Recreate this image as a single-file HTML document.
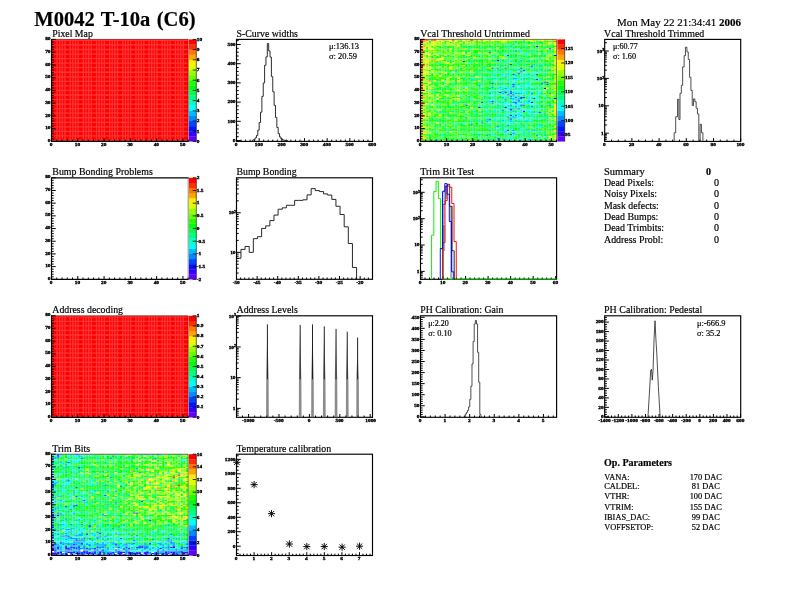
<!DOCTYPE html>
<html lang="en"><head><meta charset="utf-8"><title>M0042 T-10a (C6)</title>
<style>html,body{margin:0;padding:0;background:#fff}body{width:792px;height:612px;overflow:hidden}svg{display:block;font-family:'Liberation Serif','DejaVu Serif',serif}text{stroke:#000;stroke-width:.18px}.t{font-size:4.3px;font-weight:bold;stroke-width:.3px}</style></head><body>
<svg width="792" height="612" viewBox="0 0 792 612">
<rect width="792" height="612" fill="#fff"/>
<text x="34.3" y="25.6" font-size="20.8" font-weight="bold" textLength="161.2" lengthAdjust="spacingAndGlyphs" word-spacing="1.3">M0042 T-10a (C6)</text>
<text x="741" y="25.5" font-size="11" text-anchor="end" textLength="124" lengthAdjust="spacingAndGlyphs">Mon May 22 21:34:41 <tspan font-weight="bold">2006</tspan></text>
<text x="52.3" y="36.9" font-size="9.9" textLength="40.5" lengthAdjust="spacingAndGlyphs">Pixel Map</text>
<rect x="51.5" y="39.4" width="136.7" height="102" fill="#ff0000"/>
<path d="M57.06 39.4V141.4M59.69 39.4V141.4M62.32 39.4V141.4M64.94 39.4V141.4M70.2 39.4V141.4M72.83 39.4V141.4M75.46 39.4V141.4M78.09 39.4V141.4M83.35 39.4V141.4M85.97 39.4V141.4M88.6 39.4V141.4M91.23 39.4V141.4M96.49 39.4V141.4M99.12 39.4V141.4M101.75 39.4V141.4M104.38 39.4V141.4M109.63 39.4V141.4M112.26 39.4V141.4M114.89 39.4V141.4M117.52 39.4V141.4M122.78 39.4V141.4M125.41 39.4V141.4M128.04 39.4V141.4M130.67 39.4V141.4M135.92 39.4V141.4M138.55 39.4V141.4M141.18 39.4V141.4M143.81 39.4V141.4M149.07 39.4V141.4M151.7 39.4V141.4M154.33 39.4V141.4M156.95 39.4V141.4M162.21 39.4V141.4M164.84 39.4V141.4M167.47 39.4V141.4M170.1 39.4V141.4M175.36 39.4V141.4M177.98 39.4V141.4M180.61 39.4V141.4M183.24 39.4V141.4M51.5 40.4H188.2M51.5 44.95H188.2M51.5 49.5H188.2M51.5 54.05H188.2M51.5 58.6H188.2M51.5 63.15H188.2M51.5 67.7H188.2M51.5 72.25H188.2M51.5 76.8H188.2M51.5 81.35H188.2M51.5 85.9H188.2M51.5 90.45H188.2M51.5 95H188.2M51.5 99.55H188.2M51.5 104.1H188.2M51.5 108.65H188.2M51.5 113.2H188.2M51.5 117.75H188.2M51.5 122.3H188.2M51.5 126.85H188.2M51.5 131.4H188.2M51.5 135.95H188.2M51.5 140.5H188.2" stroke="#fff" stroke-opacity="0.2" stroke-width="1.3" fill="none"/>
<path d="M51.5 39.4H188.2V141.4" stroke="#400" stroke-opacity="0.55" stroke-width="1" fill="none"/>
<path d="M51.5 38.9V141.4H188.7" stroke="#000" stroke-width="1.15" fill="none"/>
<path d="M51.5 141.4v-3.3M56.76 141.4v-1.8M62.02 141.4v-1.8M67.27 141.4v-1.8M72.53 141.4v-1.8M77.79 141.4v-3.3M83.05 141.4v-1.8M88.3 141.4v-1.8M93.56 141.4v-1.8M98.82 141.4v-1.8M104.08 141.4v-3.3M109.33 141.4v-1.8M114.59 141.4v-1.8M119.85 141.4v-1.8M125.11 141.4v-1.8M130.37 141.4v-3.3M135.62 141.4v-1.8M140.88 141.4v-1.8M146.14 141.4v-1.8M151.4 141.4v-1.8M156.65 141.4v-3.3M161.91 141.4v-1.8M167.17 141.4v-1.8M172.43 141.4v-1.8M177.68 141.4v-1.8M182.94 141.4v-3.3M188.2 141.4v-1.8" stroke="#000" stroke-width="1" fill="none"/>
<text transform="translate(51.2 145.8) scale(1.25 1)" class="t" text-anchor="middle">0</text>
<text transform="translate(77.49 145.8) scale(1.25 1)" class="t" text-anchor="middle">10</text>
<text transform="translate(103.78 145.8) scale(1.25 1)" class="t" text-anchor="middle">20</text>
<text transform="translate(130.07 145.8) scale(1.25 1)" class="t" text-anchor="middle">30</text>
<text transform="translate(156.35 145.8) scale(1.25 1)" class="t" text-anchor="middle">40</text>
<text transform="translate(182.64 145.8) scale(1.25 1)" class="t" text-anchor="middle">50</text>
<path d="M51.5 141.4h4.2M51.5 138.85h2.2M51.5 136.3h2.2M51.5 133.75h2.2M51.5 131.2h2.2M51.5 128.65h4.2M51.5 126.1h2.2M51.5 123.55h2.2M51.5 121h2.2M51.5 118.45h2.2M51.5 115.9h4.2M51.5 113.35h2.2M51.5 110.8h2.2M51.5 108.25h2.2M51.5 105.7h2.2M51.5 103.15h4.2M51.5 100.6h2.2M51.5 98.05h2.2M51.5 95.5h2.2M51.5 92.95h2.2M51.5 90.4h4.2M51.5 87.85h2.2M51.5 85.3h2.2M51.5 82.75h2.2M51.5 80.2h2.2M51.5 77.65h4.2M51.5 75.1h2.2M51.5 72.55h2.2M51.5 70h2.2M51.5 67.45h2.2M51.5 64.9h4.2M51.5 62.35h2.2M51.5 59.8h2.2M51.5 57.25h2.2M51.5 54.7h2.2M51.5 52.15h4.2M51.5 49.6h2.2M51.5 47.05h2.2M51.5 44.5h2.2M51.5 41.95h2.2M51.5 39.4h4.2" stroke="#000" stroke-width="1" fill="none"/>
<text transform="translate(50.5 142) scale(1.25 1)" class="t" text-anchor="end">0</text>
<text transform="translate(50.5 129.25) scale(1.25 1)" class="t" text-anchor="end">10</text>
<text transform="translate(50.5 116.5) scale(1.25 1)" class="t" text-anchor="end">20</text>
<text transform="translate(50.5 103.75) scale(1.25 1)" class="t" text-anchor="end">30</text>
<text transform="translate(50.5 91) scale(1.25 1)" class="t" text-anchor="end">40</text>
<text transform="translate(50.5 78.25) scale(1.25 1)" class="t" text-anchor="end">50</text>
<text transform="translate(50.5 65.5) scale(1.25 1)" class="t" text-anchor="end">60</text>
<text transform="translate(50.5 52.75) scale(1.25 1)" class="t" text-anchor="end">70</text>
<text transform="translate(50.5 40) scale(1.25 1)" class="t" text-anchor="end">80</text>
<rect x="189" y="136.3" width="7.3" height="5.25" fill="#6300ff"/>
<rect x="189" y="131.2" width="7.3" height="5.25" fill="#3300ff"/>
<rect x="189" y="126.1" width="7.3" height="5.25" fill="#0014ff"/>
<rect x="189" y="121" width="7.3" height="5.25" fill="#0044ff"/>
<rect x="189" y="115.9" width="7.3" height="5.25" fill="#008bff"/>
<rect x="189" y="110.8" width="7.3" height="5.25" fill="#00bbff"/>
<rect x="189" y="105.7" width="7.3" height="5.25" fill="#00fffc"/>
<rect x="189" y="100.6" width="7.3" height="5.25" fill="#00ffcc"/>
<rect x="189" y="95.5" width="7.3" height="5.25" fill="#00ff85"/>
<rect x="189" y="90.4" width="7.3" height="5.25" fill="#00ff55"/>
<rect x="189" y="85.3" width="7.3" height="5.25" fill="#00ff0e"/>
<rect x="189" y="80.2" width="7.3" height="5.25" fill="#22ff00"/>
<rect x="189" y="75.1" width="7.3" height="5.25" fill="#69ff00"/>
<rect x="189" y="70" width="7.3" height="5.25" fill="#99ff00"/>
<rect x="189" y="64.9" width="7.3" height="5.25" fill="#e0ff00"/>
<rect x="189" y="59.8" width="7.3" height="5.25" fill="#ffee00"/>
<rect x="189" y="54.7" width="7.3" height="5.25" fill="#ffa700"/>
<rect x="189" y="49.6" width="7.3" height="5.25" fill="#ff7700"/>
<rect x="189" y="44.5" width="7.3" height="5.25" fill="#ff3000"/>
<rect x="189" y="39.4" width="7.3" height="5.25" fill="#ff0000"/>
<path d="M196.3 39.4L196.3 141.4" stroke="#000" stroke-width="0.6"/>
<text transform="translate(196.7 142.7) scale(1.25 1)" class="t">0</text>
<text transform="translate(196.7 132.5) scale(1.25 1)" class="t">1</text>
<text transform="translate(196.7 122.3) scale(1.25 1)" class="t">2</text>
<text transform="translate(196.7 112.1) scale(1.25 1)" class="t">3</text>
<text transform="translate(196.7 101.9) scale(1.25 1)" class="t">4</text>
<text transform="translate(196.7 91.7) scale(1.25 1)" class="t">5</text>
<text transform="translate(196.7 81.5) scale(1.25 1)" class="t">6</text>
<text transform="translate(196.7 71.3) scale(1.25 1)" class="t">7</text>
<text transform="translate(196.7 61.1) scale(1.25 1)" class="t">8</text>
<text transform="translate(196.7 50.9) scale(1.25 1)" class="t">9</text>
<text transform="translate(196.7 40.7) scale(1.25 1)" class="t">10</text>
<path d="M196.3 141.4h-3.6M196.3 131.2h-3.6M196.3 121h-3.6M196.3 110.8h-3.6M196.3 100.6h-3.6M196.3 90.4h-3.6M196.3 80.2h-3.6M196.3 70h-3.6M196.3 59.8h-3.6M196.3 49.6h-3.6M196.3 39.4h-3.6" stroke="#000" stroke-width="0.8" fill="none"/>
<text x="236.5" y="36.9" font-size="9.9" textLength="61.4" lengthAdjust="spacingAndGlyphs">S-Curve widths</text>
<rect x="236.5" y="39.4" width="136" height="102" fill="none" stroke="#000" stroke-width="1.15"/>
<path d="M236.5 141.4v-3.3M241.03 141.4v-1.8M245.57 141.4v-1.8M250.1 141.4v-1.8M254.63 141.4v-1.8M259.17 141.4v-3.3M263.7 141.4v-1.8M268.23 141.4v-1.8M272.77 141.4v-1.8M277.3 141.4v-1.8M281.83 141.4v-3.3M286.37 141.4v-1.8M290.9 141.4v-1.8M295.43 141.4v-1.8M299.97 141.4v-1.8M304.5 141.4v-3.3M309.03 141.4v-1.8M313.57 141.4v-1.8M318.1 141.4v-1.8M322.63 141.4v-1.8M327.17 141.4v-3.3M331.7 141.4v-1.8M336.23 141.4v-1.8M340.77 141.4v-1.8M345.3 141.4v-1.8M349.83 141.4v-3.3M354.37 141.4v-1.8M358.9 141.4v-1.8M363.43 141.4v-1.8M367.97 141.4v-1.8M372.5 141.4v-3.3" stroke="#000" stroke-width="1" fill="none"/>
<text transform="translate(236.2 145.8) scale(1.25 1)" class="t" text-anchor="middle">0</text>
<text transform="translate(258.87 145.8) scale(1.25 1)" class="t" text-anchor="middle">100</text>
<text transform="translate(281.53 145.8) scale(1.25 1)" class="t" text-anchor="middle">200</text>
<text transform="translate(304.2 145.8) scale(1.25 1)" class="t" text-anchor="middle">300</text>
<text transform="translate(326.87 145.8) scale(1.25 1)" class="t" text-anchor="middle">400</text>
<text transform="translate(349.53 145.8) scale(1.25 1)" class="t" text-anchor="middle">500</text>
<text transform="translate(372.2 145.8) scale(1.25 1)" class="t" text-anchor="middle">600</text>
<path d="M236.5 140.5h4.2M236.5 136.66h2.2M236.5 132.82h2.2M236.5 128.98h2.2M236.5 125.14h2.2M236.5 121.3h4.2M236.5 117.46h2.2M236.5 113.62h2.2M236.5 109.78h2.2M236.5 105.94h2.2M236.5 102.1h4.2M236.5 98.26h2.2M236.5 94.42h2.2M236.5 90.58h2.2M236.5 86.74h2.2M236.5 82.9h4.2M236.5 79.06h2.2M236.5 75.22h2.2M236.5 71.38h2.2M236.5 67.54h2.2M236.5 63.7h4.2M236.5 59.86h2.2M236.5 56.02h2.2M236.5 52.18h2.2M236.5 48.34h2.2M236.5 44.5h4.2M236.5 40.66h2.2" stroke="#000" stroke-width="1" fill="none"/>
<text transform="translate(235.5 141.8) scale(1.25 1)" class="t" text-anchor="end">0</text>
<text transform="translate(235.5 122.6) scale(1.25 1)" class="t" text-anchor="end">100</text>
<text transform="translate(235.5 103.4) scale(1.25 1)" class="t" text-anchor="end">200</text>
<text transform="translate(235.5 84.2) scale(1.25 1)" class="t" text-anchor="end">300</text>
<text transform="translate(235.5 65) scale(1.25 1)" class="t" text-anchor="end">400</text>
<text transform="translate(235.5 45.8) scale(1.25 1)" class="t" text-anchor="end">500</text>
<path d="M252.36 141.4V140.05H253.72V139.41H255.08V137.88H256.44V135.34H257.8V130.11H259.16V122.48H260.52V112.2H261.88V96.38H263.24V82.98H264.6V65.23H265.96V56.81H267.32V43.54H268.68V50.89H270.04V57.08H271.4V76.62H272.76V91.78H274.12V105.31H275.48V117.38H276.84V127.45H278.2V133.61H279.56V136.9H280.92V139.01H282.28V139.83H283.64V140.26H285V140.42H286.36V140.47H287.72V141.4" stroke="#222" stroke-width="0.95" fill="none" stroke-linejoin="miter"/>
<text x="328.9" y="48.8" font-size="7.8" textLength="30.1" lengthAdjust="spacingAndGlyphs">μ:136.13</text>
<text x="328.9" y="58.6" font-size="7.8" textLength="28.2" lengthAdjust="spacingAndGlyphs">σ: 20.59</text>
<text x="420.2" y="36.9" font-size="9.9" textLength="109.8" lengthAdjust="spacingAndGlyphs">Vcal Threshold Untrimmed</text>
<g stroke-width="1.32" fill="none">
<path stroke="#3300ff" d="M464.99 105.06h2.62M506.87 94.86h2.62M499.02 92.31h2.62M543.51 88.49h2.62M543.51 82.11h2.62M517.34 73.19h2.62M535.66 46.41h2.62"/>
<path stroke="#0014ff" d="M483.32 140.76h2.62M488.55 119.09h2.62M509.49 119.09h2.62M509.49 115.26h2.62M522.58 111.44h2.62M517.34 108.89h2.62M478.08 107.61h2.62M504.25 107.61h2.62M519.96 105.06h5.23M530.43 102.51h2.62M491.17 101.24h2.62M504.25 99.96h2.62M553.98 98.69h2.62M509.49 96.14h2.62M509.49 91.04h2.62M546.13 82.11h2.62M535.66 79.56h2.62M491.17 68.09h2.62M519.96 68.09h2.62M530.43 66.81h2.62M509.49 64.26h2.62M496.4 60.44h2.62M553.98 55.34h2.62M488.55 52.79h2.62M548.75 48.96h2.62"/>
<path stroke="#0044ff" d="M496.4 138.21h2.62M509.49 134.39h2.62M512.11 133.11h2.62M504.25 131.84h2.62M506.87 130.56h2.62M470.23 124.19h2.62M480.7 122.91h2.62M464.99 117.81h2.62M506.87 117.81h2.62M538.28 112.71h2.62M501.64 110.16h2.62M509.49 110.16h2.62M509.49 108.89h2.62M509.49 105.06h2.62M548.75 105.06h2.62M491.17 103.79h2.62M514.72 103.79h2.62M480.7 102.51h2.62M519.96 98.69h2.62M533.04 98.69h2.62M519.96 97.41h5.23M512.11 94.86h2.62M509.49 93.59h2.62M504.25 92.31h2.62M491.17 87.21h2.62M478.08 85.94h2.62M512.11 84.66h2.62M546.13 84.66h2.62M491.17 83.39h2.62M512.11 74.46h2.62M535.66 74.46h2.62M519.96 71.91h2.62M522.58 70.64h2.62M496.4 68.09h2.62M504.25 68.09h2.62M462.38 61.71h2.62M506.87 55.34h2.62"/>
<path stroke="#008bff" d="M485.93 135.66h2.62M535.66 135.66h2.62M527.81 131.84h2.62M512.11 130.56h2.62M496.4 126.74h2.62M506.87 125.46h2.62M485.93 119.09h2.62M509.49 117.81h7.85M522.58 117.81h2.62M514.72 115.26h2.62M543.51 113.99h2.62M512.11 108.89h2.62M530.43 106.34h2.62M496.4 105.06h2.62M512.11 102.51h5.23M517.34 101.24h2.62M527.81 101.24h2.62M514.72 99.96h5.23M509.49 98.69h2.62M514.72 97.41h2.62M517.34 96.14h2.62M530.43 93.59h2.62M548.75 93.59h2.62M509.49 92.31h2.62M501.64 91.04h5.23M504.25 88.49h2.62M499.02 87.21h2.62M512.11 87.21h2.62M512.11 85.94h2.62M538.28 85.94h2.62M540.9 83.39h2.62M504.25 77.01h2.62M454.52 71.91h2.62M464.99 52.79h2.62"/>
<path stroke="#00bbff" d="M488.55 140.76h2.62M527.81 139.49h2.62M543.51 135.66h2.62M478.08 134.39h2.62M488.55 131.84h2.62M533.04 130.56h2.62M485.93 121.64h2.62M509.49 121.64h2.62M525.19 121.64h2.62M501.64 120.36h2.62M517.34 117.81h2.62M512.11 116.54h2.62M519.96 115.26h2.62M517.34 113.99h2.62M533.04 112.71h2.62M512.11 111.44h2.62M519.96 110.16h2.62M493.78 108.89h2.62M506.87 108.89h2.62M514.72 108.89h2.62M514.72 106.34h2.62M506.87 105.06h2.62M517.34 105.06h2.62M538.28 105.06h2.62M519.96 102.51h2.62M488.55 101.24h2.62M493.78 99.96h2.62M512.11 99.96h2.62M527.81 99.96h2.62M512.11 98.69h2.62M517.34 98.69h2.62M501.64 97.41h2.62M512.11 96.14h2.62M493.78 94.86h2.62M530.43 94.86h2.62M488.55 93.59h2.62M501.64 93.59h2.62M514.72 93.59h7.85M512.11 92.31h2.62M493.78 91.04h2.62M530.43 89.76h2.62M506.87 87.21h2.62M517.34 84.66h2.62M499.02 83.39h2.62M506.87 83.39h2.62M496.4 82.11h2.62M514.72 82.11h2.62M512.11 78.29h5.23M522.58 78.29h2.62M543.51 71.91h2.62M517.34 69.36h2.62M527.81 66.81h2.62M533.04 64.26h2.62M519.96 60.44h2.62M514.72 51.51h2.62"/>
<path stroke="#00fffc" d="M499.02 139.49h2.62M506.87 139.49h2.62M512.11 139.49h2.62M517.34 139.49h2.62M525.19 139.49h2.62M519.96 138.21h5.23M496.4 136.94h2.62M459.76 135.66h2.62M506.87 135.66h2.62M514.72 135.66h2.62M478.08 133.11h2.62M488.55 133.11h2.62M504.25 133.11h2.62M514.72 133.11h2.62M512.11 131.84h2.62M519.96 131.84h2.62M533.04 131.84h2.62M436.2 130.56h2.62M499.02 130.56h2.62M527.81 130.56h2.62M496.4 129.29h2.62M504.25 129.29h2.62M509.49 129.29h2.62M519.96 129.29h2.62M533.04 128.01h2.62M525.19 126.74h2.62M538.28 126.74h2.62M499.02 124.19h2.62M506.87 124.19h2.62M506.87 122.91h2.62M488.55 121.64h2.62M501.64 121.64h2.62M527.81 121.64h2.62M551.37 121.64h2.62M512.11 120.36h2.62M519.96 120.36h2.62M527.81 120.36h5.23M514.72 119.09h2.62M525.19 119.09h2.62M538.28 119.09h2.62M488.55 117.81h2.62M519.96 117.81h2.62M527.81 117.81h5.23M517.34 116.54h2.62M504.25 115.26h5.23M535.66 113.99h2.62M506.87 112.71h2.62M512.11 112.71h2.62M517.34 112.71h2.62M527.81 112.71h2.62M499.02 111.44h2.62M517.34 111.44h5.23M525.19 111.44h2.62M472.85 110.16h2.62M480.7 110.16h2.62M485.93 110.16h2.62M506.87 110.16h2.62M527.81 110.16h5.23M488.55 107.61h2.62M506.87 107.61h2.62M517.34 107.61h2.62M480.7 106.34h2.62M517.34 106.34h2.62M491.17 105.06h2.62M514.72 105.06h2.62M493.78 103.79h2.62M504.25 103.79h5.23M512.11 103.79h2.62M517.34 103.79h5.23M527.81 103.79h2.62M533.04 103.79h2.62M488.55 102.51h2.62M496.4 102.51h2.62M504.25 102.51h2.62M525.19 102.51h5.23M501.64 101.24h2.62M512.11 101.24h2.62M519.96 101.24h2.62M488.55 99.96h5.23M514.72 98.69h2.62M525.19 98.69h5.23M535.66 98.69h5.23M512.11 97.41h2.62M527.81 97.41h2.62M533.04 97.41h5.23M501.64 96.14h5.23M530.43 96.14h2.62M543.51 96.14h2.62M491.17 94.86h2.62M491.17 93.59h2.62M496.4 93.59h2.62M522.58 93.59h2.62M514.72 92.31h2.62M519.96 92.31h2.62M538.28 92.31h5.23M483.32 91.04h2.62M517.34 91.04h7.85M530.43 91.04h5.23M478.08 89.76h2.62M488.55 89.76h2.62M496.4 89.76h2.62M514.72 89.76h2.62M519.96 89.76h2.62M499.02 88.49h2.62M512.11 88.49h2.62M525.19 88.49h2.62M517.34 87.21h2.62M538.28 87.21h2.62M499.02 85.94h5.23M527.81 85.94h5.23M525.19 84.66h2.62M514.72 83.39h2.62M493.78 82.11h2.62M512.11 82.11h2.62M514.72 80.84h2.62M519.96 80.84h2.62M483.32 79.56h2.62M493.78 79.56h5.23M501.64 79.56h2.62M514.72 79.56h5.23M530.43 79.56h2.62M519.96 78.29h2.62M533.04 78.29h2.62M483.32 77.01h2.62M493.78 77.01h2.62M514.72 77.01h2.62M525.19 77.01h2.62M501.64 75.74h2.62M519.96 75.74h2.62M525.19 75.74h5.23M501.64 74.46h2.62M519.96 74.46h2.62M530.43 74.46h2.62M522.58 73.19h2.62M533.04 73.19h5.23M504.25 71.91h2.62M509.49 70.64h2.62M517.34 70.64h2.62M538.28 70.64h2.62M530.43 69.36h2.62M546.13 68.09h2.62M540.9 64.26h2.62M506.87 61.71h2.62M517.34 56.61h2.62M504.25 55.34h2.62M514.72 52.79h2.62M519.96 52.79h2.62M506.87 51.51h2.62M514.72 48.96h2.62M514.72 45.14h2.62"/>
<path stroke="#00ffcc" d="M457.14 140.76h2.62M462.38 140.76h2.62M493.78 140.76h7.85M530.43 140.76h2.62M551.37 140.76h2.62M480.7 139.49h2.62M509.49 139.49h2.62M519.96 139.49h2.62M530.43 139.49h2.62M441.44 138.21h2.62M491.17 138.21h2.62M506.87 138.21h5.23M527.81 138.21h2.62M538.28 138.21h2.62M459.76 136.94h2.62M512.11 136.94h2.62M538.28 136.94h2.62M543.51 136.94h2.62M491.17 135.66h5.23M512.11 135.66h2.62M425.73 134.39h2.62M491.17 134.39h2.62M512.11 134.39h2.62M519.96 134.39h2.62M525.19 134.39h2.62M540.9 134.39h2.62M441.44 133.11h2.62M483.32 133.11h2.62M540.9 133.11h2.62M499.02 131.84h2.62M506.87 131.84h2.62M504.25 130.56h2.62M509.49 130.56h2.62M540.9 130.56h2.62M446.67 129.29h2.62M488.55 129.29h2.62M522.58 129.29h2.62M496.4 128.01h5.23M504.25 128.01h5.23M538.28 128.01h2.62M517.34 126.74h2.62M530.43 126.74h2.62M540.9 126.74h2.62M454.52 125.46h2.62M491.17 125.46h2.62M512.11 125.46h2.62M517.34 125.46h2.62M525.19 125.46h2.62M441.44 124.19h2.62M454.52 124.19h2.62M462.38 124.19h2.62M478.08 124.19h2.62M509.49 124.19h2.62M459.76 122.91h2.62M488.55 122.91h2.62M509.49 122.91h2.62M514.72 122.91h5.23M478.08 121.64h2.62M483.32 121.64h2.62M493.78 121.64h2.62M504.25 121.64h5.23M548.75 121.64h2.62M470.23 120.36h2.62M493.78 120.36h7.85M504.25 120.36h2.62M517.34 120.36h2.62M522.58 120.36h2.62M446.67 119.09h2.62M491.17 119.09h5.23M499.02 119.09h2.62M517.34 119.09h2.62M522.58 119.09h2.62M478.08 117.81h2.62M496.4 117.81h5.23M504.25 117.81h2.62M501.64 116.54h2.62M509.49 116.54h2.62M514.72 116.54h2.62M519.96 116.54h2.62M488.55 115.26h2.62M496.4 115.26h2.62M512.11 115.26h2.62M517.34 115.26h2.62M522.58 115.26h2.62M533.04 115.26h2.62M540.9 115.26h2.62M496.4 113.99h5.23M504.25 113.99h2.62M514.72 113.99h2.62M519.96 113.99h2.62M527.81 113.99h7.85M483.32 112.71h2.62M488.55 112.71h2.62M540.9 112.71h2.62M436.2 111.44h2.62M485.93 111.44h2.62M493.78 111.44h2.62M506.87 111.44h5.23M527.81 111.44h5.23M535.66 111.44h2.62M491.17 110.16h7.85M504.25 110.16h2.62M525.19 110.16h2.62M533.04 110.16h2.62M538.28 110.16h2.62M478.08 108.89h2.62M522.58 108.89h2.62M530.43 108.89h2.62M535.66 108.89h2.62M509.49 107.61h5.23M519.96 107.61h2.62M501.64 106.34h2.62M533.04 106.34h2.62M538.28 106.34h2.62M433.59 105.06h2.62M451.91 105.06h2.62M478.08 105.06h2.62M501.64 105.06h5.23M512.11 105.06h2.62M533.04 105.06h2.62M543.51 105.06h2.62M499.02 103.79h5.23M509.49 103.79h2.62M522.58 103.79h5.23M530.43 103.79h2.62M540.9 103.79h2.62M506.87 102.51h2.62M517.34 102.51h2.62M522.58 102.51h2.62M535.66 102.51h2.62M493.78 101.24h2.62M506.87 101.24h5.23M514.72 101.24h2.62M533.04 101.24h2.62M538.28 101.24h2.62M543.51 101.24h2.62M478.08 99.96h2.62M522.58 99.96h2.62M530.43 99.96h2.62M535.66 99.96h2.62M433.59 98.69h2.62M470.23 98.69h2.62M485.93 98.69h2.62M491.17 98.69h2.62M499.02 98.69h7.85M546.13 98.69h2.62M470.23 97.41h2.62M493.78 97.41h2.62M509.49 97.41h2.62M517.34 97.41h2.62M530.43 97.41h2.62M480.7 96.14h2.62M491.17 96.14h2.62M506.87 96.14h2.62M527.81 96.14h2.62M533.04 96.14h2.62M480.7 94.86h2.62M488.55 94.86h2.62M499.02 94.86h2.62M514.72 94.86h2.62M519.96 94.86h2.62M525.19 94.86h2.62M535.66 94.86h5.23M483.32 93.59h2.62M499.02 93.59h2.62M506.87 93.59h2.62M512.11 93.59h2.62M525.19 93.59h5.23M535.66 93.59h2.62M501.64 92.31h2.62M506.87 92.31h2.62M522.58 92.31h5.23M535.66 92.31h2.62M428.35 91.04h2.62M488.55 91.04h2.62M506.87 91.04h2.62M514.72 91.04h2.62M538.28 91.04h2.62M543.51 91.04h2.62M438.82 89.76h2.62M491.17 89.76h2.62M499.02 89.76h2.62M504.25 89.76h5.23M517.34 89.76h2.62M535.66 89.76h2.62M457.14 88.49h2.62M501.64 88.49h2.62M506.87 88.49h5.23M514.72 88.49h2.62M522.58 88.49h2.62M538.28 88.49h5.23M464.99 87.21h2.62M480.7 87.21h2.62M493.78 87.21h5.23M504.25 87.21h2.62M509.49 87.21h2.62M514.72 87.21h2.62M519.96 87.21h5.23M530.43 87.21h5.23M470.23 85.94h2.62M504.25 85.94h2.62M509.49 85.94h2.62M517.34 85.94h10.47M540.9 85.94h2.62M519.96 84.66h2.62M527.81 84.66h2.62M451.91 83.39h2.62M509.49 83.39h2.62M525.19 83.39h5.23M519.96 82.11h2.62M525.19 82.11h2.62M444.06 80.84h2.62M493.78 80.84h2.62M506.87 80.84h2.62M512.11 80.84h2.62M538.28 80.84h2.62M506.87 79.56h5.23M527.81 79.56h2.62M538.28 79.56h2.62M464.99 78.29h2.62M470.23 78.29h5.23M478.08 78.29h2.62M506.87 78.29h2.62M517.34 78.29h2.62M535.66 78.29h5.23M491.17 77.01h2.62M499.02 77.01h2.62M509.49 77.01h2.62M519.96 77.01h2.62M530.43 77.01h5.23M499.02 75.74h2.62M504.25 75.74h5.23M512.11 75.74h2.62M522.58 75.74h2.62M533.04 75.74h2.62M478.08 74.46h2.62M493.78 74.46h2.62M504.25 74.46h2.62M514.72 74.46h2.62M540.9 74.46h2.62M493.78 73.19h2.62M499.02 73.19h2.62M509.49 73.19h2.62M525.19 73.19h2.62M530.43 73.19h2.62M480.7 71.91h2.62M499.02 71.91h2.62M506.87 71.91h5.23M517.34 71.91h2.62M533.04 71.91h2.62M493.78 70.64h2.62M501.64 70.64h2.62M506.87 70.64h2.62M441.44 69.36h2.62M493.78 69.36h2.62M514.72 69.36h2.62M517.34 68.09h2.62M535.66 68.09h2.62M493.78 66.81h2.62M514.72 66.81h2.62M533.04 66.81h2.62M533.04 65.54h2.62M504.25 64.26h2.62M514.72 64.26h2.62M538.28 64.26h2.62M467.61 62.99h2.62M504.25 62.99h2.62M512.11 62.99h2.62M525.19 62.99h2.62M493.78 61.71h2.62M499.02 61.71h2.62M504.25 60.44h2.62M509.49 60.44h2.62M517.34 60.44h2.62M527.81 60.44h5.23M538.28 60.44h2.62M491.17 56.61h2.62M525.19 55.34h2.62M491.17 54.06h2.62M519.96 54.06h2.62M525.19 54.06h2.62M535.66 54.06h2.62M522.58 52.79h5.23M535.66 52.79h2.62M543.51 52.79h2.62M488.55 51.51h2.62M519.96 51.51h2.62M527.81 51.51h2.62M533.04 51.51h2.62M470.23 50.24h2.62M509.49 48.96h2.62M517.34 48.96h2.62M530.43 48.96h2.62M444.06 47.69h2.62M506.87 47.69h2.62M512.11 46.41h2.62M525.19 46.41h2.62M530.43 46.41h2.62M514.72 43.86h2.62M533.04 43.86h2.62"/>
<path stroke="#00ff85" d="M430.97 140.76h5.23M480.7 140.76h2.62M517.34 140.76h5.23M527.81 140.76h2.62M449.29 139.49h2.62M459.76 139.49h2.62M478.08 139.49h2.62M496.4 139.49h2.62M501.64 139.49h5.23M540.9 139.49h2.62M546.13 139.49h2.62M430.97 138.21h2.62M436.2 138.21h2.62M457.14 138.21h2.62M488.55 138.21h2.62M501.64 138.21h5.23M517.34 138.21h2.62M530.43 138.21h7.85M438.82 136.94h2.62M454.52 136.94h2.62M467.61 136.94h2.62M478.08 136.94h2.62M483.32 136.94h2.62M506.87 136.94h5.23M525.19 136.94h2.62M441.44 135.66h2.62M501.64 135.66h2.62M519.96 135.66h2.62M525.19 135.66h7.85M441.44 134.39h2.62M446.67 134.39h2.62M470.23 134.39h2.62M485.93 134.39h2.62M493.78 134.39h2.62M504.25 134.39h2.62M514.72 134.39h2.62M522.58 134.39h2.62M527.81 134.39h2.62M436.2 133.11h2.62M470.23 133.11h2.62M475.46 133.11h2.62M480.7 133.11h2.62M493.78 133.11h2.62M499.02 133.11h2.62M506.87 133.11h2.62M517.34 133.11h2.62M522.58 133.11h2.62M535.66 133.11h5.23M428.35 131.84h5.23M491.17 131.84h2.62M501.64 131.84h2.62M522.58 131.84h5.23M538.28 131.84h2.62M446.67 130.56h2.62M457.14 130.56h2.62M462.38 130.56h2.62M470.23 130.56h2.62M475.46 130.56h2.62M493.78 130.56h2.62M501.64 130.56h2.62M514.72 130.56h10.47M535.66 130.56h2.62M464.99 129.29h2.62M472.85 129.29h2.62M491.17 129.29h5.23M501.64 129.29h2.62M512.11 129.29h2.62M530.43 129.29h2.62M454.52 128.01h2.62M472.85 128.01h2.62M501.64 128.01h2.62M512.11 128.01h2.62M519.96 128.01h7.85M548.75 128.01h2.62M436.2 126.74h2.62M444.06 126.74h2.62M485.93 126.74h2.62M499.02 126.74h5.23M509.49 126.74h7.85M519.96 126.74h2.62M535.66 126.74h2.62M428.35 125.46h2.62M464.99 125.46h2.62M485.93 125.46h5.23M499.02 125.46h5.23M535.66 125.46h7.85M546.13 125.46h2.62M436.2 124.19h2.62M444.06 124.19h2.62M488.55 124.19h2.62M496.4 124.19h2.62M501.64 124.19h5.23M514.72 124.19h5.23M530.43 124.19h2.62M535.66 124.19h7.85M546.13 124.19h2.62M425.73 122.91h2.62M438.82 122.91h2.62M451.91 122.91h2.62M462.38 122.91h5.23M470.23 122.91h2.62M478.08 122.91h2.62M512.11 122.91h2.62M522.58 122.91h7.85M535.66 122.91h2.62M553.98 122.91h2.62M512.11 121.64h5.23M522.58 121.64h2.62M533.04 121.64h2.62M546.13 121.64h2.62M444.06 120.36h2.62M451.91 120.36h2.62M467.61 120.36h2.62M475.46 120.36h5.23M485.93 120.36h5.23M506.87 120.36h5.23M433.59 119.09h2.62M449.29 119.09h5.23M480.7 119.09h2.62M496.4 119.09h2.62M501.64 119.09h2.62M506.87 119.09h2.62M519.96 119.09h2.62M530.43 119.09h7.85M546.13 119.09h5.23M493.78 117.81h2.62M525.19 117.81h2.62M535.66 117.81h13.09M430.97 116.54h2.62M472.85 116.54h2.62M480.7 116.54h2.62M485.93 116.54h2.62M493.78 116.54h2.62M499.02 116.54h2.62M504.25 116.54h2.62M525.19 116.54h7.85M535.66 116.54h2.62M546.13 116.54h2.62M464.99 115.26h2.62M472.85 115.26h2.62M485.93 115.26h2.62M501.64 115.26h2.62M525.19 115.26h5.23M438.82 113.99h2.62M462.38 113.99h5.23M480.7 113.99h2.62M506.87 113.99h7.85M522.58 113.99h2.62M454.52 112.71h2.62M472.85 112.71h2.62M485.93 112.71h2.62M491.17 112.71h5.23M499.02 112.71h2.62M514.72 112.71h2.62M519.96 112.71h2.62M535.66 112.71h2.62M433.59 111.44h2.62M454.52 111.44h2.62M462.38 111.44h2.62M488.55 111.44h2.62M501.64 111.44h5.23M514.72 111.44h2.62M543.51 111.44h2.62M459.76 110.16h5.23M483.32 110.16h2.62M517.34 110.16h2.62M522.58 110.16h2.62M535.66 110.16h2.62M540.9 110.16h2.62M425.73 108.89h2.62M459.76 108.89h2.62M485.93 108.89h2.62M499.02 108.89h5.23M525.19 108.89h5.23M540.9 108.89h2.62M436.2 107.61h2.62M454.52 107.61h2.62M472.85 107.61h2.62M483.32 107.61h5.23M499.02 107.61h2.62M525.19 107.61h10.47M538.28 107.61h2.62M438.82 106.34h2.62M464.99 106.34h2.62M485.93 106.34h2.62M496.4 106.34h5.23M504.25 106.34h10.47M522.58 106.34h2.62M527.81 106.34h2.62M535.66 106.34h2.62M548.75 106.34h5.23M483.32 105.06h2.62M488.55 105.06h2.62M499.02 105.06h2.62M527.81 105.06h5.23M535.66 105.06h2.62M430.97 103.79h2.62M451.91 103.79h2.62M457.14 103.79h2.62M470.23 103.79h2.62M480.7 103.79h2.62M496.4 103.79h2.62M451.91 102.51h5.23M475.46 102.51h2.62M483.32 102.51h5.23M501.64 102.51h2.62M533.04 102.51h2.62M540.9 102.51h2.62M459.76 101.24h2.62M470.23 101.24h5.23M478.08 101.24h2.62M483.32 101.24h2.62M496.4 101.24h5.23M522.58 101.24h5.23M530.43 101.24h2.62M535.66 101.24h2.62M457.14 99.96h2.62M464.99 99.96h2.62M470.23 99.96h2.62M475.46 99.96h2.62M485.93 99.96h2.62M543.51 99.96h2.62M444.06 98.69h5.23M464.99 98.69h2.62M483.32 98.69h2.62M493.78 98.69h2.62M506.87 98.69h2.62M522.58 98.69h2.62M551.37 98.69h2.62M436.2 97.41h2.62M459.76 97.41h2.62M464.99 97.41h2.62M485.93 97.41h5.23M506.87 97.41h2.62M543.51 97.41h2.62M454.52 96.14h2.62M478.08 96.14h2.62M496.4 96.14h2.62M519.96 96.14h2.62M525.19 96.14h2.62M459.76 94.86h2.62M501.64 94.86h5.23M509.49 94.86h2.62M540.9 94.86h5.23M433.59 93.59h2.62M478.08 93.59h5.23M493.78 93.59h2.62M538.28 93.59h2.62M459.76 92.31h2.62M467.61 92.31h2.62M478.08 92.31h5.23M485.93 92.31h2.62M491.17 92.31h2.62M496.4 92.31h2.62M517.34 92.31h2.62M530.43 92.31h2.62M451.91 91.04h2.62M491.17 91.04h2.62M496.4 91.04h5.23M512.11 91.04h2.62M525.19 91.04h2.62M459.76 89.76h2.62M493.78 89.76h2.62M509.49 89.76h2.62M525.19 89.76h5.23M433.59 88.49h2.62M467.61 88.49h2.62M517.34 88.49h2.62M527.81 88.49h10.47M462.38 87.21h2.62M467.61 87.21h2.62M475.46 87.21h2.62M488.55 87.21h2.62M501.64 87.21h2.62M525.19 87.21h5.23M454.52 85.94h2.62M464.99 85.94h2.62M480.7 85.94h2.62M493.78 85.94h2.62M533.04 85.94h2.62M478.08 84.66h2.62M483.32 84.66h2.62M488.55 84.66h2.62M501.64 84.66h5.23M509.49 84.66h2.62M538.28 84.66h2.62M436.2 83.39h2.62M444.06 83.39h2.62M470.23 83.39h2.62M478.08 83.39h5.23M485.93 83.39h2.62M501.64 83.39h2.62M530.43 83.39h2.62M499.02 82.11h2.62M504.25 82.11h2.62M509.49 82.11h2.62M527.81 82.11h2.62M501.64 80.84h2.62M509.49 80.84h2.62M522.58 80.84h10.47M535.66 80.84h2.62M467.61 79.56h2.62M478.08 79.56h2.62M485.93 79.56h7.85M512.11 79.56h2.62M522.58 79.56h2.62M540.9 79.56h2.62M475.46 78.29h2.62M485.93 78.29h2.62M496.4 78.29h2.62M504.25 78.29h2.62M509.49 78.29h2.62M527.81 78.29h2.62M428.35 77.01h2.62M462.38 77.01h2.62M470.23 77.01h2.62M488.55 77.01h2.62M512.11 77.01h2.62M522.58 77.01h2.62M527.81 77.01h2.62M441.44 75.74h2.62M451.91 75.74h2.62M475.46 75.74h2.62M480.7 75.74h2.62M488.55 75.74h7.85M509.49 75.74h2.62M491.17 74.46h2.62M506.87 74.46h2.62M525.19 74.46h2.62M533.04 74.46h2.62M543.51 74.46h2.62M449.29 73.19h5.23M485.93 73.19h7.85M496.4 73.19h2.62M506.87 73.19h2.62M514.72 73.19h2.62M538.28 73.19h2.62M546.13 73.19h2.62M467.61 71.91h2.62M493.78 71.91h5.23M512.11 71.91h5.23M522.58 71.91h2.62M527.81 71.91h2.62M540.9 71.91h2.62M446.67 70.64h2.62M451.91 70.64h2.62M475.46 70.64h2.62M483.32 70.64h2.62M525.19 70.64h2.62M530.43 70.64h2.62M438.82 69.36h2.62M454.52 69.36h2.62M483.32 69.36h2.62M491.17 69.36h2.62M496.4 69.36h2.62M522.58 69.36h5.23M540.9 69.36h2.62M546.13 69.36h2.62M493.78 68.09h2.62M499.02 68.09h5.23M509.49 68.09h5.23M538.28 68.09h5.23M499.02 66.81h2.62M504.25 66.81h2.62M509.49 66.81h2.62M535.66 66.81h2.62M496.4 65.54h7.85M506.87 65.54h2.62M517.34 65.54h2.62M522.58 65.54h5.23M543.51 65.54h2.62M467.61 64.26h2.62M496.4 64.26h2.62M522.58 64.26h2.62M535.66 64.26h2.62M470.23 62.99h2.62M499.02 62.99h2.62M451.91 61.71h2.62M470.23 61.71h5.23M501.64 61.71h2.62M522.58 61.71h2.62M530.43 61.71h2.62M449.29 60.44h2.62M499.02 60.44h2.62M506.87 60.44h2.62M512.11 60.44h2.62M478.08 59.16h2.62M499.02 59.16h2.62M506.87 59.16h2.62M512.11 59.16h2.62M527.81 59.16h2.62M535.66 59.16h7.85M491.17 57.89h2.62M533.04 57.89h2.62M538.28 57.89h2.62M480.7 56.61h2.62M488.55 56.61h2.62M493.78 56.61h2.62M504.25 56.61h5.23M512.11 56.61h2.62M525.19 56.61h2.62M475.46 55.34h2.62M480.7 55.34h2.62M493.78 55.34h2.62M517.34 55.34h2.62M522.58 55.34h2.62M438.82 54.06h2.62M504.25 54.06h2.62M527.81 54.06h2.62M543.51 54.06h2.62M509.49 52.79h2.62M533.04 52.79h2.62M538.28 52.79h2.62M446.67 51.51h2.62M457.14 51.51h2.62M493.78 51.51h2.62M504.25 51.51h2.62M512.11 51.51h2.62M530.43 51.51h2.62M548.75 51.51h2.62M480.7 50.24h2.62M491.17 50.24h2.62M517.34 50.24h5.23M533.04 50.24h2.62M540.9 50.24h2.62M485.93 48.96h2.62M512.11 48.96h2.62M451.91 47.69h2.62M462.38 47.69h10.47M480.7 47.69h2.62M488.55 47.69h2.62M504.25 47.69h2.62M509.49 47.69h2.62M535.66 47.69h2.62M540.9 47.69h2.62M472.85 46.41h2.62M480.7 46.41h2.62M543.51 46.41h2.62M496.4 45.14h2.62M504.25 45.14h5.23M525.19 45.14h2.62M509.49 43.86h2.62M530.43 43.86h2.62M514.72 42.59h2.62M428.35 41.31h2.62"/>
<path stroke="#00ff55" d="M425.73 140.76h2.62M444.06 140.76h2.62M472.85 140.76h2.62M485.93 140.76h2.62M504.25 140.76h2.62M514.72 140.76h2.62M522.58 140.76h5.23M538.28 140.76h5.23M546.13 140.76h2.62M433.59 139.49h7.85M454.52 139.49h2.62M485.93 139.49h10.47M514.72 139.49h2.62M538.28 139.49h2.62M543.51 139.49h2.62M449.29 138.21h2.62M462.38 138.21h2.62M475.46 138.21h2.62M499.02 138.21h2.62M543.51 138.21h5.23M446.67 136.94h2.62M464.99 136.94h2.62M470.23 136.94h2.62M475.46 136.94h2.62M480.7 136.94h2.62M485.93 136.94h5.23M504.25 136.94h2.62M519.96 136.94h2.62M540.9 136.94h2.62M546.13 136.94h2.62M451.91 135.66h5.23M467.61 135.66h2.62M472.85 135.66h5.23M499.02 135.66h2.62M504.25 135.66h2.62M522.58 135.66h2.62M548.75 135.66h2.62M428.35 134.39h2.62M451.91 134.39h2.62M459.76 134.39h2.62M475.46 134.39h2.62M496.4 134.39h2.62M517.34 134.39h2.62M530.43 134.39h2.62M535.66 134.39h5.23M444.06 133.11h5.23M457.14 133.11h2.62M462.38 133.11h7.85M472.85 133.11h2.62M501.64 133.11h2.62M509.49 133.11h2.62M519.96 133.11h2.62M525.19 133.11h5.23M543.51 133.11h2.62M436.2 131.84h2.62M441.44 131.84h2.62M446.67 131.84h2.62M478.08 131.84h2.62M483.32 131.84h2.62M509.49 131.84h2.62M514.72 131.84h5.23M535.66 131.84h2.62M543.51 131.84h2.62M548.75 131.84h2.62M430.97 130.56h2.62M449.29 130.56h2.62M454.52 130.56h2.62M472.85 130.56h2.62M491.17 130.56h2.62M496.4 130.56h2.62M525.19 130.56h2.62M530.43 130.56h2.62M538.28 130.56h2.62M543.51 130.56h2.62M430.97 129.29h5.23M444.06 129.29h2.62M449.29 129.29h2.62M459.76 129.29h2.62M478.08 129.29h2.62M506.87 129.29h2.62M517.34 129.29h2.62M525.19 129.29h5.23M533.04 129.29h5.23M548.75 129.29h2.62M436.2 128.01h2.62M444.06 128.01h2.62M457.14 128.01h2.62M470.23 128.01h2.62M485.93 128.01h5.23M493.78 128.01h2.62M517.34 128.01h2.62M535.66 128.01h2.62M546.13 128.01h2.62M433.59 126.74h2.62M438.82 126.74h2.62M451.91 126.74h2.62M459.76 126.74h2.62M467.61 126.74h2.62M472.85 126.74h7.85M483.32 126.74h2.62M493.78 126.74h2.62M504.25 126.74h5.23M548.75 126.74h2.62M444.06 125.46h2.62M451.91 125.46h2.62M457.14 125.46h2.62M483.32 125.46h2.62M493.78 125.46h2.62M504.25 125.46h2.62M509.49 125.46h2.62M519.96 125.46h5.23M527.81 125.46h5.23M430.97 124.19h2.62M446.67 124.19h5.23M472.85 124.19h2.62M480.7 124.19h2.62M485.93 124.19h2.62M512.11 124.19h2.62M519.96 124.19h5.23M428.35 122.91h2.62M433.59 122.91h2.62M454.52 122.91h2.62M467.61 122.91h2.62M491.17 122.91h2.62M496.4 122.91h10.47M519.96 122.91h2.62M533.04 122.91h2.62M538.28 122.91h2.62M548.75 122.91h2.62M430.97 121.64h2.62M436.2 121.64h5.23M462.38 121.64h2.62M470.23 121.64h2.62M475.46 121.64h2.62M538.28 121.64h2.62M543.51 121.64h2.62M425.73 120.36h2.62M436.2 120.36h2.62M464.99 120.36h2.62M472.85 120.36h2.62M483.32 120.36h2.62M491.17 120.36h2.62M514.72 120.36h2.62M525.19 120.36h2.62M538.28 120.36h2.62M543.51 120.36h2.62M441.44 119.09h2.62M462.38 119.09h7.85M478.08 119.09h2.62M483.32 119.09h2.62M504.25 119.09h2.62M512.11 119.09h2.62M527.81 119.09h2.62M540.9 119.09h5.23M436.2 117.81h2.62M441.44 117.81h2.62M457.14 117.81h2.62M470.23 117.81h5.23M480.7 117.81h2.62M485.93 117.81h2.62M501.64 117.81h2.62M533.04 117.81h2.62M446.67 116.54h5.23M454.52 116.54h2.62M483.32 116.54h2.62M491.17 116.54h2.62M496.4 116.54h2.62M506.87 116.54h2.62M533.04 116.54h2.62M540.9 116.54h5.23M548.75 116.54h5.23M446.67 115.26h2.62M467.61 115.26h5.23M475.46 115.26h7.85M499.02 115.26h2.62M530.43 115.26h2.62M538.28 115.26h2.62M543.51 115.26h2.62M446.67 113.99h2.62M451.91 113.99h2.62M457.14 113.99h2.62M475.46 113.99h2.62M525.19 113.99h2.62M538.28 113.99h2.62M546.13 113.99h2.62M436.2 112.71h13.09M475.46 112.71h7.85M496.4 112.71h2.62M504.25 112.71h2.62M509.49 112.71h2.62M525.19 112.71h2.62M530.43 112.71h2.62M548.75 112.71h2.62M438.82 111.44h5.23M449.29 111.44h2.62M470.23 111.44h5.23M483.32 111.44h2.62M491.17 111.44h2.62M496.4 111.44h2.62M538.28 111.44h2.62M546.13 111.44h2.62M551.37 111.44h2.62M441.44 110.16h2.62M451.91 110.16h2.62M467.61 110.16h2.62M499.02 110.16h2.62M514.72 110.16h2.62M438.82 108.89h2.62M464.99 108.89h2.62M475.46 108.89h2.62M496.4 108.89h2.62M504.25 108.89h2.62M519.96 108.89h2.62M538.28 108.89h2.62M428.35 107.61h5.23M446.67 107.61h5.23M457.14 107.61h2.62M491.17 107.61h7.85M501.64 107.61h2.62M514.72 107.61h2.62M535.66 107.61h2.62M540.9 107.61h2.62M436.2 106.34h2.62M451.91 106.34h2.62M470.23 106.34h2.62M478.08 106.34h2.62M483.32 106.34h2.62M491.17 106.34h2.62M519.96 106.34h2.62M543.51 106.34h2.62M425.73 105.06h5.23M457.14 105.06h2.62M472.85 105.06h5.23M480.7 105.06h2.62M485.93 105.06h2.62M493.78 105.06h2.62M525.19 105.06h2.62M436.2 103.79h2.62M454.52 103.79h2.62M464.99 103.79h2.62M483.32 103.79h5.23M535.66 103.79h2.62M546.13 103.79h2.62M551.37 103.79h2.62M430.97 102.51h2.62M438.82 102.51h2.62M459.76 102.51h5.23M467.61 102.51h2.62M493.78 102.51h2.62M499.02 102.51h2.62M462.38 101.24h2.62M485.93 101.24h2.62M548.75 101.24h2.62M430.97 99.96h2.62M441.44 99.96h2.62M480.7 99.96h5.23M499.02 99.96h5.23M509.49 99.96h2.62M519.96 99.96h2.62M538.28 99.96h2.62M459.76 98.69h2.62M467.61 98.69h2.62M480.7 98.69h2.62M496.4 98.69h2.62M530.43 98.69h2.62M543.51 98.69h2.62M548.75 98.69h2.62M491.17 97.41h2.62M504.25 97.41h2.62M525.19 97.41h2.62M538.28 97.41h2.62M459.76 96.14h2.62M485.93 96.14h5.23M514.72 96.14h2.62M522.58 96.14h2.62M535.66 96.14h7.85M467.61 94.86h2.62M483.32 94.86h2.62M496.4 94.86h2.62M517.34 94.86h2.62M522.58 94.86h2.62M430.97 93.59h2.62M441.44 93.59h2.62M449.29 93.59h2.62M472.85 93.59h5.23M485.93 93.59h2.62M504.25 93.59h2.62M433.59 92.31h2.62M451.91 92.31h2.62M462.38 92.31h2.62M472.85 92.31h2.62M488.55 92.31h2.62M493.78 92.31h2.62M527.81 92.31h2.62M430.97 91.04h2.62M462.38 91.04h2.62M478.08 91.04h2.62M527.81 91.04h2.62M535.66 91.04h2.62M551.37 91.04h2.62M433.59 89.76h2.62M446.67 89.76h2.62M470.23 89.76h2.62M480.7 89.76h2.62M501.64 89.76h2.62M512.11 89.76h2.62M522.58 89.76h2.62M540.9 89.76h2.62M548.75 89.76h2.62M425.73 88.49h2.62M446.67 88.49h2.62M462.38 88.49h2.62M470.23 88.49h5.23M478.08 88.49h7.85M491.17 88.49h2.62M496.4 88.49h2.62M519.96 88.49h2.62M441.44 87.21h7.85M451.91 87.21h2.62M459.76 87.21h2.62M543.51 87.21h2.62M428.35 85.94h2.62M438.82 85.94h2.62M444.06 85.94h7.85M457.14 85.94h2.62M485.93 85.94h2.62M491.17 85.94h2.62M496.4 85.94h2.62M430.97 84.66h2.62M451.91 84.66h5.23M470.23 84.66h2.62M480.7 84.66h2.62M491.17 84.66h2.62M499.02 84.66h2.62M506.87 84.66h2.62M514.72 84.66h2.62M522.58 84.66h2.62M533.04 84.66h5.23M543.51 84.66h2.62M457.14 83.39h2.62M467.61 83.39h2.62M493.78 83.39h2.62M512.11 83.39h2.62M519.96 83.39h5.23M543.51 83.39h2.62M430.97 82.11h2.62M436.2 82.11h2.62M459.76 82.11h2.62M467.61 82.11h2.62M478.08 82.11h5.23M491.17 82.11h2.62M506.87 82.11h2.62M517.34 82.11h2.62M522.58 82.11h2.62M530.43 82.11h2.62M535.66 82.11h5.23M430.97 80.84h2.62M462.38 80.84h2.62M470.23 80.84h5.23M480.7 80.84h2.62M485.93 80.84h2.62M491.17 80.84h2.62M496.4 80.84h5.23M504.25 80.84h2.62M533.04 80.84h2.62M428.35 79.56h2.62M451.91 79.56h2.62M462.38 79.56h2.62M470.23 79.56h5.23M480.7 79.56h2.62M519.96 79.56h2.62M525.19 79.56h2.62M546.13 79.56h5.23M488.55 78.29h7.85M499.02 78.29h2.62M540.9 78.29h2.62M546.13 78.29h5.23M446.67 77.01h2.62M454.52 77.01h2.62M464.99 77.01h2.62M472.85 77.01h2.62M480.7 77.01h2.62M485.93 77.01h2.62M496.4 77.01h2.62M501.64 77.01h2.62M506.87 77.01h2.62M517.34 77.01h2.62M535.66 77.01h2.62M543.51 77.01h2.62M446.67 75.74h2.62M459.76 75.74h2.62M464.99 75.74h2.62M470.23 75.74h5.23M483.32 75.74h5.23M514.72 75.74h5.23M530.43 75.74h2.62M543.51 75.74h2.62M459.76 74.46h2.62M472.85 74.46h5.23M480.7 74.46h2.62M509.49 74.46h2.62M522.58 74.46h2.62M527.81 74.46h2.62M433.59 73.19h2.62M454.52 73.19h5.23M464.99 73.19h5.23M475.46 73.19h7.85M501.64 73.19h2.62M512.11 73.19h2.62M543.51 73.19h2.62M551.37 73.19h2.62M472.85 71.91h5.23M483.32 71.91h2.62M488.55 71.91h5.23M501.64 71.91h2.62M525.19 71.91h2.62M530.43 71.91h2.62M535.66 71.91h5.23M546.13 71.91h2.62M436.2 70.64h2.62M462.38 70.64h2.62M485.93 70.64h5.23M496.4 70.64h5.23M514.72 70.64h2.62M519.96 70.64h2.62M533.04 70.64h5.23M540.9 70.64h2.62M430.97 69.36h2.62M457.14 69.36h2.62M472.85 69.36h2.62M480.7 69.36h2.62M501.64 69.36h2.62M506.87 69.36h7.85M519.96 69.36h2.62M527.81 69.36h2.62M533.04 69.36h2.62M538.28 69.36h2.62M548.75 69.36h2.62M478.08 68.09h7.85M514.72 68.09h2.62M525.19 68.09h2.62M530.43 68.09h2.62M459.76 66.81h2.62M480.7 66.81h7.85M501.64 66.81h2.62M522.58 66.81h2.62M538.28 66.81h2.62M438.82 65.54h2.62M475.46 65.54h2.62M480.7 65.54h2.62M485.93 65.54h2.62M491.17 65.54h5.23M514.72 65.54h2.62M538.28 65.54h5.23M546.13 65.54h2.62M478.08 64.26h2.62M499.02 64.26h2.62M506.87 64.26h2.62M517.34 64.26h2.62M530.43 64.26h2.62M546.13 64.26h2.62M436.2 62.99h5.23M462.38 62.99h2.62M478.08 62.99h2.62M483.32 62.99h2.62M493.78 62.99h2.62M501.64 62.99h2.62M506.87 62.99h2.62M514.72 62.99h7.85M527.81 62.99h2.62M538.28 62.99h7.85M446.67 61.71h2.62M475.46 61.71h2.62M491.17 61.71h2.62M509.49 61.71h5.23M517.34 61.71h2.62M535.66 61.71h2.62M485.93 60.44h2.62M522.58 60.44h2.62M535.66 60.44h2.62M540.9 60.44h2.62M428.35 59.16h2.62M451.91 59.16h2.62M457.14 59.16h2.62M470.23 59.16h7.85M483.32 59.16h5.23M491.17 59.16h2.62M504.25 59.16h2.62M517.34 59.16h10.47M533.04 59.16h2.62M551.37 59.16h2.62M444.06 57.89h2.62M451.91 57.89h2.62M462.38 57.89h5.23M470.23 57.89h2.62M480.7 57.89h2.62M506.87 57.89h5.23M514.72 57.89h10.47M527.81 57.89h5.23M446.67 56.61h2.62M462.38 56.61h5.23M509.49 56.61h2.62M527.81 56.61h2.62M538.28 56.61h7.85M478.08 55.34h2.62M496.4 55.34h2.62M501.64 55.34h2.62M512.11 55.34h2.62M540.9 55.34h2.62M446.67 54.06h2.62M451.91 54.06h2.62M467.61 54.06h2.62M475.46 54.06h2.62M493.78 54.06h2.62M499.02 54.06h2.62M506.87 54.06h2.62M530.43 54.06h2.62M540.9 54.06h2.62M548.75 54.06h2.62M438.82 52.79h2.62M451.91 52.79h2.62M496.4 52.79h10.47M512.11 52.79h2.62M527.81 52.79h5.23M540.9 52.79h2.62M546.13 52.79h2.62M496.4 51.51h5.23M509.49 51.51h2.62M517.34 51.51h2.62M525.19 51.51h2.62M535.66 51.51h5.23M551.37 51.51h2.62M467.61 50.24h2.62M483.32 50.24h2.62M509.49 50.24h2.62M522.58 50.24h2.62M548.75 50.24h2.62M438.82 48.96h2.62M467.61 48.96h2.62M491.17 48.96h2.62M499.02 48.96h2.62M504.25 48.96h2.62M525.19 48.96h2.62M538.28 48.96h2.62M478.08 47.69h2.62M491.17 47.69h2.62M499.02 47.69h5.23M514.72 47.69h2.62M525.19 47.69h5.23M543.51 47.69h2.62M548.75 47.69h5.23M459.76 46.41h2.62M493.78 46.41h2.62M504.25 46.41h7.85M519.96 46.41h5.23M472.85 45.14h2.62M488.55 45.14h2.62M499.02 45.14h2.62M509.49 45.14h2.62M517.34 45.14h2.62M535.66 45.14h2.62M548.75 45.14h2.62M519.96 43.86h2.62M525.19 43.86h2.62M540.9 43.86h2.62M462.38 42.59h2.62M480.7 42.59h2.62M491.17 42.59h2.62M522.58 42.59h2.62M533.04 42.59h2.62M540.9 42.59h2.62M446.67 41.31h2.62M485.93 41.31h2.62M512.11 41.31h2.62M522.58 41.31h2.62M538.28 41.31h2.62"/>
<path stroke="#00ff0e" d="M446.67 140.76h7.85M464.99 140.76h2.62M470.23 140.76h2.62M478.08 140.76h2.62M491.17 140.76h2.62M506.87 140.76h5.23M535.66 140.76h2.62M548.75 140.76h2.62M428.35 139.49h2.62M444.06 139.49h2.62M451.91 139.49h2.62M462.38 139.49h5.23M470.23 139.49h2.62M483.32 139.49h2.62M522.58 139.49h2.62M535.66 139.49h2.62M428.35 138.21h2.62M444.06 138.21h2.62M451.91 138.21h2.62M459.76 138.21h2.62M464.99 138.21h2.62M470.23 138.21h5.23M480.7 138.21h2.62M485.93 138.21h2.62M493.78 138.21h2.62M512.11 138.21h2.62M428.35 136.94h2.62M441.44 136.94h5.23M493.78 136.94h2.62M499.02 136.94h2.62M517.34 136.94h2.62M522.58 136.94h2.62M527.81 136.94h5.23M535.66 136.94h2.62M428.35 135.66h2.62M433.59 135.66h2.62M438.82 135.66h2.62M444.06 135.66h7.85M478.08 135.66h2.62M483.32 135.66h2.62M488.55 135.66h2.62M496.4 135.66h2.62M509.49 135.66h2.62M517.34 135.66h2.62M540.9 135.66h2.62M546.13 135.66h2.62M438.82 134.39h2.62M444.06 134.39h2.62M457.14 134.39h2.62M464.99 134.39h2.62M472.85 134.39h2.62M480.7 134.39h2.62M488.55 134.39h2.62M499.02 134.39h5.23M506.87 134.39h2.62M533.04 134.39h2.62M551.37 134.39h2.62M449.29 133.11h2.62M485.93 133.11h2.62M496.4 133.11h2.62M533.04 133.11h2.62M548.75 133.11h2.62M423.12 131.84h2.62M433.59 131.84h2.62M438.82 131.84h2.62M459.76 131.84h10.47M472.85 131.84h2.62M496.4 131.84h2.62M530.43 131.84h2.62M546.13 131.84h2.62M444.06 130.56h2.62M451.91 130.56h2.62M467.61 130.56h2.62M478.08 130.56h13.09M548.75 130.56h2.62M438.82 129.29h2.62M451.91 129.29h5.23M462.38 129.29h2.62M470.23 129.29h2.62M485.93 129.29h2.62M514.72 129.29h2.62M538.28 129.29h2.62M449.29 128.01h2.62M464.99 128.01h5.23M483.32 128.01h2.62M491.17 128.01h2.62M509.49 128.01h2.62M514.72 128.01h2.62M527.81 128.01h2.62M540.9 128.01h2.62M441.44 126.74h2.62M446.67 126.74h5.23M454.52 126.74h2.62M462.38 126.74h2.62M480.7 126.74h2.62M488.55 126.74h2.62M522.58 126.74h2.62M533.04 126.74h2.62M543.51 126.74h5.23M551.37 126.74h2.62M425.73 125.46h2.62M438.82 125.46h2.62M459.76 125.46h5.23M467.61 125.46h5.23M475.46 125.46h2.62M496.4 125.46h2.62M533.04 125.46h2.62M543.51 125.46h2.62M548.75 125.46h2.62M433.59 124.19h2.62M438.82 124.19h2.62M459.76 124.19h2.62M467.61 124.19h2.62M475.46 124.19h2.62M483.32 124.19h2.62M525.19 124.19h2.62M533.04 124.19h2.62M548.75 124.19h2.62M553.98 124.19h2.62M430.97 122.91h2.62M441.44 122.91h5.23M449.29 122.91h2.62M472.85 122.91h5.23M483.32 122.91h5.23M530.43 122.91h2.62M543.51 122.91h5.23M441.44 121.64h2.62M451.91 121.64h2.62M457.14 121.64h5.23M480.7 121.64h2.62M496.4 121.64h5.23M517.34 121.64h5.23M535.66 121.64h2.62M428.35 120.36h7.85M438.82 120.36h5.23M462.38 120.36h2.62M533.04 120.36h5.23M540.9 120.36h2.62M546.13 120.36h2.62M423.12 119.09h2.62M430.97 119.09h2.62M436.2 119.09h5.23M459.76 119.09h2.62M470.23 119.09h7.85M430.97 117.81h2.62M451.91 117.81h2.62M459.76 117.81h2.62M483.32 117.81h2.62M491.17 117.81h2.62M425.73 116.54h2.62M433.59 116.54h2.62M459.76 116.54h5.23M475.46 116.54h2.62M522.58 116.54h2.62M538.28 116.54h2.62M553.98 116.54h2.62M433.59 115.26h2.62M441.44 115.26h5.23M449.29 115.26h7.85M459.76 115.26h2.62M491.17 115.26h2.62M546.13 115.26h2.62M430.97 113.99h2.62M441.44 113.99h2.62M470.23 113.99h5.23M483.32 113.99h13.09M540.9 113.99h2.62M423.12 112.71h2.62M459.76 112.71h5.23M467.61 112.71h5.23M501.64 112.71h2.62M522.58 112.71h2.62M451.91 111.44h2.62M475.46 111.44h2.62M480.7 111.44h2.62M533.04 111.44h2.62M423.12 110.16h2.62M433.59 110.16h2.62M444.06 110.16h5.23M464.99 110.16h2.62M470.23 110.16h2.62M475.46 110.16h2.62M488.55 110.16h2.62M512.11 110.16h2.62M551.37 110.16h2.62M428.35 108.89h2.62M441.44 108.89h5.23M451.91 108.89h2.62M462.38 108.89h2.62M467.61 108.89h2.62M472.85 108.89h2.62M480.7 108.89h5.23M533.04 108.89h2.62M543.51 108.89h2.62M548.75 108.89h2.62M438.82 107.61h2.62M444.06 107.61h2.62M459.76 107.61h2.62M464.99 107.61h5.23M522.58 107.61h2.62M430.97 106.34h2.62M441.44 106.34h10.47M459.76 106.34h5.23M467.61 106.34h2.62M472.85 106.34h2.62M525.19 106.34h2.62M540.9 106.34h2.62M546.13 106.34h2.62M438.82 105.06h2.62M446.67 105.06h2.62M470.23 105.06h2.62M540.9 105.06h2.62M546.13 105.06h2.62M433.59 103.79h2.62M444.06 103.79h7.85M472.85 103.79h2.62M478.08 103.79h2.62M488.55 103.79h2.62M543.51 103.79h2.62M548.75 103.79h2.62M441.44 102.51h2.62M446.67 102.51h2.62M457.14 102.51h2.62M464.99 102.51h2.62M472.85 102.51h2.62M509.49 102.51h2.62M538.28 102.51h2.62M546.13 102.51h5.23M436.2 101.24h7.85M451.91 101.24h2.62M467.61 101.24h2.62M504.25 101.24h2.62M540.9 101.24h2.62M551.37 101.24h2.62M436.2 99.96h2.62M446.67 99.96h2.62M451.91 99.96h5.23M462.38 99.96h2.62M467.61 99.96h2.62M496.4 99.96h2.62M506.87 99.96h2.62M525.19 99.96h2.62M533.04 99.96h2.62M546.13 99.96h2.62M551.37 99.96h2.62M438.82 98.69h5.23M449.29 98.69h2.62M475.46 98.69h2.62M488.55 98.69h2.62M446.67 97.41h2.62M451.91 97.41h5.23M467.61 97.41h2.62M483.32 97.41h2.62M496.4 97.41h5.23M540.9 97.41h2.62M546.13 97.41h5.23M438.82 96.14h2.62M464.99 96.14h7.85M475.46 96.14h2.62M483.32 96.14h2.62M493.78 96.14h2.62M499.02 96.14h2.62M551.37 96.14h5.23M423.12 94.86h2.62M438.82 94.86h5.23M449.29 94.86h2.62M462.38 94.86h5.23M470.23 94.86h10.47M485.93 94.86h2.62M527.81 94.86h2.62M423.12 93.59h2.62M444.06 93.59h5.23M457.14 93.59h2.62M467.61 93.59h2.62M533.04 93.59h2.62M540.9 93.59h2.62M546.13 93.59h2.62M436.2 92.31h5.23M454.52 92.31h2.62M464.99 92.31h2.62M533.04 92.31h2.62M546.13 92.31h2.62M425.73 91.04h2.62M433.59 91.04h2.62M441.44 91.04h2.62M449.29 91.04h2.62M467.61 91.04h5.23M485.93 91.04h2.62M540.9 91.04h2.62M546.13 91.04h2.62M430.97 89.76h2.62M436.2 89.76h2.62M441.44 89.76h5.23M449.29 89.76h5.23M464.99 89.76h2.62M472.85 89.76h2.62M483.32 89.76h5.23M533.04 89.76h2.62M546.13 89.76h2.62M551.37 89.76h2.62M436.2 88.49h5.23M444.06 88.49h2.62M485.93 88.49h5.23M493.78 88.49h2.62M430.97 87.21h2.62M438.82 87.21h2.62M470.23 87.21h5.23M478.08 87.21h2.62M483.32 87.21h5.23M535.66 87.21h2.62M540.9 87.21h2.62M548.75 87.21h2.62M451.91 85.94h2.62M462.38 85.94h2.62M475.46 85.94h2.62M488.55 85.94h2.62M506.87 85.94h2.62M514.72 85.94h2.62M441.44 84.66h2.62M464.99 84.66h2.62M475.46 84.66h2.62M496.4 84.66h2.62M530.43 84.66h2.62M540.9 84.66h2.62M441.44 83.39h2.62M449.29 83.39h2.62M454.52 83.39h2.62M459.76 83.39h2.62M464.99 83.39h2.62M472.85 83.39h5.23M483.32 83.39h2.62M488.55 83.39h2.62M504.25 83.39h2.62M517.34 83.39h2.62M533.04 83.39h7.85M546.13 83.39h5.23M433.59 82.11h2.62M438.82 82.11h5.23M454.52 82.11h2.62M464.99 82.11h2.62M470.23 82.11h2.62M475.46 82.11h2.62M485.93 82.11h5.23M501.64 82.11h2.62M540.9 82.11h2.62M449.29 80.84h2.62M454.52 80.84h2.62M464.99 80.84h2.62M483.32 80.84h2.62M488.55 80.84h2.62M517.34 80.84h2.62M548.75 80.84h5.23M444.06 79.56h2.62M454.52 79.56h2.62M499.02 79.56h2.62M533.04 79.56h2.62M543.51 79.56h2.62M428.35 78.29h2.62M449.29 78.29h2.62M454.52 78.29h2.62M459.76 78.29h5.23M467.61 78.29h2.62M480.7 78.29h2.62M501.64 78.29h2.62M525.19 78.29h2.62M530.43 78.29h2.62M551.37 78.29h2.62M551.37 77.01h2.62M430.97 75.74h2.62M444.06 75.74h2.62M449.29 75.74h2.62M467.61 75.74h2.62M496.4 75.74h2.62M535.66 75.74h7.85M548.75 75.74h5.23M430.97 74.46h2.62M446.67 74.46h2.62M457.14 74.46h2.62M485.93 74.46h2.62M496.4 74.46h5.23M517.34 74.46h2.62M546.13 74.46h2.62M553.98 74.46h2.62M446.67 73.19h2.62M462.38 73.19h2.62M470.23 73.19h5.23M483.32 73.19h2.62M504.25 73.19h2.62M519.96 73.19h2.62M527.81 73.19h2.62M540.9 73.19h2.62M548.75 73.19h2.62M457.14 71.91h2.62M485.93 71.91h2.62M428.35 70.64h2.62M444.06 70.64h2.62M454.52 70.64h2.62M459.76 70.64h2.62M472.85 70.64h2.62M478.08 70.64h5.23M491.17 70.64h2.62M512.11 70.64h2.62M546.13 70.64h5.23M446.67 69.36h2.62M459.76 69.36h2.62M464.99 69.36h5.23M499.02 69.36h2.62M438.82 68.09h2.62M444.06 68.09h2.62M459.76 68.09h5.23M472.85 68.09h2.62M506.87 68.09h2.62M522.58 68.09h2.62M527.81 68.09h2.62M543.51 68.09h2.62M430.97 66.81h5.23M457.14 66.81h2.62M462.38 66.81h7.85M472.85 66.81h2.62M478.08 66.81h2.62M488.55 66.81h2.62M506.87 66.81h2.62M512.11 66.81h2.62M540.9 66.81h2.62M546.13 66.81h2.62M428.35 65.54h2.62M436.2 65.54h2.62M444.06 65.54h2.62M451.91 65.54h2.62M457.14 65.54h2.62M464.99 65.54h2.62M472.85 65.54h2.62M478.08 65.54h2.62M488.55 65.54h2.62M504.25 65.54h2.62M509.49 65.54h2.62M519.96 65.54h2.62M530.43 65.54h2.62M548.75 65.54h2.62M430.97 64.26h2.62M438.82 64.26h5.23M457.14 64.26h2.62M464.99 64.26h2.62M480.7 64.26h2.62M485.93 64.26h5.23M493.78 64.26h2.62M512.11 64.26h2.62M519.96 64.26h2.62M525.19 64.26h5.23M543.51 64.26h2.62M548.75 64.26h5.23M433.59 62.99h2.62M449.29 62.99h2.62M480.7 62.99h2.62M488.55 62.99h2.62M522.58 62.99h2.62M530.43 62.99h7.85M548.75 62.99h2.62M436.2 61.71h2.62M449.29 61.71h2.62M467.61 61.71h2.62M478.08 61.71h5.23M496.4 61.71h2.62M504.25 61.71h2.62M514.72 61.71h2.62M519.96 61.71h2.62M525.19 61.71h5.23M543.51 61.71h5.23M444.06 60.44h2.62M467.61 60.44h2.62M472.85 60.44h2.62M478.08 60.44h5.23M491.17 60.44h5.23M501.64 60.44h2.62M514.72 60.44h2.62M533.04 60.44h2.62M546.13 60.44h2.62M444.06 59.16h2.62M462.38 59.16h2.62M467.61 59.16h2.62M480.7 59.16h2.62M496.4 59.16h2.62M514.72 59.16h2.62M543.51 59.16h2.62M548.75 59.16h2.62M430.97 57.89h7.85M454.52 57.89h5.23M496.4 57.89h2.62M512.11 57.89h2.62M525.19 57.89h2.62M548.75 57.89h5.23M430.97 56.61h2.62M436.2 56.61h2.62M444.06 56.61h2.62M451.91 56.61h2.62M467.61 56.61h5.23M475.46 56.61h5.23M485.93 56.61h2.62M496.4 56.61h2.62M514.72 56.61h2.62M522.58 56.61h2.62M533.04 56.61h5.23M433.59 55.34h2.62M446.67 55.34h2.62M462.38 55.34h2.62M470.23 55.34h2.62M491.17 55.34h2.62M509.49 55.34h2.62M514.72 55.34h2.62M533.04 55.34h5.23M543.51 55.34h2.62M457.14 54.06h2.62M464.99 54.06h2.62M483.32 54.06h2.62M501.64 54.06h2.62M509.49 54.06h7.85M522.58 54.06h2.62M533.04 54.06h2.62M546.13 54.06h2.62M436.2 52.79h2.62M449.29 52.79h2.62M472.85 52.79h5.23M480.7 52.79h2.62M506.87 52.79h2.62M548.75 52.79h2.62M451.91 51.51h2.62M459.76 51.51h2.62M464.99 51.51h5.23M472.85 51.51h5.23M483.32 51.51h2.62M501.64 51.51h2.62M540.9 51.51h2.62M451.91 50.24h2.62M457.14 50.24h2.62M464.99 50.24h2.62M488.55 50.24h2.62M493.78 50.24h2.62M501.64 50.24h2.62M512.11 50.24h2.62M525.19 50.24h2.62M546.13 50.24h2.62M425.73 48.96h2.62M444.06 48.96h2.62M451.91 48.96h5.23M478.08 48.96h2.62M483.32 48.96h2.62M493.78 48.96h2.62M501.64 48.96h2.62M506.87 48.96h2.62M519.96 48.96h2.62M527.81 48.96h2.62M535.66 48.96h2.62M540.9 48.96h5.23M438.82 47.69h2.62M446.67 47.69h2.62M475.46 47.69h2.62M483.32 47.69h2.62M512.11 47.69h2.62M519.96 47.69h5.23M533.04 47.69h2.62M546.13 47.69h2.62M444.06 46.41h2.62M462.38 46.41h2.62M467.61 46.41h5.23M488.55 46.41h5.23M496.4 46.41h2.62M501.64 46.41h2.62M514.72 46.41h2.62M533.04 46.41h2.62M441.44 45.14h2.62M459.76 45.14h2.62M464.99 45.14h2.62M475.46 45.14h2.62M483.32 45.14h5.23M493.78 45.14h2.62M512.11 45.14h2.62M519.96 45.14h2.62M530.43 45.14h2.62M540.9 45.14h2.62M444.06 43.86h2.62M459.76 43.86h5.23M475.46 43.86h2.62M480.7 43.86h2.62M488.55 43.86h2.62M493.78 43.86h2.62M499.02 43.86h2.62M506.87 43.86h2.62M512.11 43.86h2.62M517.34 43.86h2.62M522.58 43.86h2.62M527.81 43.86h2.62M535.66 43.86h2.62M551.37 43.86h2.62M449.29 42.59h2.62M496.4 42.59h2.62M517.34 42.59h5.23M527.81 42.59h5.23M538.28 42.59h2.62M514.72 41.31h2.62M519.96 41.31h2.62M548.75 41.31h2.62"/>
<path stroke="#22ff00" d="M428.35 140.76h2.62M438.82 140.76h2.62M454.52 140.76h2.62M459.76 140.76h2.62M475.46 140.76h2.62M512.11 140.76h2.62M533.04 140.76h2.62M543.51 140.76h2.62M423.12 139.49h2.62M430.97 139.49h2.62M441.44 139.49h2.62M446.67 139.49h2.62M457.14 139.49h2.62M467.61 139.49h2.62M472.85 139.49h5.23M533.04 139.49h2.62M548.75 139.49h2.62M433.59 138.21h2.62M438.82 138.21h2.62M446.67 138.21h2.62M454.52 138.21h2.62M483.32 138.21h2.62M514.72 138.21h2.62M525.19 138.21h2.62M430.97 136.94h7.85M451.91 136.94h2.62M472.85 136.94h2.62M491.17 136.94h2.62M501.64 136.94h2.62M514.72 136.94h2.62M533.04 136.94h2.62M425.73 135.66h2.62M430.97 135.66h2.62M436.2 135.66h2.62M464.99 135.66h2.62M470.23 135.66h2.62M480.7 135.66h2.62M533.04 135.66h2.62M423.12 134.39h2.62M433.59 134.39h5.23M449.29 134.39h2.62M462.38 134.39h2.62M483.32 134.39h2.62M543.51 134.39h7.85M430.97 133.11h5.23M454.52 133.11h2.62M491.17 133.11h2.62M530.43 133.11h2.62M551.37 133.11h5.23M444.06 131.84h2.62M454.52 131.84h5.23M475.46 131.84h2.62M480.7 131.84h2.62M540.9 131.84h2.62M438.82 130.56h5.23M459.76 130.56h2.62M464.99 130.56h2.62M551.37 130.56h2.62M423.12 129.29h2.62M428.35 129.29h2.62M441.44 129.29h2.62M467.61 129.29h2.62M475.46 129.29h2.62M480.7 129.29h5.23M499.02 129.29h2.62M543.51 129.29h5.23M551.37 129.29h5.23M423.12 128.01h2.62M428.35 128.01h2.62M433.59 128.01h2.62M441.44 128.01h2.62M459.76 128.01h5.23M478.08 128.01h5.23M543.51 128.01h2.62M553.98 128.01h2.62M430.97 126.74h2.62M464.99 126.74h2.62M433.59 125.46h5.23M472.85 125.46h2.62M478.08 125.46h5.23M514.72 125.46h2.62M551.37 125.46h2.62M425.73 124.19h5.23M451.91 124.19h2.62M457.14 124.19h2.62M491.17 124.19h5.23M527.81 124.19h2.62M423.12 122.91h2.62M446.67 122.91h2.62M457.14 122.91h2.62M493.78 122.91h2.62M540.9 122.91h2.62M551.37 122.91h2.62M428.35 121.64h2.62M444.06 121.64h5.23M454.52 121.64h2.62M464.99 121.64h5.23M472.85 121.64h2.62M530.43 121.64h2.62M540.9 121.64h2.62M423.12 120.36h2.62M446.67 120.36h5.23M457.14 120.36h5.23M480.7 120.36h2.62M551.37 120.36h2.62M428.35 119.09h2.62M444.06 119.09h2.62M457.14 119.09h2.62M428.35 117.81h2.62M433.59 117.81h2.62M438.82 117.81h2.62M444.06 117.81h2.62M449.29 117.81h2.62M454.52 117.81h2.62M462.38 117.81h2.62M467.61 117.81h2.62M475.46 117.81h2.62M551.37 117.81h2.62M441.44 116.54h2.62M451.91 116.54h2.62M457.14 116.54h2.62M470.23 116.54h2.62M478.08 116.54h2.62M488.55 116.54h2.62M436.2 115.26h2.62M483.32 115.26h2.62M493.78 115.26h2.62M535.66 115.26h2.62M551.37 115.26h2.62M436.2 113.99h2.62M444.06 113.99h2.62M449.29 113.99h2.62M454.52 113.99h2.62M501.64 113.99h2.62M548.75 113.99h5.23M430.97 112.71h2.62M457.14 112.71h2.62M543.51 112.71h2.62M425.73 111.44h5.23M444.06 111.44h5.23M457.14 111.44h2.62M428.35 110.16h5.23M449.29 110.16h2.62M454.52 110.16h5.23M543.51 110.16h5.23M423.12 108.89h2.62M433.59 108.89h5.23M446.67 108.89h5.23M454.52 108.89h5.23M488.55 108.89h5.23M546.13 108.89h2.62M425.73 107.61h2.62M451.91 107.61h2.62M480.7 107.61h2.62M543.51 107.61h2.62M548.75 107.61h5.23M428.35 106.34h2.62M454.52 106.34h5.23M475.46 106.34h2.62M488.55 106.34h2.62M493.78 106.34h2.62M436.2 105.06h2.62M454.52 105.06h2.62M462.38 105.06h2.62M467.61 105.06h2.62M551.37 105.06h2.62M428.35 103.79h2.62M438.82 103.79h5.23M462.38 103.79h2.62M475.46 103.79h2.62M538.28 103.79h2.62M553.98 103.79h2.62M425.73 102.51h2.62M436.2 102.51h2.62M444.06 102.51h2.62M491.17 102.51h2.62M551.37 102.51h2.62M423.12 101.24h2.62M433.59 101.24h2.62M444.06 101.24h5.23M454.52 101.24h2.62M464.99 101.24h2.62M475.46 101.24h2.62M480.7 101.24h2.62M546.13 101.24h2.62M425.73 99.96h2.62M438.82 99.96h2.62M444.06 99.96h2.62M459.76 99.96h2.62M472.85 99.96h2.62M548.75 99.96h2.62M428.35 98.69h2.62M478.08 98.69h2.62M540.9 98.69h2.62M428.35 97.41h2.62M441.44 97.41h5.23M457.14 97.41h2.62M472.85 97.41h5.23M433.59 96.14h2.62M441.44 96.14h5.23M449.29 96.14h2.62M462.38 96.14h2.62M472.85 96.14h2.62M546.13 96.14h2.62M433.59 94.86h2.62M454.52 94.86h5.23M533.04 94.86h2.62M546.13 94.86h2.62M553.98 94.86h2.62M425.73 93.59h2.62M438.82 93.59h2.62M454.52 93.59h2.62M462.38 93.59h2.62M470.23 93.59h2.62M543.51 93.59h2.62M444.06 92.31h7.85M457.14 92.31h2.62M470.23 92.31h2.62M483.32 92.31h2.62M548.75 92.31h5.23M436.2 91.04h2.62M444.06 91.04h2.62M454.52 91.04h2.62M472.85 91.04h5.23M480.7 91.04h2.62M548.75 91.04h2.62M553.98 91.04h2.62M475.46 89.76h2.62M441.44 88.49h2.62M449.29 88.49h2.62M548.75 88.49h2.62M425.73 87.21h2.62M436.2 87.21h2.62M454.52 87.21h2.62M546.13 87.21h2.62M551.37 87.21h2.62M425.73 85.94h2.62M433.59 85.94h5.23M459.76 85.94h2.62M467.61 85.94h2.62M472.85 85.94h2.62M483.32 85.94h2.62M535.66 85.94h2.62M543.51 85.94h7.85M428.35 84.66h2.62M433.59 84.66h5.23M446.67 84.66h5.23M462.38 84.66h2.62M485.93 84.66h2.62M493.78 84.66h2.62M548.75 84.66h5.23M423.12 83.39h5.23M430.97 83.39h5.23M438.82 83.39h2.62M462.38 83.39h2.62M496.4 83.39h2.62M551.37 83.39h5.23M451.91 82.11h2.62M462.38 82.11h2.62M483.32 82.11h2.62M533.04 82.11h2.62M436.2 80.84h5.23M459.76 80.84h2.62M467.61 80.84h2.62M475.46 80.84h2.62M540.9 80.84h5.23M430.97 79.56h10.47M449.29 79.56h2.62M457.14 79.56h2.62M464.99 79.56h2.62M475.46 79.56h2.62M504.25 79.56h2.62M551.37 79.56h2.62M430.97 78.29h5.23M438.82 78.29h7.85M451.91 78.29h2.62M430.97 77.01h15.7M451.91 77.01h2.62M459.76 77.01h2.62M467.61 77.01h2.62M538.28 77.01h5.23M425.73 75.74h5.23M436.2 75.74h2.62M457.14 75.74h2.62M478.08 75.74h2.62M546.13 75.74h2.62M438.82 74.46h2.62M444.06 74.46h2.62M451.91 74.46h2.62M462.38 74.46h7.85M483.32 74.46h2.62M488.55 74.46h2.62M538.28 74.46h2.62M548.75 74.46h5.23M428.35 73.19h5.23M436.2 73.19h7.85M433.59 71.91h2.62M444.06 71.91h7.85M462.38 71.91h5.23M478.08 71.91h2.62M438.82 70.64h2.62M449.29 70.64h2.62M457.14 70.64h2.62M467.61 70.64h2.62M504.25 70.64h2.62M543.51 70.64h2.62M551.37 70.64h2.62M433.59 69.36h5.23M470.23 69.36h2.62M475.46 69.36h2.62M485.93 69.36h5.23M504.25 69.36h2.62M535.66 69.36h2.62M433.59 68.09h2.62M441.44 68.09h2.62M446.67 68.09h2.62M464.99 68.09h7.85M475.46 68.09h2.62M533.04 68.09h2.62M441.44 66.81h2.62M446.67 66.81h2.62M470.23 66.81h2.62M475.46 66.81h2.62M517.34 66.81h5.23M525.19 66.81h2.62M548.75 66.81h2.62M430.97 65.54h5.23M441.44 65.54h2.62M446.67 65.54h5.23M454.52 65.54h2.62M467.61 65.54h2.62M483.32 65.54h2.62M512.11 65.54h2.62M535.66 65.54h2.62M551.37 65.54h2.62M433.59 64.26h2.62M444.06 64.26h5.23M451.91 64.26h5.23M459.76 64.26h5.23M470.23 64.26h7.85M491.17 64.26h2.62M423.12 62.99h2.62M441.44 62.99h2.62M454.52 62.99h7.85M472.85 62.99h2.62M485.93 62.99h2.62M496.4 62.99h2.62M546.13 62.99h2.62M464.99 61.71h2.62M485.93 61.71h2.62M533.04 61.71h2.62M548.75 61.71h5.23M430.97 60.44h2.62M441.44 60.44h2.62M454.52 60.44h2.62M459.76 60.44h2.62M464.99 60.44h2.62M470.23 60.44h2.62M475.46 60.44h2.62M483.32 60.44h2.62M488.55 60.44h2.62M543.51 60.44h2.62M551.37 60.44h2.62M423.12 59.16h2.62M433.59 59.16h2.62M501.64 59.16h2.62M438.82 57.89h2.62M459.76 57.89h2.62M467.61 57.89h2.62M478.08 57.89h2.62M483.32 57.89h5.23M493.78 57.89h2.62M499.02 57.89h2.62M543.51 57.89h5.23M425.73 56.61h2.62M438.82 56.61h2.62M449.29 56.61h2.62M457.14 56.61h5.23M519.96 56.61h2.62M530.43 56.61h2.62M425.73 55.34h2.62M438.82 55.34h5.23M459.76 55.34h2.62M472.85 55.34h2.62M483.32 55.34h5.23M499.02 55.34h2.62M519.96 55.34h2.62M530.43 55.34h2.62M538.28 55.34h2.62M551.37 55.34h2.62M430.97 54.06h2.62M449.29 54.06h2.62M470.23 54.06h5.23M478.08 54.06h2.62M488.55 54.06h2.62M428.35 52.79h7.85M441.44 52.79h2.62M470.23 52.79h2.62M491.17 52.79h2.62M517.34 52.79h2.62M551.37 52.79h2.62M425.73 51.51h2.62M441.44 51.51h2.62M478.08 51.51h5.23M485.93 51.51h2.62M522.58 51.51h2.62M546.13 51.51h2.62M423.12 50.24h2.62M433.59 50.24h7.85M446.67 50.24h2.62M459.76 50.24h5.23M472.85 50.24h7.85M485.93 50.24h2.62M496.4 50.24h5.23M504.25 50.24h5.23M514.72 50.24h2.62M527.81 50.24h5.23M535.66 50.24h2.62M436.2 48.96h2.62M446.67 48.96h2.62M457.14 48.96h2.62M470.23 48.96h2.62M480.7 48.96h2.62M522.58 48.96h2.62M533.04 48.96h2.62M425.73 47.69h2.62M441.44 47.69h2.62M449.29 47.69h2.62M457.14 47.69h2.62M472.85 47.69h2.62M485.93 47.69h2.62M493.78 47.69h2.62M517.34 47.69h2.62M430.97 46.41h2.62M436.2 46.41h5.23M446.67 46.41h7.85M464.99 46.41h2.62M475.46 46.41h5.23M483.32 46.41h5.23M499.02 46.41h2.62M517.34 46.41h2.62M527.81 46.41h2.62M538.28 46.41h5.23M546.13 46.41h10.47M462.38 45.14h2.62M478.08 45.14h2.62M501.64 45.14h2.62M522.58 45.14h2.62M533.04 45.14h2.62M546.13 45.14h2.62M551.37 45.14h2.62M438.82 43.86h2.62M451.91 43.86h2.62M457.14 43.86h2.62M467.61 43.86h2.62M483.32 43.86h2.62M496.4 43.86h2.62M501.64 43.86h5.23M538.28 43.86h2.62M428.35 42.59h2.62M444.06 42.59h2.62M475.46 42.59h5.23M483.32 42.59h2.62M506.87 42.59h5.23M525.19 42.59h2.62M535.66 42.59h2.62M438.82 41.31h2.62M444.06 41.31h2.62M457.14 41.31h5.23M467.61 41.31h2.62M475.46 41.31h2.62M493.78 41.31h5.23M506.87 41.31h2.62M517.34 41.31h2.62M527.81 41.31h2.62M535.66 41.31h2.62M543.51 41.31h5.23M551.37 41.31h2.62M522.58 40.04h2.62"/>
<path stroke="#69ff00" d="M420.5 140.76h5.23M436.2 140.76h2.62M501.64 140.76h2.62M425.73 139.49h2.62M551.37 139.49h2.62M425.73 138.21h2.62M467.61 138.21h2.62M478.08 138.21h2.62M423.12 136.94h5.23M449.29 136.94h2.62M457.14 136.94h2.62M462.38 136.94h2.62M551.37 136.94h5.23M423.12 135.66h2.62M457.14 135.66h2.62M551.37 135.66h2.62M430.97 134.39h2.62M454.52 134.39h2.62M467.61 134.39h2.62M553.98 134.39h2.62M438.82 133.11h2.62M451.91 133.11h2.62M459.76 133.11h2.62M546.13 133.11h2.62M451.91 131.84h2.62M470.23 131.84h2.62M485.93 131.84h2.62M493.78 131.84h2.62M551.37 131.84h5.23M428.35 130.56h2.62M433.59 130.56h2.62M546.13 130.56h2.62M425.73 129.29h2.62M457.14 129.29h2.62M540.9 129.29h2.62M438.82 128.01h2.62M446.67 128.01h2.62M475.46 128.01h2.62M530.43 128.01h2.62M551.37 128.01h2.62M425.73 126.74h2.62M457.14 126.74h2.62M470.23 126.74h2.62M527.81 126.74h2.62M423.12 125.46h2.62M441.44 125.46h2.62M446.67 125.46h2.62M423.12 124.19h2.62M543.51 124.19h2.62M551.37 124.19h2.62M433.59 121.64h2.62M449.29 121.64h2.62M491.17 121.64h2.62M553.98 121.64h2.62M548.75 120.36h2.62M425.73 119.09h2.62M454.52 119.09h2.62M551.37 119.09h2.62M446.67 117.81h2.62M428.35 116.54h2.62M436.2 116.54h5.23M444.06 116.54h2.62M464.99 116.54h5.23M425.73 115.26h2.62M430.97 115.26h2.62M457.14 115.26h2.62M462.38 115.26h2.62M425.73 113.99h2.62M433.59 113.99h2.62M459.76 113.99h2.62M467.61 113.99h2.62M553.98 113.99h2.62M425.73 112.71h5.23M433.59 112.71h2.62M451.91 112.71h2.62M464.99 112.71h2.62M546.13 112.71h2.62M459.76 111.44h2.62M467.61 111.44h2.62M478.08 111.44h2.62M540.9 111.44h2.62M425.73 110.16h2.62M548.75 110.16h2.62M430.97 108.89h2.62M470.23 108.89h2.62M433.59 107.61h2.62M441.44 107.61h2.62M475.46 107.61h2.62M546.13 107.61h2.62M423.12 106.34h5.23M423.12 105.06h2.62M441.44 105.06h5.23M449.29 105.06h2.62M459.76 105.06h2.62M459.76 103.79h2.62M467.61 103.79h2.62M423.12 102.51h2.62M428.35 102.51h2.62M449.29 102.51h2.62M470.23 102.51h2.62M478.08 102.51h2.62M543.51 102.51h2.62M553.98 102.51h2.62M425.73 101.24h2.62M430.97 101.24h2.62M423.12 99.96h2.62M428.35 99.96h2.62M433.59 99.96h2.62M449.29 99.96h2.62M540.9 99.96h2.62M553.98 99.96h2.62M425.73 98.69h2.62M430.97 98.69h2.62M462.38 98.69h2.62M472.85 98.69h2.62M420.5 97.41h2.62M425.73 97.41h2.62M433.59 97.41h2.62M449.29 97.41h2.62M462.38 97.41h2.62M478.08 97.41h5.23M553.98 97.41h2.62M425.73 96.14h2.62M436.2 96.14h2.62M451.91 96.14h2.62M548.75 96.14h2.62M425.73 94.86h7.85M446.67 94.86h2.62M451.91 94.86h2.62M548.75 94.86h2.62M436.2 93.59h2.62M451.91 93.59h2.62M459.76 93.59h2.62M464.99 93.59h2.62M551.37 93.59h5.23M430.97 92.31h2.62M446.67 91.04h2.62M457.14 91.04h5.23M464.99 91.04h2.62M425.73 89.76h2.62M454.52 89.76h2.62M467.61 89.76h2.62M538.28 89.76h2.62M451.91 88.49h5.23M459.76 88.49h2.62M475.46 88.49h2.62M553.98 88.49h2.62M433.59 87.21h2.62M449.29 87.21h2.62M457.14 87.21h2.62M423.12 85.94h2.62M551.37 85.94h5.23M438.82 84.66h2.62M457.14 84.66h5.23M467.61 84.66h2.62M472.85 84.66h2.62M446.67 83.39h2.62M444.06 82.11h2.62M449.29 82.11h2.62M457.14 82.11h2.62M548.75 82.11h7.85M423.12 80.84h2.62M546.13 80.84h2.62M425.73 79.56h2.62M436.2 78.29h2.62M483.32 78.29h2.62M543.51 78.29h2.62M425.73 77.01h2.62M457.14 77.01h2.62M478.08 77.01h2.62M546.13 77.01h5.23M553.98 77.01h2.62M433.59 75.74h2.62M454.52 75.74h2.62M436.2 74.46h2.62M441.44 74.46h2.62M449.29 74.46h2.62M454.52 74.46h2.62M459.76 73.19h2.62M428.35 71.91h5.23M436.2 71.91h5.23M548.75 71.91h7.85M425.73 70.64h2.62M441.44 70.64h2.62M464.99 70.64h2.62M470.23 70.64h2.62M527.81 70.64h2.62M423.12 69.36h2.62M444.06 69.36h2.62M451.91 69.36h2.62M478.08 69.36h2.62M543.51 69.36h2.62M553.98 69.36h2.62M428.35 68.09h2.62M436.2 68.09h2.62M451.91 68.09h7.85M485.93 68.09h5.23M548.75 68.09h5.23M425.73 66.81h2.62M436.2 66.81h2.62M444.06 66.81h2.62M451.91 66.81h5.23M491.17 66.81h2.62M496.4 66.81h2.62M543.51 66.81h2.62M551.37 66.81h2.62M459.76 65.54h2.62M470.23 65.54h2.62M527.81 65.54h2.62M553.98 65.54h2.62M428.35 64.26h2.62M436.2 64.26h2.62M483.32 64.26h2.62M501.64 64.26h2.62M428.35 62.99h5.23M464.99 62.99h2.62M475.46 62.99h2.62M491.17 62.99h2.62M509.49 62.99h2.62M551.37 62.99h5.23M428.35 61.71h5.23M438.82 61.71h2.62M454.52 61.71h5.23M483.32 61.71h2.62M488.55 61.71h2.62M540.9 61.71h2.62M433.59 60.44h2.62M438.82 60.44h2.62M446.67 60.44h2.62M457.14 60.44h2.62M462.38 60.44h2.62M525.19 60.44h2.62M548.75 60.44h2.62M446.67 59.16h5.23M459.76 59.16h2.62M464.99 59.16h2.62M493.78 59.16h2.62M509.49 59.16h2.62M530.43 59.16h2.62M425.73 57.89h2.62M446.67 57.89h5.23M475.46 57.89h2.62M488.55 57.89h2.62M504.25 57.89h2.62M535.66 57.89h2.62M540.9 57.89h2.62M428.35 56.61h2.62M441.44 56.61h2.62M472.85 56.61h2.62M483.32 56.61h2.62M548.75 56.61h5.23M430.97 55.34h2.62M449.29 55.34h2.62M454.52 55.34h5.23M436.2 54.06h2.62M441.44 54.06h5.23M454.52 54.06h2.62M459.76 54.06h5.23M480.7 54.06h2.62M485.93 54.06h2.62M496.4 54.06h2.62M551.37 54.06h2.62M423.12 52.79h2.62M444.06 52.79h5.23M457.14 52.79h5.23M478.08 52.79h2.62M483.32 52.79h5.23M493.78 52.79h2.62M553.98 52.79h2.62M430.97 51.51h2.62M436.2 51.51h5.23M444.06 51.51h2.62M454.52 51.51h2.62M462.38 51.51h2.62M470.23 51.51h2.62M491.17 51.51h2.62M543.51 51.51h2.62M425.73 50.24h7.85M441.44 50.24h5.23M449.29 50.24h2.62M454.52 50.24h2.62M538.28 50.24h2.62M551.37 50.24h2.62M433.59 48.96h2.62M441.44 48.96h2.62M459.76 48.96h7.85M472.85 48.96h5.23M496.4 48.96h2.62M551.37 48.96h5.23M430.97 47.69h5.23M459.76 47.69h2.62M530.43 47.69h2.62M538.28 47.69h2.62M441.44 46.41h2.62M423.12 45.14h5.23M444.06 45.14h2.62M449.29 45.14h2.62M454.52 45.14h2.62M467.61 45.14h5.23M480.7 45.14h2.62M491.17 45.14h2.62M538.28 45.14h2.62M543.51 45.14h2.62M423.12 43.86h2.62M441.44 43.86h2.62M454.52 43.86h2.62M464.99 43.86h2.62M472.85 43.86h2.62M485.93 43.86h2.62M543.51 43.86h5.23M441.44 42.59h2.62M454.52 42.59h5.23M470.23 42.59h2.62M485.93 42.59h5.23M493.78 42.59h2.62M499.02 42.59h2.62M504.25 42.59h2.62M512.11 42.59h2.62M543.51 42.59h5.23M451.91 41.31h2.62M470.23 41.31h2.62M478.08 41.31h5.23M488.55 41.31h2.62M499.02 41.31h2.62M509.49 41.31h2.62M525.19 41.31h2.62M540.9 41.31h2.62M457.14 40.04h2.62M530.43 40.04h2.62M535.66 40.04h2.62M546.13 40.04h2.62"/>
<path stroke="#99ff00" d="M553.98 139.49h2.62M540.9 138.21h2.62M551.37 138.21h2.62M462.38 135.66h2.62M538.28 135.66h2.62M420.5 133.11h2.62M425.73 133.11h5.23M425.73 131.84h2.62M425.73 130.56h2.62M436.2 129.29h2.62M425.73 128.01h2.62M430.97 128.01h2.62M451.91 128.01h2.62M428.35 126.74h2.62M491.17 126.74h2.62M553.98 126.74h2.62M420.5 125.46h2.62M430.97 125.46h2.62M449.29 125.46h2.62M553.98 125.46h2.62M420.5 124.19h2.62M464.99 124.19h2.62M420.5 121.64h5.23M454.52 120.36h2.62M553.98 119.09h2.62M423.12 115.26h2.62M428.35 115.26h2.62M548.75 115.26h2.62M478.08 113.99h2.62M449.29 112.71h2.62M430.97 111.44h2.62M464.99 111.44h2.62M548.75 111.44h2.62M436.2 110.16h5.23M478.08 110.16h2.62M551.37 108.89h2.62M462.38 107.61h2.62M433.59 106.34h2.62M423.12 103.79h2.62M433.59 102.51h2.62M420.5 101.24h2.62M428.35 101.24h2.62M449.29 101.24h2.62M457.14 101.24h2.62M423.12 98.69h2.62M451.91 98.69h2.62M430.97 97.41h2.62M551.37 97.41h2.62M423.12 96.14h2.62M428.35 96.14h5.23M446.67 96.14h2.62M436.2 94.86h2.62M444.06 94.86h2.62M551.37 94.86h2.62M420.5 93.59h2.62M428.35 93.59h2.62M428.35 92.31h2.62M441.44 92.31h2.62M475.46 92.31h2.62M553.98 92.31h2.62M438.82 91.04h2.62M428.35 89.76h2.62M462.38 89.76h2.62M543.51 89.76h2.62M430.97 88.49h2.62M551.37 88.49h2.62M553.98 87.21h2.62M430.97 85.94h2.62M441.44 85.94h2.62M423.12 84.66h2.62M423.12 82.11h7.85M446.67 82.11h2.62M472.85 82.11h2.62M425.73 80.84h2.62M446.67 80.84h2.62M451.91 80.84h2.62M553.98 80.84h2.62M423.12 79.56h2.62M441.44 79.56h2.62M446.67 79.56h2.62M459.76 79.56h2.62M423.12 78.29h5.23M553.98 78.29h2.62M423.12 77.01h2.62M449.29 77.01h2.62M423.12 75.74h2.62M462.38 75.74h2.62M470.23 74.46h2.62M425.73 73.19h2.62M553.98 73.19h2.62M423.12 71.91h2.62M441.44 71.91h2.62M451.91 71.91h2.62M459.76 71.91h2.62M470.23 71.91h2.62M420.5 70.64h2.62M433.59 70.64h2.62M425.73 69.36h2.62M449.29 69.36h2.62M462.38 69.36h2.62M430.97 68.09h2.62M423.12 66.81h2.62M438.82 66.81h2.62M449.29 66.81h2.62M553.98 66.81h2.62M425.73 65.54h2.62M449.29 64.26h2.62M444.06 62.99h2.62M451.91 62.99h2.62M444.06 61.71h2.62M459.76 61.71h2.62M538.28 61.71h2.62M451.91 60.44h2.62M436.2 59.16h2.62M454.52 59.16h2.62M488.55 59.16h2.62M553.98 59.16h2.62M553.98 57.89h2.62M423.12 56.61h2.62M433.59 56.61h2.62M454.52 56.61h2.62M499.02 56.61h5.23M546.13 56.61h2.62M553.98 56.61h2.62M423.12 55.34h2.62M444.06 55.34h2.62M451.91 55.34h2.62M464.99 55.34h2.62M488.55 55.34h2.62M527.81 55.34h2.62M546.13 55.34h5.23M423.12 54.06h2.62M428.35 54.06h2.62M517.34 54.06h2.62M538.28 54.06h2.62M454.52 52.79h2.62M467.61 52.79h2.62M423.12 51.51h2.62M428.35 51.51h2.62M553.98 51.51h2.62M543.51 50.24h2.62M449.29 48.96h2.62M488.55 48.96h2.62M546.13 48.96h2.62M436.2 47.69h2.62M454.52 47.69h2.62M496.4 47.69h2.62M433.59 46.41h2.62M454.52 46.41h2.62M428.35 45.14h2.62M433.59 45.14h7.85M446.67 45.14h2.62M451.91 45.14h2.62M457.14 45.14h2.62M527.81 45.14h2.62M553.98 45.14h2.62M425.73 43.86h7.85M436.2 43.86h2.62M446.67 43.86h2.62M470.23 43.86h2.62M478.08 43.86h2.62M491.17 43.86h2.62M425.73 42.59h2.62M436.2 42.59h2.62M451.91 42.59h2.62M472.85 42.59h2.62M501.64 42.59h2.62M551.37 42.59h2.62M430.97 41.31h2.62M462.38 41.31h5.23M472.85 41.31h2.62M483.32 41.31h2.62M491.17 41.31h2.62M504.25 41.31h2.62M533.04 41.31h2.62M467.61 40.04h2.62M472.85 40.04h2.62M506.87 40.04h2.62M512.11 40.04h5.23M519.96 40.04h2.62M525.19 40.04h2.62M533.04 40.04h2.62M538.28 40.04h2.62M553.98 40.04h2.62"/>
<path stroke="#e0ff00" d="M441.44 140.76h2.62M553.98 140.76h2.62M548.75 138.21h2.62M553.98 138.21h2.62M420.5 136.94h2.62M548.75 136.94h2.62M420.5 135.66h2.62M553.98 135.66h2.62M423.12 133.11h2.62M449.29 131.84h2.62M423.12 130.56h2.62M423.12 126.74h2.62M420.5 122.91h2.62M436.2 122.91h2.62M425.73 121.64h2.62M553.98 120.36h2.62M420.5 117.81h7.85M548.75 117.81h2.62M553.98 117.81h2.62M423.12 116.54h2.62M438.82 115.26h2.62M553.98 115.26h2.62M423.12 113.99h2.62M428.35 113.99h2.62M551.37 112.71h2.62M423.12 111.44h2.62M553.98 111.44h2.62M420.5 110.16h2.62M420.5 108.89h2.62M420.5 107.61h2.62M470.23 107.61h2.62M553.98 101.24h2.62M454.52 98.69h5.23M438.82 97.41h2.62M457.14 96.14h2.62M423.12 92.31h5.23M543.51 92.31h2.62M423.12 89.76h2.62M457.14 89.76h2.62M553.98 89.76h2.62M423.12 88.49h2.62M428.35 88.49h2.62M464.99 88.49h2.62M546.13 88.49h2.62M420.5 87.21h5.23M428.35 87.21h2.62M425.73 84.66h2.62M444.06 84.66h2.62M428.35 83.39h2.62M433.59 80.84h2.62M441.44 80.84h2.62M457.14 80.84h2.62M478.08 80.84h2.62M553.98 79.56h2.62M446.67 78.29h2.62M457.14 78.29h2.62M475.46 77.01h2.62M438.82 75.74h2.62M553.98 75.74h2.62M420.5 74.46h10.47M433.59 74.46h2.62M423.12 73.19h2.62M444.06 73.19h2.62M423.12 70.64h2.62M430.97 70.64h2.62M553.98 70.64h2.62M428.35 69.36h2.62M551.37 69.36h2.62M423.12 68.09h2.62M449.29 68.09h2.62M553.98 68.09h2.62M423.12 65.54h2.62M423.12 64.26h2.62M553.98 64.26h2.62M446.67 62.99h2.62M441.44 61.71h2.62M423.12 60.44h7.85M436.2 60.44h2.62M553.98 60.44h2.62M425.73 59.16h2.62M438.82 59.16h5.23M546.13 59.16h2.62M423.12 57.89h2.62M428.35 57.89h2.62M472.85 57.89h2.62M501.64 57.89h2.62M428.35 55.34h2.62M467.61 55.34h2.62M425.73 54.06h2.62M433.59 54.06h2.62M553.98 54.06h2.62M420.5 52.79h2.62M425.73 52.79h2.62M462.38 52.79h2.62M433.59 51.51h2.62M449.29 51.51h2.62M553.98 50.24h2.62M428.35 48.96h2.62M420.5 47.69h2.62M428.35 47.69h2.62M553.98 47.69h2.62M425.73 46.41h5.23M457.14 46.41h2.62M420.5 45.14h2.62M430.97 45.14h2.62M433.59 43.86h2.62M449.29 43.86h2.62M553.98 43.86h2.62M423.12 42.59h2.62M430.97 42.59h5.23M438.82 42.59h2.62M446.67 42.59h2.62M464.99 42.59h5.23M425.73 41.31h2.62M501.64 41.31h2.62M530.43 41.31h2.62M436.2 40.04h2.62M483.32 40.04h5.23M493.78 40.04h10.47M509.49 40.04h2.62M517.34 40.04h2.62M527.81 40.04h2.62"/>
<path stroke="#ffee00" d="M467.61 140.76h2.62M420.5 139.49h2.62M423.12 138.21h2.62M553.98 130.56h2.62M420.5 128.01h2.62M420.5 120.36h2.62M420.5 113.99h2.62M553.98 112.71h2.62M553.98 110.16h2.62M553.98 108.89h2.62M423.12 107.61h2.62M553.98 107.61h2.62M553.98 106.34h2.62M430.97 105.06h2.62M553.98 105.06h2.62M425.73 103.79h2.62M420.5 99.96h2.62M436.2 98.69h2.62M420.5 91.04h5.23M425.73 71.91h2.62M425.73 68.09h2.62M428.35 66.81h2.62M462.38 65.54h2.62M420.5 62.99h2.62M425.73 62.99h2.62M423.12 61.71h5.23M553.98 61.71h2.62M420.5 59.16h2.62M441.44 57.89h2.62M436.2 55.34h2.62M420.5 51.51h2.62M423.12 48.96h2.62M430.97 48.96h2.62M423.12 47.69h2.62M548.75 43.86h2.62M459.76 42.59h2.62M548.75 42.59h2.62M553.98 42.59h2.62M433.59 41.31h5.23M441.44 41.31h2.62M449.29 41.31h2.62M454.52 41.31h2.62M438.82 40.04h2.62M446.67 40.04h5.23M454.52 40.04h2.62M462.38 40.04h2.62M478.08 40.04h2.62M491.17 40.04h2.62M504.25 40.04h2.62M540.9 40.04h2.62M548.75 40.04h2.62"/>
<path stroke="#ffa700" d="M420.5 138.21h2.62M420.5 134.39h2.62M420.5 131.84h2.62M420.5 130.56h2.62M420.5 129.29h2.62M420.5 126.74h2.62M420.5 119.09h2.62M420.5 112.71h2.62M420.5 111.44h2.62M420.5 106.34h2.62M420.5 103.79h2.62M420.5 98.69h2.62M423.12 97.41h2.62M420.5 92.31h2.62M420.5 89.76h2.62M420.5 84.66h2.62M553.98 84.66h2.62M420.5 83.39h2.62M420.5 82.11h2.62M420.5 80.84h2.62M420.5 78.29h2.62M420.5 77.01h2.62M420.5 75.74h2.62M420.5 73.19h2.62M420.5 69.36h2.62M420.5 68.09h2.62M420.5 64.26h2.62M425.73 64.26h2.62M420.5 61.71h2.62M433.59 61.71h2.62M420.5 60.44h2.62M430.97 59.16h2.62M420.5 57.89h2.62M420.5 55.34h2.62M420.5 48.96h2.62M423.12 46.41h2.62M420.5 43.86h2.62M423.12 41.31h2.62M428.35 40.04h2.62M441.44 40.04h5.23M464.99 40.04h2.62M488.55 40.04h2.62M543.51 40.04h2.62M551.37 40.04h2.62"/>
<path stroke="#ff7700" d="M420.5 116.54h2.62M420.5 102.51h2.62M420.5 96.14h2.62M420.5 94.86h2.62M420.5 85.94h2.62M428.35 80.84h2.62M420.5 56.61h2.62M420.5 46.41h2.62M553.98 41.31h2.62M423.12 40.04h2.62M459.76 40.04h2.62M475.46 40.04h2.62M480.7 40.04h2.62"/>
<path stroke="#ff3000" d="M420.5 115.26h2.62M420.5 105.06h2.62M420.5 88.49h2.62M420.5 71.91h2.62M420.5 54.06h2.62M425.73 40.04h2.62M430.97 40.04h2.62M451.91 40.04h2.62"/>
<path stroke="#ff0000" d="M420.5 79.56h2.62M420.5 66.81h2.62M420.5 65.54h2.62M420.5 50.24h2.62M420.5 42.59h2.62M420.5 41.31h2.62M420.5 40.04h2.62M433.59 40.04h2.62M470.23 40.04h2.62"/>
</g>
<path d="M426.03 39.4V141.4M428.65 39.4V141.4M431.27 39.4V141.4M433.89 39.4V141.4M439.12 39.4V141.4M441.74 39.4V141.4M444.36 39.4V141.4M446.97 39.4V141.4M452.21 39.4V141.4M454.82 39.4V141.4M457.44 39.4V141.4M460.06 39.4V141.4M465.29 39.4V141.4M467.91 39.4V141.4M470.53 39.4V141.4M473.15 39.4V141.4M478.38 39.4V141.4M481 39.4V141.4M483.62 39.4V141.4M486.23 39.4V141.4M491.47 39.4V141.4M494.08 39.4V141.4M496.7 39.4V141.4M499.32 39.4V141.4M504.55 39.4V141.4M507.17 39.4V141.4M509.79 39.4V141.4M512.41 39.4V141.4M517.64 39.4V141.4M520.26 39.4V141.4M522.88 39.4V141.4M525.49 39.4V141.4M530.73 39.4V141.4M533.34 39.4V141.4M535.96 39.4V141.4M538.58 39.4V141.4M543.81 39.4V141.4M546.43 39.4V141.4M549.05 39.4V141.4M551.67 39.4V141.4M420.5 40.4H556.6M420.5 44.95H556.6M420.5 49.5H556.6M420.5 54.05H556.6M420.5 58.6H556.6M420.5 63.15H556.6M420.5 67.7H556.6M420.5 72.25H556.6M420.5 76.8H556.6M420.5 81.35H556.6M420.5 85.9H556.6M420.5 90.45H556.6M420.5 95H556.6M420.5 99.55H556.6M420.5 104.1H556.6M420.5 108.65H556.6M420.5 113.2H556.6M420.5 117.75H556.6M420.5 122.3H556.6M420.5 126.85H556.6M420.5 131.4H556.6M420.5 135.95H556.6M420.5 140.5H556.6" stroke="#fff" stroke-opacity="0.18" stroke-width="1.3" fill="none"/>
<path d="M420.5 39.4H556.6V141.4" stroke="#400" stroke-opacity="0.55" stroke-width="1" fill="none"/>
<path d="M420.5 38.9V141.4H557.1" stroke="#000" stroke-width="1.15" fill="none"/>
<path d="M420.5 141.4v-3.3M425.73 141.4v-1.8M430.97 141.4v-1.8M436.2 141.4v-1.8M441.44 141.4v-1.8M446.67 141.4v-3.3M451.91 141.4v-1.8M457.14 141.4v-1.8M462.38 141.4v-1.8M467.61 141.4v-1.8M472.85 141.4v-3.3M478.08 141.4v-1.8M483.32 141.4v-1.8M488.55 141.4v-1.8M493.78 141.4v-1.8M499.02 141.4v-3.3M504.25 141.4v-1.8M509.49 141.4v-1.8M514.72 141.4v-1.8M519.96 141.4v-1.8M525.19 141.4v-3.3M530.43 141.4v-1.8M535.66 141.4v-1.8M540.9 141.4v-1.8M546.13 141.4v-1.8M551.37 141.4v-3.3M556.6 141.4v-1.8" stroke="#000" stroke-width="1" fill="none"/>
<text transform="translate(420.2 145.8) scale(1.25 1)" class="t" text-anchor="middle">0</text>
<text transform="translate(446.37 145.8) scale(1.25 1)" class="t" text-anchor="middle">10</text>
<text transform="translate(472.55 145.8) scale(1.25 1)" class="t" text-anchor="middle">20</text>
<text transform="translate(498.72 145.8) scale(1.25 1)" class="t" text-anchor="middle">30</text>
<text transform="translate(524.89 145.8) scale(1.25 1)" class="t" text-anchor="middle">40</text>
<text transform="translate(551.07 145.8) scale(1.25 1)" class="t" text-anchor="middle">50</text>
<path d="M420.5 141.4h4.2M420.5 138.85h2.2M420.5 136.3h2.2M420.5 133.75h2.2M420.5 131.2h2.2M420.5 128.65h4.2M420.5 126.1h2.2M420.5 123.55h2.2M420.5 121h2.2M420.5 118.45h2.2M420.5 115.9h4.2M420.5 113.35h2.2M420.5 110.8h2.2M420.5 108.25h2.2M420.5 105.7h2.2M420.5 103.15h4.2M420.5 100.6h2.2M420.5 98.05h2.2M420.5 95.5h2.2M420.5 92.95h2.2M420.5 90.4h4.2M420.5 87.85h2.2M420.5 85.3h2.2M420.5 82.75h2.2M420.5 80.2h2.2M420.5 77.65h4.2M420.5 75.1h2.2M420.5 72.55h2.2M420.5 70h2.2M420.5 67.45h2.2M420.5 64.9h4.2M420.5 62.35h2.2M420.5 59.8h2.2M420.5 57.25h2.2M420.5 54.7h2.2M420.5 52.15h4.2M420.5 49.6h2.2M420.5 47.05h2.2M420.5 44.5h2.2M420.5 41.95h2.2M420.5 39.4h4.2" stroke="#000" stroke-width="1" fill="none"/>
<text transform="translate(419.5 142) scale(1.25 1)" class="t" text-anchor="end">0</text>
<text transform="translate(419.5 129.25) scale(1.25 1)" class="t" text-anchor="end">10</text>
<text transform="translate(419.5 116.5) scale(1.25 1)" class="t" text-anchor="end">20</text>
<text transform="translate(419.5 103.75) scale(1.25 1)" class="t" text-anchor="end">30</text>
<text transform="translate(419.5 91) scale(1.25 1)" class="t" text-anchor="end">40</text>
<text transform="translate(419.5 78.25) scale(1.25 1)" class="t" text-anchor="end">50</text>
<text transform="translate(419.5 65.5) scale(1.25 1)" class="t" text-anchor="end">60</text>
<text transform="translate(419.5 52.75) scale(1.25 1)" class="t" text-anchor="end">70</text>
<text transform="translate(419.5 40) scale(1.25 1)" class="t" text-anchor="end">80</text>
<rect x="557.4" y="136.3" width="7.3" height="5.25" fill="#6300ff"/>
<rect x="557.4" y="131.2" width="7.3" height="5.25" fill="#3300ff"/>
<rect x="557.4" y="126.1" width="7.3" height="5.25" fill="#0014ff"/>
<rect x="557.4" y="121" width="7.3" height="5.25" fill="#0044ff"/>
<rect x="557.4" y="115.9" width="7.3" height="5.25" fill="#008bff"/>
<rect x="557.4" y="110.8" width="7.3" height="5.25" fill="#00bbff"/>
<rect x="557.4" y="105.7" width="7.3" height="5.25" fill="#00fffc"/>
<rect x="557.4" y="100.6" width="7.3" height="5.25" fill="#00ffcc"/>
<rect x="557.4" y="95.5" width="7.3" height="5.25" fill="#00ff85"/>
<rect x="557.4" y="90.4" width="7.3" height="5.25" fill="#00ff55"/>
<rect x="557.4" y="85.3" width="7.3" height="5.25" fill="#00ff0e"/>
<rect x="557.4" y="80.2" width="7.3" height="5.25" fill="#22ff00"/>
<rect x="557.4" y="75.1" width="7.3" height="5.25" fill="#69ff00"/>
<rect x="557.4" y="70" width="7.3" height="5.25" fill="#99ff00"/>
<rect x="557.4" y="64.9" width="7.3" height="5.25" fill="#e0ff00"/>
<rect x="557.4" y="59.8" width="7.3" height="5.25" fill="#ffee00"/>
<rect x="557.4" y="54.7" width="7.3" height="5.25" fill="#ffa700"/>
<rect x="557.4" y="49.6" width="7.3" height="5.25" fill="#ff7700"/>
<rect x="557.4" y="44.5" width="7.3" height="5.25" fill="#ff3000"/>
<rect x="557.4" y="39.4" width="7.3" height="5.25" fill="#ff0000"/>
<path d="M564.7 39.4L564.7 141.4" stroke="#000" stroke-width="0.6"/>
<text transform="translate(565.1 136.3) scale(1.25 1)" class="t">95</text>
<text transform="translate(565.1 121.9) scale(1.25 1)" class="t">100</text>
<text transform="translate(565.1 107.5) scale(1.25 1)" class="t">105</text>
<text transform="translate(565.1 93.1) scale(1.25 1)" class="t">110</text>
<text transform="translate(565.1 78.7) scale(1.25 1)" class="t">115</text>
<text transform="translate(565.1 64.3) scale(1.25 1)" class="t">120</text>
<text transform="translate(565.1 49.9) scale(1.25 1)" class="t">125</text>
<path d="M564.7 135h-3.6M564.7 120.6h-3.6M564.7 106.2h-3.6M564.7 91.8h-3.6M564.7 77.4h-3.6M564.7 63h-3.6M564.7 48.6h-3.6" stroke="#000" stroke-width="0.8" fill="none"/>
<text x="604.1" y="36.9" font-size="9.9" textLength="100.2" lengthAdjust="spacingAndGlyphs">Vcal Threshold Trimmed</text>
<rect x="604.7" y="39.4" width="136" height="102" fill="none" stroke="#000" stroke-width="1.15"/>
<path d="M604.7 141.4v-3.3M611.5 141.4v-1.8M618.3 141.4v-1.8M625.1 141.4v-1.8M631.9 141.4v-3.3M638.7 141.4v-1.8M645.5 141.4v-1.8M652.3 141.4v-1.8M659.1 141.4v-3.3M665.9 141.4v-1.8M672.7 141.4v-1.8M679.5 141.4v-1.8M686.3 141.4v-3.3M693.1 141.4v-1.8M699.9 141.4v-1.8M706.7 141.4v-1.8M713.5 141.4v-3.3M720.3 141.4v-1.8M727.1 141.4v-1.8M733.9 141.4v-1.8M740.7 141.4v-3.3" stroke="#000" stroke-width="1" fill="none"/>
<text transform="translate(604.4 145.8) scale(1.25 1)" class="t" text-anchor="middle">0</text>
<text transform="translate(631.6 145.8) scale(1.25 1)" class="t" text-anchor="middle">20</text>
<text transform="translate(658.8 145.8) scale(1.25 1)" class="t" text-anchor="middle">40</text>
<text transform="translate(686 145.8) scale(1.25 1)" class="t" text-anchor="middle">60</text>
<text transform="translate(713.2 145.8) scale(1.25 1)" class="t" text-anchor="middle">80</text>
<text transform="translate(740.4 145.8) scale(1.25 1)" class="t" text-anchor="middle">100</text>
<path d="M604.7 139.28h2.2M604.7 137.44h2.2M604.7 135.86h2.2M604.7 134.45h2.2M604.7 133.2h4.2M604.7 124.95h2.2M604.7 120.13h2.2M604.7 116.7h2.2M604.7 114.05h2.2M604.7 111.88h2.2M604.7 110.04h2.2M604.7 108.46h2.2M604.7 107.05h2.2M604.7 105.8h4.2M604.7 97.55h2.2M604.7 92.73h2.2M604.7 89.3h2.2M604.7 86.65h2.2M604.7 84.48h2.2M604.7 82.64h2.2M604.7 81.06h2.2M604.7 79.65h2.2M604.7 78.4h4.2M604.7 70.15h2.2M604.7 65.33h2.2M604.7 61.9h2.2M604.7 59.25h2.2M604.7 57.08h2.2M604.7 55.24h2.2M604.7 53.66h2.2M604.7 52.25h2.2M604.7 51h4.2M604.7 42.75h2.2" stroke="#000" stroke-width="1" fill="none"/>
<text transform="translate(603.7 134.5) scale(1.25 1)" class="t" text-anchor="end">1</text>
<text transform="translate(603.7 107.1) scale(1.25 1)" class="t" text-anchor="end">10</text>
<text transform="translate(604.1 80) scale(1.25 1)" class="t" text-anchor="end">10<tspan dy="-1.4" font-size="3">2</tspan></text>
<text transform="translate(604.1 52.6) scale(1.25 1)" class="t" text-anchor="end">10<tspan dy="-1.4" font-size="3">3</tspan></text>
<path d="M674.17 141.4V132.74H675.68V116.77H677.56V99.29H678.87V119.59H680V93.27H681.32V85.38H682.63V66.95H684.14V55.68H685.45V47.22H686.95V51.92H688.27V59.44H689.59V77.29H690.9V90.45H692.22V105.49H693.53V98.91H694.85V101.73H696.17V108.31H697.48V113.95H698.8V141.4H700.11V124.29H701.43V132.74H702.93V141.4" stroke="#222" stroke-width="0.8" fill="none" stroke-linejoin="miter"/>
<text x="613" y="48.9" font-size="7.8" textLength="24.7" lengthAdjust="spacingAndGlyphs">μ:60.77</text>
<text x="613" y="58.7" font-size="7.8" textLength="23" lengthAdjust="spacingAndGlyphs">σ: 1.60</text>
<text x="52.3" y="175.1" font-size="9.9" textLength="100.5" lengthAdjust="spacingAndGlyphs">Bump Bonding Problems</text>
<path d="M188.2 177.8V279.3" stroke="#777" stroke-width="0.9" fill="none"/>
<path d="M188.6 177.8H51.5V279.3H188.6" stroke="#000" stroke-width="1.15" fill="none"/>
<path d="M51.5 279.3v-3.3M56.76 279.3v-1.8M62.02 279.3v-1.8M67.27 279.3v-1.8M72.53 279.3v-1.8M77.79 279.3v-3.3M83.05 279.3v-1.8M88.3 279.3v-1.8M93.56 279.3v-1.8M98.82 279.3v-1.8M104.08 279.3v-3.3M109.33 279.3v-1.8M114.59 279.3v-1.8M119.85 279.3v-1.8M125.11 279.3v-1.8M130.37 279.3v-3.3M135.62 279.3v-1.8M140.88 279.3v-1.8M146.14 279.3v-1.8M151.4 279.3v-1.8M156.65 279.3v-3.3M161.91 279.3v-1.8M167.17 279.3v-1.8M172.43 279.3v-1.8M177.68 279.3v-1.8M182.94 279.3v-3.3M188.2 279.3v-1.8" stroke="#000" stroke-width="1" fill="none"/>
<text transform="translate(51.2 283.7) scale(1.25 1)" class="t" text-anchor="middle">0</text>
<text transform="translate(77.49 283.7) scale(1.25 1)" class="t" text-anchor="middle">10</text>
<text transform="translate(103.78 283.7) scale(1.25 1)" class="t" text-anchor="middle">20</text>
<text transform="translate(130.07 283.7) scale(1.25 1)" class="t" text-anchor="middle">30</text>
<text transform="translate(156.35 283.7) scale(1.25 1)" class="t" text-anchor="middle">40</text>
<text transform="translate(182.64 283.7) scale(1.25 1)" class="t" text-anchor="middle">50</text>
<path d="M51.5 279.3h4.2M51.5 276.76h2.2M51.5 274.22h2.2M51.5 271.69h2.2M51.5 269.15h2.2M51.5 266.61h4.2M51.5 264.07h2.2M51.5 261.54h2.2M51.5 259h2.2M51.5 256.46h2.2M51.5 253.92h4.2M51.5 251.39h2.2M51.5 248.85h2.2M51.5 246.31h2.2M51.5 243.77h2.2M51.5 241.24h4.2M51.5 238.7h2.2M51.5 236.16h2.2M51.5 233.62h2.2M51.5 231.09h2.2M51.5 228.55h4.2M51.5 226.01h2.2M51.5 223.47h2.2M51.5 220.94h2.2M51.5 218.4h2.2M51.5 215.86h4.2M51.5 213.32h2.2M51.5 210.79h2.2M51.5 208.25h2.2M51.5 205.71h2.2M51.5 203.17h4.2M51.5 200.64h2.2M51.5 198.1h2.2M51.5 195.56h2.2M51.5 193.02h2.2M51.5 190.49h4.2M51.5 187.95h2.2M51.5 185.41h2.2M51.5 182.87h2.2M51.5 180.34h2.2M51.5 177.8h4.2" stroke="#000" stroke-width="1" fill="none"/>
<text transform="translate(50.5 279.9) scale(1.25 1)" class="t" text-anchor="end">0</text>
<text transform="translate(50.5 267.21) scale(1.25 1)" class="t" text-anchor="end">10</text>
<text transform="translate(50.5 254.53) scale(1.25 1)" class="t" text-anchor="end">20</text>
<text transform="translate(50.5 241.84) scale(1.25 1)" class="t" text-anchor="end">30</text>
<text transform="translate(50.5 229.15) scale(1.25 1)" class="t" text-anchor="end">40</text>
<text transform="translate(50.5 216.46) scale(1.25 1)" class="t" text-anchor="end">50</text>
<text transform="translate(50.5 203.78) scale(1.25 1)" class="t" text-anchor="end">60</text>
<text transform="translate(50.5 191.09) scale(1.25 1)" class="t" text-anchor="end">70</text>
<text transform="translate(50.5 178.4) scale(1.25 1)" class="t" text-anchor="end">80</text>
<rect x="189" y="274.23" width="7.3" height="5.23" fill="#6300ff"/>
<rect x="189" y="269.15" width="7.3" height="5.23" fill="#3300ff"/>
<rect x="189" y="264.07" width="7.3" height="5.23" fill="#0014ff"/>
<rect x="189" y="259" width="7.3" height="5.23" fill="#0044ff"/>
<rect x="189" y="253.93" width="7.3" height="5.23" fill="#008bff"/>
<rect x="189" y="248.85" width="7.3" height="5.23" fill="#00bbff"/>
<rect x="189" y="243.78" width="7.3" height="5.23" fill="#00fffc"/>
<rect x="189" y="238.7" width="7.3" height="5.23" fill="#00ffcc"/>
<rect x="189" y="233.62" width="7.3" height="5.23" fill="#00ff85"/>
<rect x="189" y="228.55" width="7.3" height="5.23" fill="#00ff55"/>
<rect x="189" y="223.48" width="7.3" height="5.23" fill="#00ff0e"/>
<rect x="189" y="218.4" width="7.3" height="5.23" fill="#22ff00"/>
<rect x="189" y="213.32" width="7.3" height="5.23" fill="#69ff00"/>
<rect x="189" y="208.25" width="7.3" height="5.23" fill="#99ff00"/>
<rect x="189" y="203.18" width="7.3" height="5.23" fill="#e0ff00"/>
<rect x="189" y="198.1" width="7.3" height="5.23" fill="#ffee00"/>
<rect x="189" y="193.03" width="7.3" height="5.23" fill="#ffa700"/>
<rect x="189" y="187.95" width="7.3" height="5.23" fill="#ff7700"/>
<rect x="189" y="182.88" width="7.3" height="5.23" fill="#ff3000"/>
<rect x="189" y="177.8" width="7.3" height="5.23" fill="#ff0000"/>
<path d="M196.3 177.8L196.3 279.3" stroke="#000" stroke-width="0.6"/>
<text transform="translate(196.7 280.6) scale(1.25 1)" class="t">-2</text>
<text transform="translate(196.7 267.91) scale(1.25 1)" class="t">-1.5</text>
<text transform="translate(196.7 255.23) scale(1.25 1)" class="t">-1</text>
<text transform="translate(196.7 242.54) scale(1.25 1)" class="t">-0.5</text>
<text transform="translate(196.7 229.85) scale(1.25 1)" class="t">0</text>
<text transform="translate(196.7 217.16) scale(1.25 1)" class="t">0.5</text>
<text transform="translate(196.7 204.48) scale(1.25 1)" class="t">1</text>
<text transform="translate(196.7 191.79) scale(1.25 1)" class="t">1.5</text>
<text transform="translate(196.7 179.1) scale(1.25 1)" class="t">2</text>
<path d="M196.3 279.3h-3.6M196.3 266.61h-3.6M196.3 253.93h-3.6M196.3 241.24h-3.6M196.3 228.55h-3.6M196.3 215.86h-3.6M196.3 203.18h-3.6M196.3 190.49h-3.6M196.3 177.8h-3.6" stroke="#000" stroke-width="0.8" fill="none"/>
<text x="236.5" y="175.1" font-size="9.9" textLength="60.1" lengthAdjust="spacingAndGlyphs">Bump Bonding</text>
<rect x="236.5" y="177.8" width="136" height="101.5" fill="none" stroke="#000" stroke-width="1.15"/>
<path d="M236.5 279.3V258.24H240.95V249.41H245.08V246.47H249.21V252.35H253.34V238.63H257.47V236.67H261.6V228.43H265.73V225.88H269.86V220.59H273.99V215.1H278.12V209.22H282.25V207.84H286.38V205.29H290.51V205.29H294.64V200.39H298.77V200.39H302.9V199.8H307.03V194.9H311.16V188.63H315.28V190.59H319.41V191.57H323.54V193.92H327.67V195.1H331.8V199.41H335.93V206.27H340.06V214.51H344.19V226.86H348.32V243.53H352.45V267.45H356.58V279.3" stroke="#111" stroke-width="0.9" fill="none" stroke-linejoin="miter"/>
<path d="M236.5 279.3v-3.3M240.62 279.3v-1.8M244.74 279.3v-1.8M248.86 279.3v-1.8M252.98 279.3v-1.8M257.11 279.3v-3.3M261.23 279.3v-1.8M265.35 279.3v-1.8M269.47 279.3v-1.8M273.59 279.3v-1.8M277.71 279.3v-3.3M281.83 279.3v-1.8M285.95 279.3v-1.8M290.08 279.3v-1.8M294.2 279.3v-1.8M298.32 279.3v-3.3M302.44 279.3v-1.8M306.56 279.3v-1.8M310.68 279.3v-1.8M314.8 279.3v-1.8M318.92 279.3v-3.3M323.05 279.3v-1.8M327.17 279.3v-1.8M331.29 279.3v-1.8M335.41 279.3v-1.8M339.53 279.3v-3.3M343.65 279.3v-1.8M347.77 279.3v-1.8M351.89 279.3v-1.8M356.02 279.3v-1.8M360.14 279.3v-3.3M364.26 279.3v-1.8M368.38 279.3v-1.8M372.5 279.3v-1.8" stroke="#000" stroke-width="1" fill="none"/>
<text transform="translate(236.2 283.7) scale(1.25 1)" class="t" text-anchor="middle">-50</text>
<text transform="translate(256.81 283.7) scale(1.25 1)" class="t" text-anchor="middle">-45</text>
<text transform="translate(277.41 283.7) scale(1.25 1)" class="t" text-anchor="middle">-40</text>
<text transform="translate(298.02 283.7) scale(1.25 1)" class="t" text-anchor="middle">-35</text>
<text transform="translate(318.62 283.7) scale(1.25 1)" class="t" text-anchor="middle">-30</text>
<text transform="translate(339.23 283.7) scale(1.25 1)" class="t" text-anchor="middle">-25</text>
<text transform="translate(359.84 283.7) scale(1.25 1)" class="t" text-anchor="middle">-20</text>
<path d="M236.5 273.06h2.2M236.5 268.11h2.2M236.5 264.28h2.2M236.5 261.14h2.2M236.5 258.49h2.2M236.5 256.19h2.2M236.5 254.17h2.2M236.5 252.35h4.2M236.5 240.43h2.2M236.5 233.46h2.2M236.5 228.51h2.2M236.5 224.67h2.2M236.5 221.53h2.2M236.5 218.88h2.2M236.5 216.58h2.2M236.5 214.56h2.2M236.5 212.75h4.2M236.5 200.82h2.2M236.5 193.85h2.2M236.5 188.9h2.2M236.5 185.06h2.2M236.5 181.92h2.2M236.5 179.27h2.2" stroke="#000" stroke-width="1" fill="none"/>
<text transform="translate(235.5 253.65) scale(1.25 1)" class="t" text-anchor="end">10</text>
<text transform="translate(235.9 214.35) scale(1.25 1)" class="t" text-anchor="end">10<tspan dy="-1.4" font-size="3">2</tspan></text>
<text x="420.2" y="175.1" font-size="9.9" textLength="53.8" lengthAdjust="spacingAndGlyphs">Trim Bit Test</text>
<rect x="420.5" y="177.8" width="136.1" height="101.5" fill="none" stroke="#000" stroke-width="1.15"/>
<path d="M420.5 279.3v-3.3M425.01 279.3v-1.8M429.51 279.3v-1.8M434.02 279.3v-1.8M438.53 279.3v-1.8M443.03 279.3v-3.3M447.54 279.3v-1.8M452.05 279.3v-1.8M456.55 279.3v-1.8M461.06 279.3v-1.8M465.57 279.3v-3.3M470.07 279.3v-1.8M474.58 279.3v-1.8M479.09 279.3v-1.8M483.59 279.3v-1.8M488.1 279.3v-3.3M492.61 279.3v-1.8M497.11 279.3v-1.8M501.62 279.3v-1.8M506.13 279.3v-1.8M510.63 279.3v-3.3M515.14 279.3v-1.8M519.65 279.3v-1.8M524.15 279.3v-1.8M528.66 279.3v-1.8M533.17 279.3v-3.3M537.67 279.3v-1.8M542.18 279.3v-1.8M546.69 279.3v-1.8M551.19 279.3v-1.8M555.7 279.3v-3.3" stroke="#000" stroke-width="1" fill="none"/>
<text transform="translate(420.2 283.7) scale(1.25 1)" class="t" text-anchor="middle">0</text>
<text transform="translate(442.73 283.7) scale(1.25 1)" class="t" text-anchor="middle">10</text>
<text transform="translate(465.27 283.7) scale(1.25 1)" class="t" text-anchor="middle">20</text>
<text transform="translate(487.8 283.7) scale(1.25 1)" class="t" text-anchor="middle">30</text>
<text transform="translate(510.33 283.7) scale(1.25 1)" class="t" text-anchor="middle">40</text>
<text transform="translate(532.87 283.7) scale(1.25 1)" class="t" text-anchor="middle">50</text>
<text transform="translate(555.4 283.7) scale(1.25 1)" class="t" text-anchor="middle">60</text>
<path d="M420.5 279.29h2.2M420.5 277.21h2.2M420.5 275.44h2.2M420.5 273.92h2.2M420.5 272.57h2.2M420.5 271.36h4.2M420.5 263.43h2.2M420.5 258.79h2.2M420.5 255.5h2.2M420.5 252.95h2.2M420.5 250.86h2.2M420.5 249.1h2.2M420.5 247.57h2.2M420.5 246.22h2.2M420.5 245.02h4.2M420.5 237.09h2.2M420.5 232.45h2.2M420.5 229.15h2.2M420.5 226.6h2.2M420.5 224.52h2.2M420.5 222.75h2.2M420.5 221.22h2.2M420.5 219.88h2.2M420.5 218.67h4.2M420.5 210.74h2.2M420.5 206.1h2.2M420.5 202.81h2.2M420.5 200.25h2.2M420.5 198.17h2.2M420.5 196.4h2.2M420.5 194.88h2.2M420.5 193.53h2.2M420.5 192.32h4.2M420.5 184.39h2.2M420.5 179.75h2.2" stroke="#000" stroke-width="1" fill="none"/>
<text transform="translate(419.5 272.66) scale(1.25 1)" class="t" text-anchor="end">1</text>
<text transform="translate(419.5 246.32) scale(1.25 1)" class="t" text-anchor="end">10</text>
<text transform="translate(419.9 220.27) scale(1.25 1)" class="t" text-anchor="end">10<tspan dy="-1.4" font-size="3">2</tspan></text>
<text transform="translate(419.9 193.92) scale(1.25 1)" class="t" text-anchor="end">10<tspan dy="-1.4" font-size="3">3</tspan></text>
<path d="M431.57 279.3V235.2H433.82V191.5H436.08V181.3H438.33V198.5H440.59V248.9H442.84V279.3" stroke="#00ee00" stroke-width="0.95" fill="none" stroke-linejoin="miter"/>
<path d="M442.84 279.1L556.6 279.1" stroke="#00dd00" stroke-width="1"/>
<rect x="443.04" y="225" width="2.2" height="26" fill="#b0b0b0"/>
<rect x="445.69" y="186" width="1.3" height="13" fill="#999"/>
<rect x="450.2" y="206.3" width="2.2" height="73" fill="#aaa"/>
<path d="M442.94 279.3V204.4H445.19V186.2H447.45V184.3H449.7V206.3H451.96V250.8H454.21V279.3" stroke="#000" stroke-width="0.8" fill="none" stroke-linejoin="miter"/>
<path d="M443.99 190V224" stroke="#8a7dff" stroke-width="1.5" stroke-dasharray="0.8 0.8" fill="none"/>
<path d="M453.16 251V272" stroke="#8a9dff" stroke-width="1.4" stroke-dasharray="0.8 0.8" fill="none"/>
<path d="M442.74 279.3V242.5H444.99V200.6H447.25V186H449.5V187.2H451.76V203.5H454.01V241.6H456.26V279.3" stroke="#ff0000" stroke-width="0.95" fill="none" stroke-linejoin="miter"/>
<path d="M440.29 279.3V248.5H442.54V191.4H444.79V183.6H447.05V194.2H449.3V221.5H451.56V271.8H453.81V279.3" stroke="#0000ff" stroke-width="0.95" fill="none" stroke-linejoin="miter"/>
<text x="604" y="175.2" font-size="10" textLength="40.7" lengthAdjust="spacingAndGlyphs">Summary</text>
<text x="706" y="175.2" font-size="10" font-weight="bold">0</text>
<text x="604" y="185.5" font-size="10" textLength="50" lengthAdjust="spacingAndGlyphs">Dead Pixels:</text>
<text x="714.1" y="185.5" font-size="10">0</text>
<text x="604" y="196.8" font-size="10" textLength="53" lengthAdjust="spacingAndGlyphs">Noisy Pixels:</text>
<text x="714.1" y="196.8" font-size="10">0</text>
<text x="604" y="209.1" font-size="10" textLength="54.8" lengthAdjust="spacingAndGlyphs">Mask defects:</text>
<text x="714.1" y="209.1" font-size="10">0</text>
<text x="604" y="219.5" font-size="10" textLength="54.3" lengthAdjust="spacingAndGlyphs">Dead Bumps:</text>
<text x="714.1" y="219.5" font-size="10">0</text>
<text x="604" y="231.4" font-size="10" textLength="60.1" lengthAdjust="spacingAndGlyphs">Dead Trimbits:</text>
<text x="714.1" y="231.4" font-size="10">0</text>
<text x="604" y="243.2" font-size="10" textLength="59.2" lengthAdjust="spacingAndGlyphs">Address Probl:</text>
<text x="714.1" y="243.2" font-size="10">0</text>
<text x="52.3" y="312.5" font-size="9.9" textLength="70.7" lengthAdjust="spacingAndGlyphs">Address decoding</text>
<rect x="51.5" y="315.8" width="136.7" height="101.5" fill="#ff0000"/>
<path d="M57.06 315.8V417.3M59.69 315.8V417.3M62.32 315.8V417.3M64.94 315.8V417.3M70.2 315.8V417.3M72.83 315.8V417.3M75.46 315.8V417.3M78.09 315.8V417.3M83.35 315.8V417.3M85.97 315.8V417.3M88.6 315.8V417.3M91.23 315.8V417.3M96.49 315.8V417.3M99.12 315.8V417.3M101.75 315.8V417.3M104.38 315.8V417.3M109.63 315.8V417.3M112.26 315.8V417.3M114.89 315.8V417.3M117.52 315.8V417.3M122.78 315.8V417.3M125.41 315.8V417.3M128.04 315.8V417.3M130.67 315.8V417.3M135.92 315.8V417.3M138.55 315.8V417.3M141.18 315.8V417.3M143.81 315.8V417.3M149.07 315.8V417.3M151.7 315.8V417.3M154.33 315.8V417.3M156.95 315.8V417.3M162.21 315.8V417.3M164.84 315.8V417.3M167.47 315.8V417.3M170.1 315.8V417.3M175.36 315.8V417.3M177.98 315.8V417.3M180.61 315.8V417.3M183.24 315.8V417.3M51.5 316.8H188.2M51.5 321.35H188.2M51.5 325.9H188.2M51.5 330.45H188.2M51.5 335H188.2M51.5 339.55H188.2M51.5 344.1H188.2M51.5 348.65H188.2M51.5 353.2H188.2M51.5 357.75H188.2M51.5 362.3H188.2M51.5 366.85H188.2M51.5 371.4H188.2M51.5 375.95H188.2M51.5 380.5H188.2M51.5 385.05H188.2M51.5 389.6H188.2M51.5 394.15H188.2M51.5 398.7H188.2M51.5 403.25H188.2M51.5 407.8H188.2M51.5 412.35H188.2M51.5 416.9H188.2" stroke="#fff" stroke-opacity="0.2" stroke-width="1.3" fill="none"/>
<path d="M51.5 315.8H188.2V417.3" stroke="#400" stroke-opacity="0.55" stroke-width="1" fill="none"/>
<path d="M51.5 315.3V417.3H188.7" stroke="#000" stroke-width="1.15" fill="none"/>
<path d="M51.5 417.3v-3.3M56.76 417.3v-1.8M62.02 417.3v-1.8M67.27 417.3v-1.8M72.53 417.3v-1.8M77.79 417.3v-3.3M83.05 417.3v-1.8M88.3 417.3v-1.8M93.56 417.3v-1.8M98.82 417.3v-1.8M104.08 417.3v-3.3M109.33 417.3v-1.8M114.59 417.3v-1.8M119.85 417.3v-1.8M125.11 417.3v-1.8M130.37 417.3v-3.3M135.62 417.3v-1.8M140.88 417.3v-1.8M146.14 417.3v-1.8M151.4 417.3v-1.8M156.65 417.3v-3.3M161.91 417.3v-1.8M167.17 417.3v-1.8M172.43 417.3v-1.8M177.68 417.3v-1.8M182.94 417.3v-3.3M188.2 417.3v-1.8" stroke="#000" stroke-width="1" fill="none"/>
<text transform="translate(51.2 421.7) scale(1.25 1)" class="t" text-anchor="middle">0</text>
<text transform="translate(77.49 421.7) scale(1.25 1)" class="t" text-anchor="middle">10</text>
<text transform="translate(103.78 421.7) scale(1.25 1)" class="t" text-anchor="middle">20</text>
<text transform="translate(130.07 421.7) scale(1.25 1)" class="t" text-anchor="middle">30</text>
<text transform="translate(156.35 421.7) scale(1.25 1)" class="t" text-anchor="middle">40</text>
<text transform="translate(182.64 421.7) scale(1.25 1)" class="t" text-anchor="middle">50</text>
<path d="M51.5 417.3h4.2M51.5 414.76h2.2M51.5 412.22h2.2M51.5 409.69h2.2M51.5 407.15h2.2M51.5 404.61h4.2M51.5 402.07h2.2M51.5 399.54h2.2M51.5 397h2.2M51.5 394.46h2.2M51.5 391.92h4.2M51.5 389.39h2.2M51.5 386.85h2.2M51.5 384.31h2.2M51.5 381.77h2.2M51.5 379.24h4.2M51.5 376.7h2.2M51.5 374.16h2.2M51.5 371.62h2.2M51.5 369.09h2.2M51.5 366.55h4.2M51.5 364.01h2.2M51.5 361.47h2.2M51.5 358.94h2.2M51.5 356.4h2.2M51.5 353.86h4.2M51.5 351.32h2.2M51.5 348.79h2.2M51.5 346.25h2.2M51.5 343.71h2.2M51.5 341.17h4.2M51.5 338.64h2.2M51.5 336.1h2.2M51.5 333.56h2.2M51.5 331.02h2.2M51.5 328.49h4.2M51.5 325.95h2.2M51.5 323.41h2.2M51.5 320.87h2.2M51.5 318.34h2.2M51.5 315.8h4.2" stroke="#000" stroke-width="1" fill="none"/>
<text transform="translate(50.5 417.9) scale(1.25 1)" class="t" text-anchor="end">0</text>
<text transform="translate(50.5 405.21) scale(1.25 1)" class="t" text-anchor="end">10</text>
<text transform="translate(50.5 392.53) scale(1.25 1)" class="t" text-anchor="end">20</text>
<text transform="translate(50.5 379.84) scale(1.25 1)" class="t" text-anchor="end">30</text>
<text transform="translate(50.5 367.15) scale(1.25 1)" class="t" text-anchor="end">40</text>
<text transform="translate(50.5 354.46) scale(1.25 1)" class="t" text-anchor="end">50</text>
<text transform="translate(50.5 341.78) scale(1.25 1)" class="t" text-anchor="end">60</text>
<text transform="translate(50.5 329.09) scale(1.25 1)" class="t" text-anchor="end">70</text>
<text transform="translate(50.5 316.4) scale(1.25 1)" class="t" text-anchor="end">80</text>
<rect x="189" y="412.23" width="7.3" height="5.23" fill="#6300ff"/>
<rect x="189" y="407.15" width="7.3" height="5.23" fill="#3300ff"/>
<rect x="189" y="402.07" width="7.3" height="5.23" fill="#0014ff"/>
<rect x="189" y="397" width="7.3" height="5.23" fill="#0044ff"/>
<rect x="189" y="391.93" width="7.3" height="5.23" fill="#008bff"/>
<rect x="189" y="386.85" width="7.3" height="5.23" fill="#00bbff"/>
<rect x="189" y="381.78" width="7.3" height="5.23" fill="#00fffc"/>
<rect x="189" y="376.7" width="7.3" height="5.23" fill="#00ffcc"/>
<rect x="189" y="371.62" width="7.3" height="5.23" fill="#00ff85"/>
<rect x="189" y="366.55" width="7.3" height="5.23" fill="#00ff55"/>
<rect x="189" y="361.48" width="7.3" height="5.23" fill="#00ff0e"/>
<rect x="189" y="356.4" width="7.3" height="5.23" fill="#22ff00"/>
<rect x="189" y="351.32" width="7.3" height="5.23" fill="#69ff00"/>
<rect x="189" y="346.25" width="7.3" height="5.23" fill="#99ff00"/>
<rect x="189" y="341.18" width="7.3" height="5.23" fill="#e0ff00"/>
<rect x="189" y="336.1" width="7.3" height="5.23" fill="#ffee00"/>
<rect x="189" y="331.02" width="7.3" height="5.23" fill="#ffa700"/>
<rect x="189" y="325.95" width="7.3" height="5.23" fill="#ff7700"/>
<rect x="189" y="320.88" width="7.3" height="5.23" fill="#ff3000"/>
<rect x="189" y="315.8" width="7.3" height="5.23" fill="#ff0000"/>
<path d="M196.3 315.8L196.3 417.3" stroke="#000" stroke-width="0.6"/>
<text transform="translate(196.7 418.6) scale(1.25 1)" class="t">0</text>
<text transform="translate(196.7 408.45) scale(1.25 1)" class="t">0.1</text>
<text transform="translate(196.7 398.3) scale(1.25 1)" class="t">0.2</text>
<text transform="translate(196.7 388.15) scale(1.25 1)" class="t">0.3</text>
<text transform="translate(196.7 378) scale(1.25 1)" class="t">0.4</text>
<text transform="translate(196.7 367.85) scale(1.25 1)" class="t">0.5</text>
<text transform="translate(196.7 357.7) scale(1.25 1)" class="t">0.6</text>
<text transform="translate(196.7 347.55) scale(1.25 1)" class="t">0.7</text>
<text transform="translate(196.7 337.4) scale(1.25 1)" class="t">0.8</text>
<text transform="translate(196.7 327.25) scale(1.25 1)" class="t">0.9</text>
<text transform="translate(196.7 317.1) scale(1.25 1)" class="t">1</text>
<path d="M196.3 417.3h-3.6M196.3 407.15h-3.6M196.3 397h-3.6M196.3 386.85h-3.6M196.3 376.7h-3.6M196.3 366.55h-3.6M196.3 356.4h-3.6M196.3 346.25h-3.6M196.3 336.1h-3.6M196.3 325.95h-3.6M196.3 315.8h-3.6" stroke="#000" stroke-width="0.8" fill="none"/>
<text x="236.5" y="312.5" font-size="9.9" textLength="61.4" lengthAdjust="spacingAndGlyphs">Address Levels</text>
<rect x="236.5" y="315.8" width="136" height="101.5" fill="none" stroke="#000" stroke-width="1.15"/>
<path d="M266.07 417.3L266.22 375.3L266.92 346.67L267.42 324.67L267.92 350.67L268.62 379.3L268.82 417.3Z" fill="#777" fill-opacity="0.85" stroke="none"/>
<path d="M267.42 324.37L267.42 379.3" stroke="#111" stroke-width="0.9"/>
<path d="M298.81 417.3L298.96 375.3L299.66 347.25L300.16 325.25L300.66 351.25L301.36 379.3L301.56 417.3Z" fill="#777" fill-opacity="0.85" stroke="none"/>
<path d="M300.16 324.95L300.16 379.3" stroke="#111" stroke-width="0.9"/>
<path d="M311.16 417.3L311.31 375.3L312.01 346.67L312.51 324.67L313.01 350.67L313.71 379.3L313.91 417.3Z" fill="#777" fill-opacity="0.85" stroke="none"/>
<path d="M312.51 324.37L312.51 379.3" stroke="#111" stroke-width="0.9"/>
<path d="M322.93 417.3L323.08 375.3L323.78 348.63L324.28 326.63L324.78 352.63L325.48 379.3L325.68 417.3Z" fill="#777" fill-opacity="0.85" stroke="none"/>
<path d="M324.28 326.33L324.28 379.3" stroke="#111" stroke-width="0.9"/>
<path d="M334.69 417.3L334.84 375.3L335.54 351.18L336.04 329.18L336.54 355.18L337.24 379.3L337.44 417.3Z" fill="#777" fill-opacity="0.85" stroke="none"/>
<path d="M336.04 328.88L336.04 379.3" stroke="#111" stroke-width="0.9"/>
<path d="M345.87 417.3L346.02 375.3L346.72 353.92L347.22 331.92L347.72 357.92L348.42 379.3L348.62 417.3Z" fill="#777" fill-opacity="0.85" stroke="none"/>
<path d="M347.22 331.62L347.22 379.3" stroke="#111" stroke-width="0.9"/>
<path d="M356.26 417.3L356.41 375.3L357.11 359.8L357.61 337.8L358.11 363.8L358.81 379.3L359.01 417.3Z" fill="#777" fill-opacity="0.85" stroke="none"/>
<path d="M357.61 337.5L357.61 379.3" stroke="#111" stroke-width="0.9"/>
<path d="M242.52 417.3v-1.8M248.6 417.3v-3.3M254.68 417.3v-1.8M260.76 417.3v-1.8M266.84 417.3v-1.8M272.92 417.3v-1.8M279 417.3v-3.3M285.08 417.3v-1.8M291.16 417.3v-1.8M297.24 417.3v-1.8M303.32 417.3v-1.8M309.4 417.3v-3.3M315.48 417.3v-1.8M321.56 417.3v-1.8M327.64 417.3v-1.8M333.72 417.3v-1.8M339.8 417.3v-3.3M345.88 417.3v-1.8M351.96 417.3v-1.8M358.04 417.3v-1.8M364.12 417.3v-1.8M370.2 417.3v-3.3" stroke="#000" stroke-width="1" fill="none"/>
<text transform="translate(248.3 421.7) scale(1.25 1)" class="t" text-anchor="middle">-1000</text>
<text transform="translate(278.7 421.7) scale(1.25 1)" class="t" text-anchor="middle">-500</text>
<text transform="translate(309.1 421.7) scale(1.25 1)" class="t" text-anchor="middle">0</text>
<text transform="translate(339.5 421.7) scale(1.25 1)" class="t" text-anchor="middle">500</text>
<text transform="translate(376 422) scale(1.25 1)" class="t" text-anchor="end">1000</text>
<path d="M236.5 415.21h2.2M236.5 413.15h2.2M236.5 411.37h2.2M236.5 409.8h2.2M236.5 408.39h4.2M236.5 399.14h2.2M236.5 393.74h2.2M236.5 389.9h2.2M236.5 386.92h2.2M236.5 384.49h2.2M236.5 382.43h2.2M236.5 380.65h2.2M236.5 379.08h2.2M236.5 377.67h4.2M236.5 368.43h2.2M236.5 363.02h2.2M236.5 359.18h2.2M236.5 356.2h2.2M236.5 353.77h2.2M236.5 351.71h2.2M236.5 349.93h2.2M236.5 348.36h2.2M236.5 346.95h4.2M236.5 337.71h2.2M236.5 332.3h2.2M236.5 328.46h2.2M236.5 325.48h2.2M236.5 323.05h2.2M236.5 320.99h2.2M236.5 319.21h2.2M236.5 317.64h2.2M236.5 316.24h4.2" stroke="#000" stroke-width="1" fill="none"/>
<text transform="translate(235.5 409.69) scale(1.25 1)" class="t" text-anchor="end">1</text>
<text transform="translate(235.5 378.97) scale(1.25 1)" class="t" text-anchor="end">10</text>
<text transform="translate(235.9 348.55) scale(1.25 1)" class="t" text-anchor="end">10<tspan dy="-1.4" font-size="3">2</tspan></text>
<text transform="translate(235.9 317.84) scale(1.25 1)" class="t" text-anchor="end">10<tspan dy="-1.4" font-size="3">3</tspan></text>
<text x="420.2" y="312.5" font-size="9.9" textLength="83.3" lengthAdjust="spacingAndGlyphs">PH Calibration: Gain</text>
<rect x="420.5" y="315.8" width="136.1" height="101.5" fill="none" stroke="#000" stroke-width="1.15"/>
<path d="M420.5 417.3v-3.3M425.42 417.3v-1.8M430.34 417.3v-1.8M435.25 417.3v-1.8M440.17 417.3v-1.8M445.09 417.3v-3.3M450.01 417.3v-1.8M454.92 417.3v-1.8M459.84 417.3v-1.8M464.76 417.3v-1.8M469.68 417.3v-3.3M474.59 417.3v-1.8M479.51 417.3v-1.8M484.43 417.3v-1.8M489.35 417.3v-1.8M494.26 417.3v-3.3M499.18 417.3v-1.8M504.1 417.3v-1.8M509.02 417.3v-1.8M513.94 417.3v-1.8M518.85 417.3v-3.3M523.77 417.3v-1.8M528.69 417.3v-1.8M533.61 417.3v-1.8M538.52 417.3v-1.8M543.44 417.3v-3.3M548.36 417.3v-1.8M553.28 417.3v-1.8" stroke="#000" stroke-width="1" fill="none"/>
<text transform="translate(420.2 421.7) scale(1.25 1)" class="t" text-anchor="middle">0</text>
<text transform="translate(444.79 421.7) scale(1.25 1)" class="t" text-anchor="middle">1</text>
<text transform="translate(469.38 421.7) scale(1.25 1)" class="t" text-anchor="middle">2</text>
<text transform="translate(493.96 421.7) scale(1.25 1)" class="t" text-anchor="middle">3</text>
<text transform="translate(518.55 421.7) scale(1.25 1)" class="t" text-anchor="middle">4</text>
<text transform="translate(543.14 421.7) scale(1.25 1)" class="t" text-anchor="middle">5</text>
<path d="M420.5 416.82h4.2M420.5 414.61h2.2M420.5 412.4h2.2M420.5 410.19h2.2M420.5 407.98h2.2M420.5 405.76h4.2M420.5 403.55h2.2M420.5 401.34h2.2M420.5 399.13h2.2M420.5 396.92h2.2M420.5 394.71h4.2M420.5 392.49h2.2M420.5 390.28h2.2M420.5 388.07h2.2M420.5 385.86h2.2M420.5 383.65h4.2M420.5 381.44h2.2M420.5 379.22h2.2M420.5 377.01h2.2M420.5 374.8h2.2M420.5 372.59h4.2M420.5 370.38h2.2M420.5 368.16h2.2M420.5 365.95h2.2M420.5 363.74h2.2M420.5 361.53h4.2M420.5 359.32h2.2M420.5 357.11h2.2M420.5 354.89h2.2M420.5 352.68h2.2M420.5 350.47h4.2M420.5 348.26h2.2M420.5 346.05h2.2M420.5 343.84h2.2M420.5 341.62h2.2M420.5 339.41h4.2M420.5 337.2h2.2M420.5 334.99h2.2M420.5 332.78h2.2M420.5 330.56h2.2M420.5 328.35h4.2M420.5 326.14h2.2M420.5 323.93h2.2M420.5 321.72h2.2M420.5 319.51h2.2M420.5 317.29h4.2" stroke="#000" stroke-width="1" fill="none"/>
<text transform="translate(419.5 418.12) scale(1.25 1)" class="t" text-anchor="end">0</text>
<text transform="translate(419.5 407.06) scale(1.25 1)" class="t" text-anchor="end">50</text>
<text transform="translate(419.5 396.01) scale(1.25 1)" class="t" text-anchor="end">100</text>
<text transform="translate(419.5 384.95) scale(1.25 1)" class="t" text-anchor="end">150</text>
<text transform="translate(419.5 373.89) scale(1.25 1)" class="t" text-anchor="end">200</text>
<text transform="translate(419.5 362.83) scale(1.25 1)" class="t" text-anchor="end">250</text>
<text transform="translate(419.5 351.77) scale(1.25 1)" class="t" text-anchor="end">300</text>
<text transform="translate(419.5 340.71) scale(1.25 1)" class="t" text-anchor="end">350</text>
<text transform="translate(419.5 329.65) scale(1.25 1)" class="t" text-anchor="end">400</text>
<text transform="translate(419.5 318.59) scale(1.25 1)" class="t" text-anchor="end">450</text>
<path d="M464.16 417.3V416.47H465.27V414.07H466.39V412.34H467.51V410.46H468.63V406.9H469.75V399.36H470.86V386.24H471.98V363.88H473.1V341.53H474.22V323.92H475.33V320.37H476.45V324.05H477.57V352.31H478.69V382.12H479.8V414.36H480.92V416.82H482.04V417.3" stroke="#222" stroke-width="0.8" fill="none" stroke-linejoin="miter"/>
<text x="428.3" y="325.7" font-size="7.8" textLength="20.5" lengthAdjust="spacingAndGlyphs">μ:2.20</text>
<text x="428.3" y="335.6" font-size="7.8" textLength="23.5" lengthAdjust="spacingAndGlyphs">σ: 0.10</text>
<text x="604.1" y="312.5" font-size="9.9" textLength="98.2" lengthAdjust="spacingAndGlyphs">PH Calibration: Pedestal</text>
<rect x="604.7" y="315.8" width="136" height="101.5" fill="none" stroke="#000" stroke-width="1.15"/>
<path d="M604.7 417.3v-3.3M608.1 417.3v-1.8M611.49 417.3v-1.8M614.89 417.3v-1.8M618.29 417.3v-3.3M621.69 417.3v-1.8M625.08 417.3v-1.8M628.48 417.3v-1.8M631.88 417.3v-3.3M635.27 417.3v-1.8M638.67 417.3v-1.8M642.07 417.3v-1.8M645.46 417.3v-3.3M648.86 417.3v-1.8M652.26 417.3v-1.8M655.66 417.3v-1.8M659.05 417.3v-3.3M662.45 417.3v-1.8M665.85 417.3v-1.8M669.24 417.3v-1.8M672.64 417.3v-3.3M676.04 417.3v-1.8M679.44 417.3v-1.8M682.83 417.3v-1.8M686.23 417.3v-3.3M689.63 417.3v-1.8M693.02 417.3v-1.8M696.42 417.3v-1.8M699.82 417.3v-3.3M703.21 417.3v-1.8M706.61 417.3v-1.8M710.01 417.3v-1.8M713.41 417.3v-3.3M716.8 417.3v-1.8M720.2 417.3v-1.8M723.6 417.3v-1.8M726.99 417.3v-3.3M730.39 417.3v-1.8M733.79 417.3v-1.8M737.19 417.3v-1.8M740.58 417.3v-3.3" stroke="#000" stroke-width="1" fill="none"/>
<text transform="translate(604.4 421.7) scale(1.25 1)" class="t" text-anchor="middle">-1400</text>
<text transform="translate(617.99 421.7) scale(1.25 1)" class="t" text-anchor="middle">-1200</text>
<text transform="translate(631.58 421.7) scale(1.25 1)" class="t" text-anchor="middle">-1000</text>
<text transform="translate(645.16 421.7) scale(1.25 1)" class="t" text-anchor="middle">-800</text>
<text transform="translate(658.75 421.7) scale(1.25 1)" class="t" text-anchor="middle">-600</text>
<text transform="translate(672.34 421.7) scale(1.25 1)" class="t" text-anchor="middle">-400</text>
<text transform="translate(685.93 421.7) scale(1.25 1)" class="t" text-anchor="middle">-200</text>
<text transform="translate(699.52 421.7) scale(1.25 1)" class="t" text-anchor="middle">0</text>
<text transform="translate(713.11 421.7) scale(1.25 1)" class="t" text-anchor="middle">200</text>
<text transform="translate(726.69 421.7) scale(1.25 1)" class="t" text-anchor="middle">400</text>
<text transform="translate(740.28 421.7) scale(1.25 1)" class="t" text-anchor="middle">600</text>
<path d="M604.7 416.82h4.2M604.7 414.46h2.2M604.7 412.09h2.2M604.7 409.72h2.2M604.7 407.35h4.2M604.7 404.99h2.2M604.7 402.62h2.2M604.7 400.25h2.2M604.7 397.88h4.2M604.7 395.51h2.2M604.7 393.15h2.2M604.7 390.78h2.2M604.7 388.41h4.2M604.7 386.04h2.2M604.7 383.68h2.2M604.7 381.31h2.2M604.7 378.94h4.2M604.7 376.57h2.2M604.7 374.21h2.2M604.7 371.84h2.2M604.7 369.47h4.2M604.7 367.1h2.2M604.7 364.74h2.2M604.7 362.37h2.2M604.7 360h4.2M604.7 357.63h2.2M604.7 355.26h2.2M604.7 352.9h2.2M604.7 350.53h4.2M604.7 348.16h2.2M604.7 345.79h2.2M604.7 343.43h2.2M604.7 341.06h4.2M604.7 338.69h2.2M604.7 336.32h2.2M604.7 333.96h2.2M604.7 331.59h4.2M604.7 329.22h2.2M604.7 326.85h2.2M604.7 324.49h2.2M604.7 322.12h4.2M604.7 319.75h2.2M604.7 317.38h2.2" stroke="#000" stroke-width="1" fill="none"/>
<text transform="translate(603.7 418.12) scale(1.25 1)" class="t" text-anchor="end">0</text>
<text transform="translate(603.7 408.65) scale(1.25 1)" class="t" text-anchor="end">20</text>
<text transform="translate(603.7 399.18) scale(1.25 1)" class="t" text-anchor="end">40</text>
<text transform="translate(603.7 389.71) scale(1.25 1)" class="t" text-anchor="end">60</text>
<text transform="translate(603.7 380.24) scale(1.25 1)" class="t" text-anchor="end">80</text>
<text transform="translate(603.7 370.77) scale(1.25 1)" class="t" text-anchor="end">100</text>
<text transform="translate(603.7 361.3) scale(1.25 1)" class="t" text-anchor="end">120</text>
<text transform="translate(603.7 351.83) scale(1.25 1)" class="t" text-anchor="end">140</text>
<text transform="translate(603.7 342.36) scale(1.25 1)" class="t" text-anchor="end">160</text>
<text transform="translate(603.7 332.89) scale(1.25 1)" class="t" text-anchor="end">180</text>
<text transform="translate(603.7 323.42) scale(1.25 1)" class="t" text-anchor="end">200</text>
<path d="M647.96 416.82L649.33 394.27L650.71 370.35L651.49 369.18L652.27 380.16L653.06 370.35L654.04 339.37L655.02 320.75L655.8 337.41L656.78 353.1L658.35 386.43L660.12 416.82" stroke="#222" stroke-width="0.8" fill="none" stroke-linejoin="round"/>
<text x="697" y="325.7" font-size="7.8" textLength="28.5" lengthAdjust="spacingAndGlyphs">μ:-666.9</text>
<text x="697" y="335.6" font-size="7.8" textLength="23.5" lengthAdjust="spacingAndGlyphs">σ: 35.2</text>
<text x="52.3" y="451.7" font-size="9.9" textLength="37.9" lengthAdjust="spacingAndGlyphs">Trim Bits</text>
<g stroke-width="1.32" fill="none">
<path stroke="#6300ff" d="M51.5 554.87h5.26M77.79 554.87h2.63M106.71 554.87h2.63M156.65 554.87h2.63M169.8 554.87h2.63M177.68 554.87h2.63M182.94 554.87h2.63M51.5 553.6h5.26M90.93 553.6h2.63M109.33 553.6h2.63M117.22 553.6h5.26M127.74 553.6h2.63M143.51 553.6h2.63M167.17 553.6h2.63M56.76 552.33h2.63M138.25 552.33h2.63M143.51 552.33h2.63M169.8 552.33h2.63M182.94 552.33h5.26M93.56 551.07h2.63M156.65 551.07h2.63M67.27 548.54h2.63M127.74 548.54h2.63M64.64 547.27h2.63M172.43 546h2.63M169.8 542.2h2.63M51.5 540.94h2.63M75.16 540.94h2.63M51.5 518.15h2.63"/>
<path stroke="#3300ff" d="M59.39 554.87h2.63M64.64 554.87h2.63M69.9 554.87h2.63M80.42 554.87h2.63M90.93 554.87h2.63M96.19 554.87h5.26M109.33 554.87h2.63M114.59 554.87h2.63M122.48 554.87h2.63M140.88 554.87h2.63M161.91 554.87h2.63M172.43 554.87h2.63M56.76 553.6h2.63M64.64 553.6h2.63M75.16 553.6h5.26M85.67 553.6h5.26M98.82 553.6h2.63M132.99 553.6h7.89M151.4 553.6h2.63M161.91 553.6h2.63M172.43 553.6h2.63M182.94 553.6h2.63M59.39 552.33h2.63M67.27 552.33h7.89M83.05 552.33h2.63M88.3 552.33h2.63M98.82 552.33h2.63M111.96 552.33h2.63M119.85 552.33h5.26M127.74 552.33h2.63M146.14 552.33h2.63M164.54 552.33h2.63M172.43 552.33h2.63M83.05 551.07h2.63M51.5 549.8h2.63M69.9 549.8h2.63M51.5 548.54h2.63M159.28 548.54h2.63M56.76 547.27h2.63M172.43 547.27h2.63M51.5 546h2.63M64.64 546h2.63M77.79 546h2.63M138.25 546h5.26M51.5 544.74h2.63M72.53 544.74h2.63M51.5 542.2h2.63M75.16 535.87h2.63M96.19 532.07h2.63M56.76 515.61h2.63M51.5 514.35h2.63M135.62 513.08h2.63M75.16 505.48h2.63M75.16 487.76h2.63M51.5 476.36h2.63"/>
<path stroke="#0044ff" d="M62.02 554.87h2.63M83.05 554.87h2.63M119.85 554.87h2.63M127.74 554.87h10.52M154.03 554.87h2.63M164.54 554.87h2.63M175.06 554.87h2.63M180.31 554.87h2.63M185.57 554.87h2.63M69.9 553.6h2.63M80.42 553.6h2.63M93.56 553.6h2.63M106.71 553.6h2.63M130.37 553.6h2.63M146.14 553.6h2.63M154.03 553.6h5.26M164.54 553.6h2.63M175.06 553.6h2.63M80.42 552.33h2.63M85.67 552.33h2.63M93.56 552.33h2.63M117.22 552.33h2.63M130.37 552.33h2.63M135.62 552.33h2.63M180.31 552.33h2.63M54.13 551.07h2.63M59.39 551.07h2.63M64.64 551.07h2.63M72.53 551.07h2.63M77.79 551.07h2.63M85.67 551.07h2.63M98.82 551.07h5.26M117.22 551.07h2.63M146.14 551.07h2.63M164.54 551.07h2.63M177.68 551.07h5.26M54.13 549.8h2.63M67.27 549.8h2.63M88.3 549.8h2.63M96.19 549.8h2.63M101.45 549.8h2.63M148.77 549.8h2.63M156.65 549.8h2.63M175.06 549.8h2.63M56.76 548.54h2.63M64.64 548.54h2.63M75.16 548.54h2.63M85.67 548.54h2.63M93.56 548.54h2.63M180.31 548.54h2.63M69.9 547.27h5.26M77.79 547.27h2.63M96.19 547.27h2.63M117.22 547.27h2.63M125.11 547.27h2.63M135.62 547.27h7.89M169.8 547.27h2.63M185.57 547.27h2.63M83.05 546h2.63M54.13 544.74h2.63M114.59 544.74h2.63M80.42 543.47h2.63M148.77 543.47h2.63M77.79 540.94h2.63M132.99 540.94h2.63M119.85 538.41h2.63M167.17 538.41h2.63M64.64 535.87h2.63M135.62 535.87h2.63M85.67 534.61h2.63M98.82 533.34h2.63M88.3 527.01h2.63M117.22 527.01h2.63M51.5 525.74h2.63M88.3 525.74h2.63M148.77 520.68h2.63M51.5 516.88h2.63M51.5 515.61h2.63M56.76 513.08h2.63M132.99 513.08h2.63M64.64 506.75h2.63M114.59 502.95h2.63M140.88 501.68h2.63M83.05 500.42h2.63M75.16 496.62h2.63M51.5 495.35h2.63M104.08 495.35h2.63M51.5 486.49h2.63M51.5 485.22h2.63M51.5 482.69h2.63M67.27 480.16h2.63M77.79 467.5h2.63M64.64 464.96h2.63M67.27 462.43h2.63M51.5 461.16h2.63M51.5 456.1h2.63M56.76 456.1h2.63M111.96 456.1h2.63M56.76 454.83h2.63"/>
<path stroke="#008bff" d="M56.76 554.87h2.63M72.53 554.87h2.63M88.3 554.87h2.63M101.45 554.87h5.26M111.96 554.87h2.63M117.22 554.87h2.63M143.51 554.87h7.89M59.39 553.6h5.26M83.05 553.6h2.63M111.96 553.6h2.63M159.28 553.6h2.63M180.31 553.6h2.63M54.13 552.33h2.63M75.16 552.33h5.26M90.93 552.33h2.63M101.45 552.33h2.63M106.71 552.33h5.26M125.11 552.33h2.63M148.77 552.33h2.63M154.03 552.33h5.26M167.17 552.33h2.63M175.06 552.33h5.26M62.02 551.07h2.63M67.27 551.07h2.63M75.16 551.07h2.63M96.19 551.07h2.63M114.59 551.07h2.63M119.85 551.07h2.63M125.11 551.07h5.26M161.91 551.07h2.63M167.17 551.07h10.52M56.76 549.8h2.63M64.64 549.8h2.63M77.79 549.8h2.63M93.56 549.8h2.63M106.71 549.8h2.63M114.59 549.8h2.63M122.48 549.8h5.26M130.37 549.8h2.63M161.91 549.8h2.63M72.53 548.54h2.63M77.79 548.54h7.89M88.3 548.54h5.26M122.48 548.54h2.63M143.51 548.54h2.63M75.16 547.27h2.63M83.05 547.27h2.63M98.82 547.27h5.26M143.51 547.27h5.26M161.91 547.27h2.63M167.17 547.27h2.63M180.31 547.27h5.26M56.76 546h5.26M69.9 546h2.63M88.3 546h5.26M96.19 546h2.63M101.45 546h5.26M114.59 546h2.63M143.51 546h5.26M167.17 546h2.63M180.31 546h2.63M62.02 544.74h2.63M67.27 544.74h2.63M75.16 544.74h2.63M80.42 544.74h2.63M85.67 544.74h5.26M104.08 544.74h2.63M125.11 544.74h2.63M148.77 544.74h2.63M159.28 544.74h2.63M185.57 544.74h2.63M54.13 543.47h2.63M59.39 543.47h2.63M96.19 543.47h2.63M132.99 543.47h2.63M59.39 542.2h2.63M93.56 542.2h2.63M101.45 542.2h2.63M109.33 542.2h2.63M182.94 542.2h2.63M80.42 540.94h2.63M90.93 540.94h2.63M104.08 540.94h2.63M117.22 540.94h2.63M169.8 540.94h2.63M64.64 539.67h2.63M75.16 539.67h2.63M151.4 539.67h2.63M69.9 538.41h7.89M83.05 538.41h2.63M88.3 538.41h2.63M96.19 538.41h2.63M51.5 537.14h2.63M67.27 537.14h5.26M96.19 537.14h2.63M132.99 537.14h2.63M169.8 537.14h2.63M51.5 535.87h2.63M67.27 535.87h2.63M93.56 535.87h2.63M130.37 535.87h2.63M177.68 535.87h2.63M56.76 534.61h2.63M169.8 534.61h2.63M64.64 533.34h2.63M85.67 533.34h2.63M67.27 532.07h5.26M98.82 532.07h2.63M151.4 532.07h2.63M51.5 530.81h7.89M51.5 529.54h2.63M67.27 529.54h2.63M111.96 528.28h2.63M51.5 527.01h2.63M56.76 527.01h2.63M75.16 527.01h2.63M96.19 527.01h2.63M167.17 525.74h2.63M69.9 524.48h2.63M80.42 524.48h2.63M51.5 523.21h2.63M51.5 520.68h2.63M104.08 515.61h2.63M101.45 514.35h2.63M72.53 513.08h2.63M67.27 511.81h2.63M51.5 510.55h2.63M69.9 509.28h2.63M56.76 508.02h2.63M72.53 506.75h2.63M72.53 505.48h2.63M51.5 504.22h2.63M83.05 502.95h2.63M90.93 502.95h2.63M59.39 500.42h2.63M54.13 497.89h2.63M72.53 492.82h2.63M88.3 492.82h2.63M106.71 491.55h2.63M114.59 491.55h2.63M51.5 489.02h2.63M119.85 486.49h2.63M104.08 485.22h2.63M98.82 483.96h2.63M127.74 482.69h2.63M109.33 477.63h2.63M75.16 473.83h2.63M96.19 473.83h2.63M138.25 472.56h2.63M77.79 468.76h2.63M135.62 468.76h2.63M51.5 462.43h2.63M130.37 459.9h2.63M151.4 459.9h2.63M51.5 458.63h2.63M80.42 458.63h2.63M109.33 458.63h2.63M154.03 458.63h2.63M56.76 457.37h2.63M77.79 456.1h2.63M177.68 456.1h2.63M75.16 454.83h2.63M156.65 454.83h2.63"/>
<path stroke="#00bbff" d="M93.56 554.87h2.63M125.11 554.87h2.63M138.25 554.87h2.63M96.19 553.6h2.63M104.08 553.6h2.63M125.11 553.6h2.63M148.77 553.6h2.63M177.68 553.6h2.63M185.57 553.6h2.63M64.64 552.33h2.63M96.19 552.33h2.63M104.08 552.33h2.63M114.59 552.33h2.63M132.99 552.33h2.63M159.28 552.33h5.26M69.9 551.07h2.63M90.93 551.07h2.63M104.08 551.07h7.89M140.88 551.07h2.63M159.28 551.07h2.63M182.94 551.07h5.26M59.39 549.8h2.63M72.53 549.8h5.26M83.05 549.8h5.26M104.08 549.8h2.63M111.96 549.8h2.63M117.22 549.8h2.63M127.74 549.8h2.63M132.99 549.8h5.26M140.88 549.8h5.26M154.03 549.8h2.63M167.17 549.8h7.89M177.68 549.8h10.52M54.13 548.54h2.63M59.39 548.54h2.63M69.9 548.54h2.63M98.82 548.54h2.63M106.71 548.54h2.63M125.11 548.54h2.63M135.62 548.54h5.26M146.14 548.54h2.63M151.4 548.54h2.63M167.17 548.54h2.63M185.57 548.54h2.63M54.13 547.27h2.63M59.39 547.27h2.63M67.27 547.27h2.63M104.08 547.27h2.63M111.96 547.27h2.63M130.37 547.27h2.63M151.4 547.27h2.63M156.65 547.27h2.63M164.54 547.27h2.63M54.13 546h2.63M72.53 546h5.26M80.42 546h2.63M98.82 546h2.63M109.33 546h2.63M117.22 546h13.14M161.91 546h2.63M175.06 546h2.63M56.76 544.74h2.63M69.9 544.74h2.63M93.56 544.74h10.52M111.96 544.74h2.63M117.22 544.74h2.63M122.48 544.74h2.63M130.37 544.74h2.63M143.51 544.74h2.63M161.91 544.74h2.63M167.17 544.74h2.63M172.43 544.74h2.63M62.02 543.47h18.4M85.67 543.47h2.63M101.45 543.47h2.63M111.96 543.47h5.26M119.85 543.47h2.63M125.11 543.47h7.89M143.51 543.47h2.63M156.65 543.47h5.26M164.54 543.47h2.63M169.8 543.47h5.26M177.68 543.47h2.63M185.57 543.47h2.63M62.02 542.2h2.63M72.53 542.2h13.14M88.3 542.2h2.63M106.71 542.2h2.63M111.96 542.2h2.63M151.4 542.2h5.26M161.91 542.2h2.63M167.17 542.2h2.63M172.43 542.2h2.63M180.31 542.2h2.63M59.39 540.94h2.63M72.53 540.94h2.63M83.05 540.94h2.63M135.62 540.94h2.63M159.28 540.94h2.63M164.54 540.94h5.26M80.42 539.67h5.26M88.3 539.67h2.63M101.45 539.67h2.63M106.71 539.67h2.63M167.17 539.67h2.63M51.5 538.41h2.63M67.27 538.41h2.63M77.79 538.41h2.63M109.33 538.41h2.63M175.06 538.41h2.63M59.39 537.14h7.89M83.05 537.14h5.26M98.82 537.14h7.89M148.77 537.14h2.63M164.54 537.14h2.63M172.43 537.14h2.63M59.39 535.87h5.26M72.53 535.87h2.63M77.79 535.87h5.26M98.82 535.87h2.63M104.08 535.87h7.89M180.31 535.87h5.26M51.5 534.61h2.63M77.79 534.61h5.26M117.22 534.61h2.63M127.74 534.61h2.63M54.13 533.34h2.63M80.42 533.34h2.63M90.93 533.34h2.63M114.59 533.34h2.63M161.91 533.34h2.63M62.02 532.07h2.63M72.53 532.07h5.26M80.42 532.07h2.63M125.11 532.07h2.63M130.37 532.07h2.63M69.9 530.81h2.63M77.79 530.81h2.63M88.3 530.81h2.63M122.48 530.81h2.63M167.17 530.81h2.63M59.39 529.54h2.63M64.64 529.54h2.63M62.02 528.28h2.63M69.9 528.28h5.26M83.05 528.28h2.63M122.48 525.74h2.63M56.76 524.48h7.89M106.71 524.48h2.63M64.64 523.21h2.63M77.79 523.21h2.63M54.13 521.94h2.63M90.93 521.94h2.63M106.71 521.94h2.63M138.25 521.94h2.63M62.02 520.68h2.63M75.16 520.68h2.63M51.5 519.41h2.63M64.64 519.41h2.63M77.79 519.41h2.63M54.13 518.15h2.63M64.64 518.15h2.63M69.9 518.15h2.63M85.67 518.15h2.63M54.13 515.61h2.63M62.02 515.61h2.63M59.39 514.35h2.63M72.53 514.35h2.63M51.5 513.08h2.63M59.39 513.08h2.63M64.64 513.08h2.63M85.67 513.08h2.63M54.13 511.81h2.63M159.28 510.55h2.63M54.13 509.28h2.63M54.13 508.02h2.63M64.64 508.02h2.63M117.22 506.75h2.63M59.39 505.48h2.63M106.71 504.22h2.63M51.5 502.95h2.63M54.13 501.68h2.63M51.5 500.42h2.63M51.5 499.15h2.63M69.9 499.15h2.63M106.71 497.89h2.63M156.65 497.89h2.63M51.5 496.62h2.63M56.76 496.62h5.26M80.42 496.62h2.63M127.74 495.35h2.63M122.48 494.09h2.63M54.13 491.55h2.63M72.53 491.55h2.63M93.56 491.55h2.63M51.5 490.29h2.63M85.67 490.29h2.63M59.39 489.02h2.63M51.5 487.76h2.63M59.39 486.49h2.63M54.13 485.22h2.63M62.02 485.22h2.63M51.5 483.96h5.26M69.9 483.96h2.63M109.33 483.96h2.63M54.13 482.69h5.26M96.19 482.69h2.63M51.5 481.42h2.63M67.27 481.42h2.63M64.64 480.16h2.63M85.67 480.16h2.63M93.56 478.89h2.63M54.13 477.63h2.63M77.79 475.09h2.63M156.65 475.09h2.63M177.68 473.83h2.63M51.5 472.56h2.63M64.64 472.56h2.63M51.5 471.29h2.63M101.45 471.29h2.63M104.08 470.03h2.63M64.64 467.5h2.63M90.93 466.23h2.63M51.5 464.96h2.63M59.39 462.43h2.63M56.76 461.16h2.63M77.79 461.16h2.63M140.88 461.16h2.63M182.94 461.16h2.63M96.19 459.9h2.63M127.74 459.9h2.63M180.31 459.9h2.63M54.13 458.63h2.63M54.13 457.37h2.63M125.11 457.37h2.63M80.42 456.1h2.63M85.67 456.1h2.63M182.94 456.1h2.63M59.39 454.83h2.63M77.79 454.83h2.63M143.51 454.83h2.63M151.4 454.83h2.63"/>
<path stroke="#00fffc" d="M151.4 554.87h2.63M72.53 553.6h2.63M101.45 553.6h2.63M169.8 553.6h2.63M140.88 552.33h2.63M56.76 551.07h2.63M88.3 551.07h2.63M111.96 551.07h2.63M130.37 551.07h2.63M143.51 551.07h2.63M148.77 551.07h7.89M90.93 549.8h2.63M98.82 549.8h2.63M109.33 549.8h2.63M138.25 549.8h2.63M146.14 549.8h2.63M151.4 549.8h2.63M159.28 549.8h2.63M164.54 549.8h2.63M62.02 548.54h2.63M101.45 548.54h2.63M109.33 548.54h5.26M117.22 548.54h5.26M132.99 548.54h2.63M140.88 548.54h2.63M154.03 548.54h5.26M169.8 548.54h5.26M177.68 548.54h2.63M62.02 547.27h2.63M80.42 547.27h2.63M90.93 547.27h2.63M109.33 547.27h2.63M122.48 547.27h2.63M148.77 547.27h2.63M154.03 547.27h2.63M159.28 547.27h2.63M175.06 547.27h2.63M62.02 546h2.63M85.67 546h2.63M132.99 546h2.63M148.77 546h5.26M159.28 546h2.63M164.54 546h2.63M169.8 546h2.63M185.57 546h2.63M59.39 544.74h2.63M90.93 544.74h2.63M106.71 544.74h2.63M119.85 544.74h2.63M127.74 544.74h2.63M132.99 544.74h2.63M138.25 544.74h2.63M156.65 544.74h2.63M175.06 544.74h2.63M56.76 543.47h2.63M83.05 543.47h2.63M88.3 543.47h5.26M98.82 543.47h2.63M104.08 543.47h5.26M122.48 543.47h2.63M151.4 543.47h2.63M161.91 543.47h2.63M182.94 543.47h2.63M54.13 542.2h2.63M64.64 542.2h2.63M69.9 542.2h2.63M85.67 542.2h2.63M90.93 542.2h2.63M114.59 542.2h2.63M140.88 542.2h2.63M156.65 542.2h2.63M56.76 540.94h2.63M62.02 540.94h7.89M88.3 540.94h2.63M93.56 540.94h2.63M101.45 540.94h2.63M119.85 540.94h5.26M130.37 540.94h2.63M180.31 540.94h5.26M54.13 539.67h10.52M67.27 539.67h7.89M98.82 539.67h2.63M109.33 539.67h13.14M140.88 539.67h2.63M161.91 539.67h2.63M172.43 539.67h2.63M64.64 538.41h2.63M93.56 538.41h2.63M104.08 538.41h2.63M114.59 538.41h5.26M125.11 538.41h2.63M159.28 538.41h2.63M169.8 538.41h2.63M180.31 538.41h2.63M54.13 537.14h2.63M72.53 537.14h5.26M80.42 537.14h2.63M93.56 537.14h2.63M109.33 537.14h2.63M114.59 537.14h2.63M119.85 537.14h2.63M125.11 537.14h5.26M135.62 537.14h2.63M146.14 537.14h2.63M161.91 537.14h2.63M177.68 537.14h2.63M56.76 535.87h2.63M90.93 535.87h2.63M125.11 535.87h2.63M132.99 535.87h2.63M164.54 535.87h2.63M54.13 534.61h2.63M64.64 534.61h5.26M75.16 534.61h2.63M88.3 534.61h7.89M104.08 534.61h2.63M111.96 534.61h2.63M143.51 534.61h2.63M56.76 533.34h2.63M72.53 533.34h2.63M77.79 533.34h2.63M104.08 533.34h2.63M111.96 533.34h2.63M117.22 533.34h7.89M135.62 533.34h2.63M151.4 533.34h2.63M159.28 533.34h2.63M51.5 532.07h5.26M59.39 532.07h2.63M64.64 532.07h2.63M77.79 532.07h2.63M83.05 532.07h2.63M90.93 532.07h5.26M106.71 532.07h7.89M138.25 532.07h2.63M169.8 532.07h2.63M185.57 532.07h2.63M64.64 530.81h5.26M72.53 530.81h2.63M80.42 530.81h2.63M106.71 530.81h2.63M114.59 530.81h2.63M138.25 530.81h2.63M154.03 530.81h2.63M159.28 530.81h5.26M62.02 529.54h2.63M72.53 529.54h5.26M80.42 529.54h5.26M101.45 529.54h2.63M182.94 529.54h5.26M51.5 528.28h2.63M67.27 528.28h2.63M80.42 528.28h2.63M88.3 528.28h5.26M96.19 528.28h2.63M101.45 528.28h2.63M109.33 528.28h2.63M125.11 528.28h2.63M130.37 528.28h2.63M175.06 528.28h5.26M62.02 527.01h2.63M106.71 527.01h2.63M122.48 527.01h2.63M169.8 527.01h2.63M62.02 525.74h7.89M75.16 525.74h5.26M98.82 525.74h2.63M119.85 525.74h2.63M180.31 525.74h2.63M51.5 524.48h2.63M64.64 524.48h2.63M83.05 524.48h2.63M90.93 524.48h2.63M96.19 524.48h5.26M161.91 524.48h2.63M59.39 523.21h5.26M72.53 523.21h2.63M83.05 523.21h5.26M90.93 523.21h2.63M180.31 523.21h2.63M56.76 521.94h2.63M62.02 521.94h2.63M75.16 521.94h2.63M98.82 521.94h2.63M114.59 521.94h2.63M56.76 520.68h2.63M69.9 520.68h2.63M85.67 520.68h2.63M96.19 520.68h2.63M114.59 520.68h5.26M80.42 519.41h2.63M93.56 519.41h2.63M132.99 519.41h2.63M56.76 518.15h2.63M77.79 518.15h2.63M54.13 516.88h2.63M117.22 516.88h2.63M148.77 516.88h2.63M72.53 515.61h2.63M114.59 514.35h2.63M122.48 514.35h2.63M148.77 514.35h2.63M62.02 513.08h2.63M69.9 513.08h2.63M77.79 513.08h2.63M106.71 513.08h2.63M51.5 511.81h2.63M75.16 511.81h2.63M90.93 511.81h2.63M106.71 511.81h2.63M72.53 510.55h2.63M51.5 509.28h2.63M59.39 509.28h7.89M114.59 509.28h2.63M51.5 508.02h2.63M67.27 508.02h5.26M96.19 508.02h2.63M109.33 508.02h2.63M69.9 506.75h2.63M104.08 506.75h2.63M85.67 505.48h2.63M114.59 505.48h2.63M140.88 505.48h2.63M67.27 504.22h2.63M72.53 504.22h2.63M85.67 504.22h2.63M90.93 504.22h2.63M130.37 504.22h2.63M177.68 504.22h2.63M54.13 502.95h2.63M56.76 501.68h7.89M72.53 501.68h2.63M83.05 501.68h2.63M146.14 501.68h2.63M54.13 500.42h2.63M62.02 500.42h2.63M77.79 500.42h2.63M101.45 500.42h2.63M106.71 500.42h2.63M64.64 499.15h5.26M83.05 499.15h2.63M69.9 497.89h2.63M80.42 497.89h2.63M114.59 497.89h2.63M77.79 496.62h2.63M148.77 496.62h2.63M67.27 495.35h5.26M88.3 495.35h2.63M59.39 494.09h2.63M75.16 494.09h2.63M80.42 494.09h5.26M54.13 492.82h2.63M80.42 492.82h5.26M93.56 492.82h2.63M172.43 492.82h2.63M62.02 491.55h2.63M75.16 491.55h2.63M90.93 491.55h2.63M96.19 491.55h2.63M104.08 491.55h2.63M62.02 490.29h5.26M75.16 490.29h2.63M90.93 490.29h2.63M114.59 490.29h2.63M122.48 490.29h2.63M54.13 489.02h2.63M69.9 489.02h2.63M106.71 489.02h2.63M80.42 487.76h2.63M62.02 486.49h5.26M67.27 485.22h2.63M88.3 485.22h7.89M122.48 485.22h2.63M159.28 485.22h2.63M62.02 483.96h7.89M85.67 483.96h2.63M90.93 483.96h2.63M119.85 483.96h2.63M64.64 482.69h2.63M90.93 482.69h2.63M117.22 482.69h2.63M172.43 482.69h2.63M54.13 481.42h2.63M62.02 481.42h2.63M69.9 481.42h2.63M77.79 481.42h2.63M88.3 481.42h5.26M51.5 480.16h5.26M62.02 480.16h2.63M72.53 480.16h2.63M80.42 480.16h2.63M51.5 478.89h2.63M59.39 478.89h2.63M64.64 478.89h2.63M72.53 478.89h2.63M85.67 478.89h2.63M122.48 477.63h2.63M67.27 476.36h2.63M80.42 476.36h2.63M56.76 475.09h2.63M56.76 473.83h5.26M80.42 473.83h5.26M104.08 473.83h2.63M114.59 473.83h2.63M164.54 473.83h2.63M122.48 472.56h2.63M167.17 472.56h2.63M62.02 471.29h2.63M72.53 471.29h5.26M88.3 471.29h2.63M67.27 470.03h2.63M72.53 470.03h2.63M51.5 468.76h2.63M80.42 468.76h2.63M98.82 468.76h2.63M148.77 468.76h2.63M154.03 468.76h2.63M54.13 467.5h2.63M59.39 467.5h2.63M69.9 467.5h2.63M51.5 466.23h5.26M62.02 466.23h2.63M80.42 466.23h2.63M56.76 464.96h2.63M67.27 464.96h2.63M80.42 464.96h2.63M164.54 464.96h2.63M59.39 463.7h2.63M67.27 463.7h2.63M62.02 462.43h2.63M72.53 462.43h5.26M106.71 462.43h2.63M111.96 462.43h2.63M67.27 461.16h2.63M72.53 461.16h5.26M169.8 461.16h2.63M54.13 459.9h2.63M67.27 459.9h2.63M72.53 459.9h2.63M77.79 459.9h2.63M132.99 459.9h2.63M138.25 459.9h2.63M182.94 459.9h2.63M69.9 458.63h2.63M77.79 458.63h2.63M67.27 457.37h2.63M72.53 457.37h5.26M117.22 457.37h2.63M122.48 457.37h2.63M154.03 457.37h2.63M67.27 456.1h2.63M72.53 456.1h5.26M83.05 456.1h2.63M104.08 456.1h2.63M146.14 456.1h2.63M51.5 454.83h5.26M67.27 454.83h2.63M80.42 454.83h2.63M88.3 454.83h2.63M148.77 454.83h2.63M161.91 454.83h2.63"/>
<path stroke="#00ff85" d="M85.67 554.87h2.63M122.48 551.07h2.63M132.99 551.07h7.89M62.02 549.8h2.63M96.19 548.54h2.63M104.08 548.54h2.63M130.37 548.54h2.63M148.77 548.54h2.63M161.91 548.54h5.26M175.06 548.54h2.63M182.94 548.54h2.63M88.3 547.27h2.63M93.56 547.27h2.63M119.85 547.27h2.63M127.74 547.27h2.63M132.99 547.27h2.63M177.68 547.27h2.63M67.27 546h2.63M106.71 546h2.63M111.96 546h2.63M135.62 546h2.63M156.65 546h2.63M64.64 544.74h2.63M77.79 544.74h2.63M109.33 544.74h2.63M135.62 544.74h2.63M140.88 544.74h2.63M169.8 544.74h2.63M182.94 544.74h2.63M93.56 543.47h2.63M109.33 543.47h2.63M135.62 543.47h5.26M146.14 543.47h2.63M167.17 543.47h2.63M180.31 543.47h2.63M56.76 542.2h2.63M67.27 542.2h2.63M96.19 542.2h5.26M104.08 542.2h2.63M119.85 542.2h5.26M132.99 542.2h5.26M164.54 542.2h2.63M185.57 542.2h2.63M54.13 540.94h2.63M106.71 540.94h2.63M111.96 540.94h5.26M125.11 540.94h5.26M138.25 540.94h2.63M146.14 540.94h2.63M154.03 540.94h2.63M172.43 540.94h2.63M177.68 540.94h2.63M185.57 540.94h2.63M77.79 539.67h2.63M85.67 539.67h2.63M93.56 539.67h2.63M104.08 539.67h2.63M122.48 539.67h2.63M132.99 539.67h2.63M138.25 539.67h2.63M156.65 539.67h2.63M175.06 539.67h5.26M54.13 538.41h10.52M98.82 538.41h2.63M111.96 538.41h2.63M122.48 538.41h2.63M132.99 538.41h2.63M138.25 538.41h5.26M154.03 538.41h2.63M182.94 538.41h2.63M56.76 537.14h2.63M77.79 537.14h2.63M88.3 537.14h2.63M106.71 537.14h2.63M130.37 537.14h2.63M138.25 537.14h2.63M151.4 537.14h2.63M156.65 537.14h2.63M175.06 537.14h2.63M185.57 537.14h2.63M69.9 535.87h2.63M111.96 535.87h2.63M122.48 535.87h2.63M146.14 535.87h2.63M151.4 535.87h2.63M169.8 535.87h2.63M59.39 534.61h2.63M83.05 534.61h2.63M96.19 534.61h7.89M138.25 534.61h2.63M151.4 534.61h5.26M177.68 534.61h5.26M51.5 533.34h2.63M67.27 533.34h2.63M93.56 533.34h5.26M101.45 533.34h2.63M109.33 533.34h2.63M125.11 533.34h2.63M130.37 533.34h2.63M148.77 533.34h2.63M164.54 533.34h5.26M180.31 533.34h2.63M56.76 532.07h2.63M101.45 532.07h2.63M114.59 532.07h2.63M122.48 532.07h2.63M143.51 532.07h2.63M148.77 532.07h2.63M161.91 532.07h5.26M85.67 530.81h2.63M96.19 530.81h2.63M104.08 530.81h2.63M117.22 530.81h2.63M127.74 530.81h7.89M151.4 530.81h2.63M180.31 530.81h2.63M54.13 529.54h5.26M77.79 529.54h2.63M88.3 529.54h2.63M93.56 529.54h2.63M104.08 529.54h5.26M114.59 529.54h2.63M119.85 529.54h2.63M127.74 529.54h7.89M140.88 529.54h2.63M159.28 529.54h2.63M164.54 529.54h2.63M175.06 529.54h2.63M56.76 528.28h5.26M64.64 528.28h2.63M75.16 528.28h5.26M104.08 528.28h5.26M114.59 528.28h10.52M140.88 528.28h2.63M156.65 528.28h2.63M164.54 528.28h2.63M169.8 528.28h2.63M54.13 527.01h2.63M59.39 527.01h2.63M64.64 527.01h2.63M69.9 527.01h5.26M77.79 527.01h2.63M83.05 527.01h2.63M98.82 527.01h2.63M127.74 527.01h2.63M135.62 527.01h5.26M143.51 527.01h2.63M164.54 527.01h5.26M182.94 527.01h2.63M54.13 525.74h2.63M69.9 525.74h5.26M80.42 525.74h2.63M125.11 525.74h2.63M146.14 525.74h2.63M151.4 525.74h2.63M172.43 525.74h2.63M72.53 524.48h7.89M109.33 524.48h2.63M135.62 524.48h2.63M167.17 524.48h5.26M175.06 524.48h2.63M75.16 523.21h2.63M93.56 523.21h2.63M151.4 523.21h2.63M51.5 521.94h2.63M64.64 521.94h2.63M93.56 521.94h2.63M101.45 521.94h2.63M125.11 521.94h2.63M64.64 520.68h5.26M72.53 520.68h2.63M80.42 520.68h2.63M90.93 520.68h2.63M106.71 520.68h2.63M132.99 520.68h2.63M59.39 519.41h2.63M72.53 519.41h2.63M90.93 519.41h2.63M98.82 519.41h2.63M106.71 519.41h2.63M148.77 519.41h2.63M59.39 518.15h2.63M72.53 518.15h5.26M83.05 518.15h2.63M88.3 518.15h5.26M98.82 518.15h2.63M114.59 518.15h5.26M135.62 518.15h2.63M143.51 518.15h2.63M59.39 516.88h2.63M67.27 516.88h2.63M72.53 516.88h2.63M77.79 516.88h2.63M93.56 516.88h5.26M101.45 516.88h5.26M125.11 516.88h2.63M130.37 516.88h2.63M146.14 516.88h2.63M64.64 515.61h2.63M69.9 515.61h2.63M98.82 515.61h2.63M114.59 515.61h2.63M122.48 515.61h2.63M54.13 514.35h2.63M67.27 514.35h5.26M85.67 514.35h2.63M98.82 514.35h2.63M119.85 514.35h2.63M67.27 513.08h2.63M80.42 513.08h5.26M93.56 513.08h2.63M114.59 513.08h2.63M119.85 513.08h2.63M56.76 511.81h5.26M72.53 511.81h2.63M77.79 511.81h7.89M96.19 511.81h2.63M148.77 511.81h2.63M161.91 511.81h2.63M54.13 510.55h2.63M64.64 510.55h2.63M85.67 510.55h2.63M114.59 510.55h2.63M164.54 510.55h2.63M56.76 509.28h2.63M72.53 509.28h2.63M83.05 509.28h2.63M90.93 509.28h2.63M169.8 509.28h2.63M59.39 508.02h5.26M77.79 508.02h5.26M90.93 508.02h2.63M104.08 508.02h5.26M111.96 508.02h2.63M156.65 508.02h2.63M172.43 508.02h2.63M51.5 506.75h5.26M59.39 506.75h2.63M83.05 506.75h2.63M98.82 506.75h2.63M132.99 506.75h2.63M167.17 506.75h2.63M62.02 505.48h2.63M69.9 505.48h2.63M80.42 505.48h2.63M75.16 504.22h5.26M98.82 504.22h2.63M122.48 504.22h2.63M56.76 502.95h2.63M67.27 502.95h5.26M98.82 502.95h5.26M154.03 502.95h2.63M80.42 501.68h2.63M88.3 501.68h2.63M114.59 501.68h2.63M154.03 501.68h2.63M56.76 500.42h2.63M75.16 500.42h2.63M85.67 500.42h2.63M90.93 500.42h2.63M98.82 500.42h2.63M104.08 500.42h2.63M146.14 500.42h2.63M56.76 499.15h2.63M75.16 499.15h2.63M80.42 499.15h2.63M85.67 499.15h2.63M96.19 499.15h5.26M114.59 499.15h2.63M119.85 499.15h2.63M161.91 499.15h2.63M51.5 497.89h2.63M62.02 497.89h2.63M72.53 497.89h5.26M88.3 497.89h2.63M98.82 497.89h2.63M122.48 497.89h2.63M54.13 496.62h2.63M69.9 496.62h2.63M83.05 496.62h5.26M101.45 496.62h5.26M109.33 496.62h2.63M117.22 496.62h2.63M125.11 496.62h2.63M185.57 496.62h2.63M54.13 495.35h7.89M64.64 495.35h2.63M90.93 495.35h5.26M119.85 495.35h5.26M51.5 494.09h2.63M56.76 494.09h2.63M62.02 494.09h2.63M69.9 494.09h2.63M77.79 494.09h2.63M101.45 494.09h5.26M51.5 492.82h2.63M56.76 492.82h5.26M64.64 492.82h2.63M101.45 492.82h2.63M109.33 492.82h2.63M64.64 491.55h7.89M88.3 491.55h2.63M98.82 491.55h2.63M109.33 491.55h2.63M54.13 490.29h7.89M83.05 490.29h2.63M56.76 489.02h2.63M62.02 489.02h2.63M67.27 489.02h2.63M72.53 489.02h7.89M93.56 489.02h2.63M101.45 489.02h2.63M109.33 489.02h2.63M114.59 489.02h2.63M140.88 489.02h2.63M154.03 489.02h2.63M56.76 487.76h2.63M69.9 487.76h5.26M101.45 487.76h2.63M111.96 487.76h2.63M135.62 487.76h2.63M67.27 486.49h5.26M77.79 486.49h2.63M106.71 486.49h2.63M114.59 486.49h2.63M122.48 486.49h5.26M140.88 486.49h2.63M64.64 485.22h2.63M72.53 485.22h2.63M77.79 485.22h2.63M83.05 485.22h2.63M111.96 485.22h2.63M119.85 485.22h2.63M56.76 483.96h2.63M106.71 483.96h2.63M117.22 483.96h2.63M135.62 483.96h2.63M67.27 482.69h2.63M80.42 482.69h2.63M88.3 482.69h2.63M111.96 482.69h2.63M143.51 482.69h2.63M59.39 481.42h2.63M93.56 481.42h2.63M109.33 481.42h5.26M117.22 481.42h2.63M127.74 481.42h2.63M56.76 480.16h2.63M75.16 480.16h2.63M90.93 480.16h2.63M109.33 480.16h2.63M130.37 480.16h2.63M146.14 480.16h2.63M62.02 478.89h2.63M67.27 478.89h5.26M77.79 478.89h2.63M88.3 478.89h2.63M98.82 478.89h5.26M109.33 478.89h2.63M119.85 478.89h2.63M135.62 478.89h2.63M143.51 478.89h2.63M180.31 478.89h2.63M51.5 477.63h2.63M56.76 477.63h2.63M64.64 477.63h2.63M69.9 477.63h2.63M69.9 476.36h5.26M77.79 476.36h2.63M83.05 476.36h2.63M90.93 476.36h2.63M109.33 476.36h2.63M146.14 476.36h2.63M59.39 475.09h2.63M69.9 475.09h2.63M80.42 475.09h2.63M90.93 475.09h5.26M111.96 475.09h2.63M117.22 475.09h2.63M54.13 473.83h2.63M72.53 473.83h2.63M101.45 473.83h2.63M106.71 473.83h2.63M111.96 473.83h2.63M67.27 472.56h2.63M72.53 472.56h2.63M88.3 472.56h2.63M125.11 472.56h2.63M151.4 472.56h2.63M59.39 471.29h2.63M80.42 471.29h2.63M122.48 471.29h2.63M146.14 471.29h2.63M69.9 470.03h2.63M83.05 470.03h2.63M93.56 470.03h2.63M109.33 470.03h2.63M114.59 470.03h2.63M122.48 470.03h2.63M130.37 470.03h2.63M69.9 468.76h5.26M90.93 468.76h7.89M125.11 468.76h2.63M51.5 467.5h2.63M72.53 467.5h2.63M109.33 467.5h2.63M130.37 467.5h5.26M146.14 467.5h2.63M64.64 466.23h10.52M77.79 466.23h2.63M93.56 466.23h2.63M156.65 466.23h2.63M185.57 466.23h2.63M62.02 464.96h2.63M88.3 464.96h5.26M104.08 464.96h2.63M111.96 464.96h2.63M138.25 464.96h2.63M51.5 463.7h2.63M64.64 463.7h2.63M72.53 463.7h2.63M96.19 463.7h5.26M159.28 463.7h2.63M185.57 463.7h2.63M54.13 462.43h5.26M69.9 462.43h2.63M77.79 462.43h2.63M85.67 462.43h2.63M90.93 462.43h2.63M101.45 462.43h2.63M127.74 462.43h2.63M140.88 462.43h2.63M180.31 462.43h2.63M96.19 461.16h2.63M101.45 461.16h2.63M106.71 461.16h2.63M111.96 461.16h2.63M62.02 459.9h5.26M83.05 459.9h2.63M88.3 459.9h2.63M104.08 459.9h2.63M109.33 459.9h2.63M135.62 459.9h2.63M185.57 459.9h2.63M62.02 458.63h2.63M72.53 458.63h2.63M88.3 458.63h2.63M93.56 458.63h2.63M104.08 458.63h2.63M111.96 458.63h2.63M119.85 458.63h2.63M169.8 458.63h2.63M51.5 457.37h2.63M80.42 457.37h2.63M98.82 457.37h2.63M54.13 456.1h2.63M59.39 456.1h5.26M69.9 456.1h2.63M90.93 456.1h5.26M109.33 456.1h2.63M135.62 456.1h5.26M180.31 456.1h2.63M62.02 454.83h2.63M69.9 454.83h2.63M93.56 454.83h2.63M104.08 454.83h2.63M114.59 454.83h5.26M125.11 454.83h2.63M130.37 454.83h2.63"/>
<path stroke="#00ff55" d="M85.67 547.27h2.63M114.59 547.27h2.63M177.68 546h2.63M182.94 546h2.63M83.05 544.74h2.63M151.4 544.74h2.63M164.54 544.74h2.63M177.68 544.74h2.63M140.88 543.47h2.63M154.03 543.47h2.63M175.06 543.47h2.63M117.22 542.2h2.63M130.37 542.2h2.63M138.25 542.2h2.63M143.51 542.2h7.89M159.28 542.2h2.63M177.68 542.2h2.63M69.9 540.94h2.63M85.67 540.94h2.63M140.88 540.94h2.63M148.77 540.94h5.26M156.65 540.94h2.63M175.06 540.94h2.63M96.19 539.67h2.63M127.74 539.67h5.26M135.62 539.67h2.63M143.51 539.67h2.63M154.03 539.67h2.63M159.28 539.67h2.63M164.54 539.67h2.63M169.8 539.67h2.63M180.31 539.67h5.26M80.42 538.41h2.63M85.67 538.41h2.63M90.93 538.41h2.63M101.45 538.41h2.63M135.62 538.41h2.63M151.4 538.41h2.63M161.91 538.41h5.26M185.57 538.41h2.63M111.96 537.14h2.63M122.48 537.14h2.63M140.88 537.14h5.26M154.03 537.14h2.63M167.17 537.14h2.63M54.13 535.87h2.63M83.05 535.87h5.26M96.19 535.87h2.63M117.22 535.87h5.26M140.88 535.87h5.26M148.77 535.87h2.63M154.03 535.87h2.63M161.91 535.87h2.63M167.17 535.87h2.63M175.06 535.87h2.63M62.02 534.61h2.63M69.9 534.61h5.26M114.59 534.61h2.63M122.48 534.61h2.63M135.62 534.61h2.63M148.77 534.61h2.63M156.65 534.61h2.63M161.91 534.61h2.63M167.17 534.61h2.63M175.06 534.61h2.63M182.94 534.61h2.63M69.9 533.34h2.63M75.16 533.34h2.63M83.05 533.34h2.63M88.3 533.34h2.63M106.71 533.34h2.63M138.25 533.34h7.89M154.03 533.34h5.26M169.8 533.34h5.26M177.68 533.34h2.63M88.3 532.07h2.63M104.08 532.07h2.63M117.22 532.07h5.26M127.74 532.07h2.63M154.03 532.07h5.26M172.43 532.07h10.52M83.05 530.81h2.63M98.82 530.81h5.26M109.33 530.81h5.26M140.88 530.81h2.63M148.77 530.81h2.63M156.65 530.81h2.63M164.54 530.81h2.63M175.06 530.81h2.63M182.94 530.81h2.63M85.67 529.54h2.63M96.19 529.54h2.63M109.33 529.54h2.63M143.51 529.54h2.63M148.77 529.54h2.63M156.65 529.54h2.63M167.17 529.54h5.26M180.31 529.54h2.63M98.82 528.28h2.63M135.62 528.28h2.63M146.14 528.28h2.63M159.28 528.28h5.26M172.43 528.28h2.63M182.94 528.28h2.63M67.27 527.01h2.63M80.42 527.01h2.63M101.45 527.01h2.63M109.33 527.01h2.63M119.85 527.01h2.63M132.99 527.01h2.63M154.03 527.01h5.26M161.91 527.01h2.63M185.57 527.01h2.63M56.76 525.74h2.63M85.67 525.74h2.63M90.93 525.74h2.63M101.45 525.74h2.63M106.71 525.74h5.26M135.62 525.74h2.63M156.65 525.74h2.63M164.54 525.74h2.63M67.27 524.48h2.63M93.56 524.48h2.63M101.45 524.48h2.63M111.96 524.48h5.26M125.11 524.48h2.63M132.99 524.48h2.63M140.88 524.48h2.63M154.03 524.48h2.63M67.27 523.21h5.26M101.45 523.21h7.89M111.96 523.21h2.63M122.48 523.21h5.26M132.99 523.21h2.63M146.14 523.21h2.63M167.17 523.21h2.63M67.27 521.94h2.63M72.53 521.94h2.63M77.79 521.94h2.63M83.05 521.94h5.26M127.74 521.94h2.63M148.77 521.94h2.63M175.06 521.94h5.26M182.94 521.94h2.63M54.13 520.68h2.63M77.79 520.68h2.63M83.05 520.68h2.63M88.3 520.68h2.63M93.56 520.68h2.63M101.45 520.68h2.63M122.48 520.68h2.63M130.37 520.68h2.63M143.51 520.68h2.63M164.54 520.68h2.63M54.13 519.41h2.63M62.02 519.41h2.63M75.16 519.41h2.63M85.67 519.41h2.63M101.45 519.41h2.63M117.22 519.41h2.63M122.48 519.41h2.63M135.62 519.41h2.63M143.51 519.41h5.26M62.02 518.15h2.63M80.42 518.15h2.63M93.56 518.15h2.63M104.08 518.15h2.63M138.25 518.15h2.63M172.43 518.15h2.63M56.76 516.88h2.63M62.02 516.88h2.63M80.42 516.88h2.63M88.3 516.88h2.63M109.33 516.88h2.63M114.59 516.88h2.63M122.48 516.88h2.63M132.99 516.88h2.63M143.51 516.88h2.63M154.03 516.88h2.63M161.91 516.88h2.63M167.17 516.88h2.63M85.67 515.61h2.63M101.45 515.61h2.63M106.71 515.61h7.89M130.37 515.61h2.63M143.51 515.61h5.26M177.68 515.61h2.63M62.02 514.35h2.63M75.16 514.35h2.63M80.42 514.35h2.63M88.3 514.35h5.26M106.71 514.35h7.89M127.74 514.35h2.63M164.54 514.35h2.63M182.94 514.35h2.63M75.16 513.08h2.63M98.82 513.08h2.63M109.33 513.08h5.26M159.28 513.08h2.63M85.67 511.81h5.26M93.56 511.81h2.63M98.82 511.81h5.26M114.59 511.81h2.63M119.85 511.81h2.63M130.37 511.81h2.63M140.88 511.81h2.63M154.03 511.81h2.63M169.8 511.81h2.63M177.68 511.81h2.63M56.76 510.55h5.26M67.27 510.55h2.63M77.79 510.55h2.63M93.56 510.55h2.63M104.08 510.55h2.63M109.33 510.55h2.63M125.11 510.55h2.63M135.62 510.55h2.63M146.14 510.55h2.63M172.43 510.55h2.63M80.42 509.28h2.63M93.56 509.28h2.63M101.45 509.28h2.63M106.71 509.28h2.63M122.48 509.28h2.63M140.88 509.28h5.26M164.54 509.28h2.63M93.56 508.02h2.63M98.82 508.02h2.63M114.59 508.02h2.63M119.85 508.02h2.63M164.54 508.02h2.63M56.76 506.75h2.63M62.02 506.75h2.63M67.27 506.75h2.63M75.16 506.75h2.63M80.42 506.75h2.63M88.3 506.75h2.63M96.19 506.75h2.63M101.45 506.75h2.63M106.71 506.75h2.63M114.59 506.75h2.63M122.48 506.75h2.63M127.74 506.75h2.63M169.8 506.75h2.63M51.5 505.48h2.63M56.76 505.48h2.63M64.64 505.48h2.63M104.08 505.48h5.26M125.11 505.48h2.63M56.76 504.22h5.26M69.9 504.22h2.63M83.05 504.22h2.63M88.3 504.22h2.63M96.19 504.22h2.63M109.33 504.22h2.63M117.22 504.22h2.63M138.25 504.22h2.63M159.28 504.22h2.63M62.02 502.95h5.26M72.53 502.95h5.26M80.42 502.95h2.63M85.67 502.95h5.26M104.08 502.95h10.52M119.85 502.95h2.63M140.88 502.95h2.63M161.91 502.95h2.63M172.43 502.95h2.63M182.94 502.95h2.63M85.67 501.68h2.63M90.93 501.68h2.63M98.82 501.68h2.63M104.08 501.68h2.63M109.33 501.68h5.26M117.22 501.68h2.63M125.11 501.68h2.63M130.37 501.68h2.63M135.62 501.68h2.63M159.28 501.68h2.63M175.06 501.68h2.63M64.64 500.42h2.63M69.9 500.42h2.63M80.42 500.42h2.63M93.56 500.42h5.26M127.74 500.42h2.63M135.62 500.42h2.63M156.65 500.42h2.63M59.39 499.15h2.63M93.56 499.15h2.63M117.22 499.15h2.63M122.48 499.15h2.63M67.27 497.89h2.63M83.05 497.89h5.26M93.56 497.89h2.63M104.08 497.89h2.63M117.22 497.89h5.26M125.11 497.89h2.63M132.99 497.89h2.63M140.88 497.89h2.63M180.31 497.89h2.63M64.64 496.62h2.63M96.19 496.62h2.63M106.71 496.62h2.63M172.43 496.62h2.63M72.53 495.35h2.63M77.79 495.35h5.26M101.45 495.35h2.63M117.22 495.35h2.63M140.88 495.35h5.26M151.4 495.35h5.26M64.64 494.09h5.26M72.53 494.09h2.63M85.67 494.09h2.63M90.93 494.09h2.63M111.96 494.09h2.63M117.22 494.09h5.26M130.37 494.09h5.26M169.8 494.09h2.63M62.02 492.82h2.63M67.27 492.82h5.26M75.16 492.82h5.26M90.93 492.82h2.63M98.82 492.82h2.63M111.96 492.82h2.63M117.22 492.82h2.63M143.51 492.82h2.63M154.03 492.82h2.63M51.5 491.55h2.63M77.79 491.55h2.63M85.67 491.55h2.63M101.45 491.55h2.63M111.96 491.55h2.63M135.62 491.55h2.63M180.31 491.55h2.63M185.57 491.55h2.63M77.79 490.29h2.63M88.3 490.29h2.63M101.45 490.29h2.63M106.71 490.29h2.63M148.77 490.29h2.63M169.8 490.29h2.63M64.64 489.02h2.63M83.05 489.02h2.63M96.19 489.02h5.26M104.08 489.02h2.63M111.96 489.02h2.63M119.85 489.02h2.63M130.37 489.02h2.63M135.62 489.02h2.63M151.4 489.02h2.63M54.13 487.76h2.63M59.39 487.76h5.26M85.67 487.76h2.63M90.93 487.76h2.63M96.19 487.76h2.63M104.08 487.76h2.63M109.33 487.76h2.63M127.74 487.76h5.26M159.28 487.76h2.63M172.43 487.76h2.63M72.53 486.49h2.63M80.42 486.49h5.26M96.19 486.49h10.52M132.99 486.49h2.63M59.39 485.22h2.63M75.16 485.22h2.63M80.42 485.22h2.63M85.67 485.22h2.63M96.19 485.22h2.63M109.33 485.22h2.63M127.74 485.22h2.63M146.14 485.22h2.63M169.8 485.22h2.63M75.16 483.96h2.63M96.19 483.96h2.63M101.45 483.96h2.63M114.59 483.96h2.63M148.77 483.96h2.63M59.39 482.69h2.63M69.9 482.69h2.63M75.16 482.69h2.63M83.05 482.69h5.26M98.82 482.69h7.89M122.48 482.69h2.63M140.88 482.69h2.63M151.4 482.69h2.63M56.76 481.42h2.63M64.64 481.42h2.63M75.16 481.42h2.63M80.42 481.42h2.63M85.67 481.42h2.63M104.08 481.42h2.63M164.54 481.42h2.63M169.8 481.42h2.63M180.31 481.42h2.63M59.39 480.16h2.63M69.9 480.16h2.63M77.79 480.16h2.63M96.19 480.16h2.63M101.45 480.16h2.63M119.85 480.16h2.63M135.62 480.16h2.63M169.8 480.16h2.63M177.68 480.16h2.63M54.13 478.89h2.63M83.05 478.89h2.63M90.93 478.89h2.63M104.08 478.89h5.26M114.59 478.89h2.63M125.11 478.89h2.63M140.88 478.89h2.63M156.65 478.89h2.63M177.68 478.89h2.63M72.53 477.63h2.63M80.42 477.63h2.63M85.67 477.63h7.89M114.59 477.63h2.63M135.62 477.63h2.63M146.14 477.63h2.63M151.4 477.63h2.63M56.76 476.36h2.63M62.02 476.36h2.63M75.16 476.36h2.63M88.3 476.36h2.63M111.96 476.36h2.63M122.48 476.36h2.63M140.88 476.36h2.63M148.77 476.36h2.63M54.13 475.09h2.63M62.02 475.09h2.63M72.53 475.09h2.63M88.3 475.09h2.63M96.19 475.09h5.26M109.33 475.09h2.63M122.48 475.09h2.63M127.74 475.09h2.63M159.28 475.09h2.63M51.5 473.83h2.63M62.02 473.83h2.63M77.79 473.83h2.63M90.93 473.83h2.63M117.22 473.83h2.63M132.99 473.83h5.26M148.77 473.83h2.63M156.65 473.83h2.63M54.13 472.56h10.52M75.16 472.56h2.63M90.93 472.56h5.26M98.82 472.56h2.63M109.33 472.56h2.63M64.64 471.29h2.63M69.9 471.29h2.63M77.79 471.29h2.63M83.05 471.29h2.63M106.71 471.29h2.63M111.96 471.29h2.63M117.22 471.29h2.63M140.88 471.29h5.26M54.13 470.03h5.26M62.02 470.03h5.26M75.16 470.03h7.89M90.93 470.03h2.63M117.22 470.03h2.63M125.11 470.03h2.63M138.25 470.03h2.63M167.17 470.03h2.63M180.31 470.03h2.63M59.39 468.76h10.52M88.3 468.76h2.63M101.45 468.76h2.63M106.71 468.76h2.63M114.59 468.76h5.26M143.51 468.76h2.63M159.28 468.76h5.26M75.16 467.5h2.63M98.82 467.5h2.63M104.08 467.5h2.63M122.48 467.5h2.63M140.88 467.5h2.63M148.77 467.5h2.63M180.31 467.5h2.63M56.76 466.23h2.63M83.05 466.23h5.26M98.82 466.23h2.63M111.96 466.23h2.63M117.22 466.23h2.63M122.48 466.23h2.63M130.37 466.23h2.63M135.62 466.23h2.63M154.03 466.23h2.63M159.28 466.23h2.63M69.9 464.96h2.63M83.05 464.96h2.63M101.45 464.96h2.63M106.71 464.96h2.63M117.22 464.96h2.63M122.48 464.96h5.26M130.37 464.96h2.63M148.77 464.96h2.63M175.06 464.96h5.26M54.13 463.7h5.26M62.02 463.7h2.63M77.79 463.7h2.63M85.67 463.7h2.63M106.71 463.7h2.63M111.96 463.7h2.63M117.22 463.7h2.63M122.48 463.7h2.63M132.99 463.7h5.26M156.65 463.7h2.63M169.8 463.7h2.63M177.68 463.7h2.63M88.3 462.43h2.63M117.22 462.43h2.63M135.62 462.43h2.63M148.77 462.43h2.63M154.03 462.43h2.63M164.54 462.43h2.63M62.02 461.16h2.63M69.9 461.16h2.63M80.42 461.16h2.63M90.93 461.16h2.63M98.82 461.16h2.63M104.08 461.16h2.63M114.59 461.16h5.26M122.48 461.16h2.63M127.74 461.16h2.63M148.77 461.16h2.63M177.68 461.16h2.63M185.57 461.16h2.63M56.76 459.9h2.63M69.9 459.9h2.63M75.16 459.9h2.63M80.42 459.9h2.63M85.67 459.9h2.63M117.22 459.9h5.26M125.11 459.9h2.63M175.06 459.9h2.63M56.76 458.63h2.63M85.67 458.63h2.63M96.19 458.63h5.26M114.59 458.63h5.26M122.48 458.63h2.63M127.74 458.63h2.63M143.51 458.63h5.26M159.28 458.63h2.63M182.94 458.63h2.63M59.39 457.37h2.63M77.79 457.37h2.63M83.05 457.37h5.26M90.93 457.37h2.63M96.19 457.37h2.63M101.45 457.37h2.63M109.33 457.37h2.63M114.59 457.37h2.63M130.37 457.37h2.63M135.62 457.37h2.63M143.51 457.37h2.63M96.19 456.1h2.63M101.45 456.1h2.63M114.59 456.1h5.26M130.37 456.1h2.63M140.88 456.1h2.63M148.77 456.1h2.63M156.65 456.1h2.63M161.91 456.1h2.63M169.8 456.1h2.63M175.06 456.1h2.63M72.53 454.83h2.63M85.67 454.83h2.63M90.93 454.83h2.63M96.19 454.83h2.63M106.71 454.83h5.26M140.88 454.83h2.63M159.28 454.83h2.63"/>
<path stroke="#00ff0e" d="M106.71 547.27h2.63M93.56 546h2.63M146.14 544.74h2.63M154.03 544.74h2.63M180.31 544.74h2.63M117.22 543.47h2.63M127.74 542.2h2.63M175.06 542.2h2.63M96.19 540.94h5.26M109.33 540.94h2.63M161.91 540.94h2.63M90.93 539.67h2.63M125.11 539.67h2.63M146.14 539.67h5.26M185.57 539.67h2.63M106.71 538.41h2.63M127.74 538.41h5.26M143.51 538.41h5.26M172.43 538.41h2.63M177.68 538.41h2.63M117.22 537.14h2.63M159.28 537.14h2.63M180.31 537.14h2.63M88.3 535.87h2.63M101.45 535.87h2.63M138.25 535.87h2.63M156.65 535.87h2.63M172.43 535.87h2.63M185.57 535.87h2.63M106.71 534.61h5.26M119.85 534.61h2.63M146.14 534.61h2.63M159.28 534.61h2.63M164.54 534.61h2.63M172.43 534.61h2.63M185.57 534.61h2.63M59.39 533.34h5.26M127.74 533.34h2.63M132.99 533.34h2.63M175.06 533.34h2.63M182.94 533.34h2.63M85.67 532.07h2.63M135.62 532.07h2.63M140.88 532.07h2.63M167.17 532.07h2.63M59.39 530.81h2.63M75.16 530.81h2.63M125.11 530.81h2.63M143.51 530.81h2.63M169.8 530.81h5.26M177.68 530.81h2.63M185.57 530.81h2.63M69.9 529.54h2.63M90.93 529.54h2.63M98.82 529.54h2.63M111.96 529.54h2.63M117.22 529.54h2.63M122.48 529.54h5.26M135.62 529.54h2.63M146.14 529.54h2.63M151.4 529.54h2.63M54.13 528.28h2.63M93.56 528.28h2.63M138.25 528.28h2.63M143.51 528.28h2.63M148.77 528.28h5.26M85.67 527.01h2.63M90.93 527.01h2.63M104.08 527.01h2.63M111.96 527.01h5.26M146.14 527.01h2.63M151.4 527.01h2.63M159.28 527.01h2.63M172.43 527.01h10.52M59.39 525.74h2.63M83.05 525.74h2.63M96.19 525.74h2.63M104.08 525.74h2.63M111.96 525.74h7.89M127.74 525.74h2.63M132.99 525.74h2.63M138.25 525.74h5.26M159.28 525.74h5.26M54.13 524.48h2.63M88.3 524.48h2.63M104.08 524.48h2.63M119.85 524.48h5.26M127.74 524.48h2.63M146.14 524.48h2.63M172.43 524.48h2.63M54.13 523.21h5.26M80.42 523.21h2.63M88.3 523.21h2.63M98.82 523.21h2.63M109.33 523.21h2.63M114.59 523.21h5.26M127.74 523.21h2.63M140.88 523.21h2.63M148.77 523.21h2.63M154.03 523.21h2.63M169.8 523.21h5.26M182.94 523.21h2.63M59.39 521.94h2.63M80.42 521.94h2.63M88.3 521.94h2.63M96.19 521.94h2.63M104.08 521.94h2.63M111.96 521.94h2.63M117.22 521.94h5.26M130.37 521.94h2.63M140.88 521.94h2.63M146.14 521.94h2.63M154.03 521.94h5.26M167.17 521.94h5.26M59.39 520.68h2.63M104.08 520.68h2.63M109.33 520.68h5.26M127.74 520.68h2.63M146.14 520.68h2.63M154.03 520.68h2.63M159.28 520.68h5.26M167.17 520.68h5.26M182.94 520.68h5.26M67.27 519.41h5.26M83.05 519.41h2.63M88.3 519.41h2.63M96.19 519.41h2.63M111.96 519.41h2.63M127.74 519.41h2.63M151.4 519.41h10.52M164.54 519.41h2.63M185.57 519.41h2.63M67.27 518.15h2.63M96.19 518.15h2.63M101.45 518.15h2.63M109.33 518.15h5.26M125.11 518.15h2.63M132.99 518.15h2.63M159.28 518.15h2.63M69.9 516.88h2.63M83.05 516.88h5.26M90.93 516.88h2.63M119.85 516.88h2.63M127.74 516.88h2.63M135.62 516.88h2.63M164.54 516.88h2.63M59.39 515.61h2.63M67.27 515.61h2.63M75.16 515.61h10.52M88.3 515.61h5.26M117.22 515.61h5.26M125.11 515.61h2.63M135.62 515.61h2.63M148.77 515.61h5.26M161.91 515.61h10.52M185.57 515.61h2.63M56.76 514.35h2.63M64.64 514.35h2.63M77.79 514.35h2.63M83.05 514.35h2.63M93.56 514.35h5.26M117.22 514.35h2.63M135.62 514.35h2.63M154.03 514.35h2.63M175.06 514.35h2.63M90.93 513.08h2.63M96.19 513.08h2.63M122.48 513.08h2.63M127.74 513.08h5.26M138.25 513.08h5.26M164.54 513.08h2.63M169.8 513.08h5.26M62.02 511.81h5.26M69.9 511.81h2.63M109.33 511.81h5.26M117.22 511.81h2.63M122.48 511.81h2.63M138.25 511.81h2.63M151.4 511.81h2.63M167.17 511.81h2.63M175.06 511.81h2.63M62.02 510.55h2.63M69.9 510.55h2.63M75.16 510.55h2.63M80.42 510.55h5.26M98.82 510.55h2.63M122.48 510.55h2.63M127.74 510.55h5.26M143.51 510.55h2.63M156.65 510.55h2.63M169.8 510.55h2.63M175.06 510.55h2.63M180.31 510.55h2.63M75.16 509.28h5.26M88.3 509.28h2.63M96.19 509.28h2.63M104.08 509.28h2.63M125.11 509.28h5.26M146.14 509.28h2.63M156.65 509.28h2.63M172.43 509.28h2.63M72.53 508.02h5.26M85.67 508.02h2.63M122.48 508.02h2.63M127.74 508.02h2.63M132.99 508.02h5.26M148.77 508.02h2.63M169.8 508.02h2.63M77.79 506.75h2.63M85.67 506.75h2.63M111.96 506.75h2.63M125.11 506.75h2.63M156.65 506.75h2.63M172.43 506.75h2.63M182.94 506.75h2.63M67.27 505.48h2.63M77.79 505.48h2.63M83.05 505.48h2.63M90.93 505.48h13.14M111.96 505.48h2.63M146.14 505.48h2.63M54.13 504.22h2.63M104.08 504.22h2.63M114.59 504.22h2.63M119.85 504.22h2.63M125.11 504.22h5.26M148.77 504.22h2.63M172.43 504.22h2.63M182.94 504.22h2.63M59.39 502.95h2.63M77.79 502.95h2.63M93.56 502.95h2.63M117.22 502.95h2.63M122.48 502.95h2.63M127.74 502.95h2.63M135.62 502.95h5.26M180.31 502.95h2.63M64.64 501.68h7.89M77.79 501.68h2.63M93.56 501.68h5.26M106.71 501.68h2.63M119.85 501.68h2.63M132.99 501.68h2.63M138.25 501.68h2.63M148.77 501.68h5.26M169.8 501.68h5.26M72.53 500.42h2.63M111.96 500.42h7.89M122.48 500.42h2.63M130.37 500.42h2.63M138.25 500.42h7.89M151.4 500.42h2.63M161.91 500.42h2.63M185.57 500.42h2.63M88.3 499.15h5.26M101.45 499.15h2.63M106.71 499.15h7.89M125.11 499.15h2.63M156.65 499.15h2.63M167.17 499.15h2.63M64.64 497.89h2.63M96.19 497.89h2.63M101.45 497.89h2.63M127.74 497.89h2.63M154.03 497.89h2.63M161.91 497.89h2.63M172.43 497.89h2.63M62.02 496.62h2.63M67.27 496.62h2.63M88.3 496.62h2.63M93.56 496.62h2.63M98.82 496.62h2.63M111.96 496.62h5.26M132.99 496.62h2.63M154.03 496.62h2.63M169.8 496.62h2.63M62.02 495.35h2.63M75.16 495.35h2.63M83.05 495.35h5.26M96.19 495.35h5.26M111.96 495.35h2.63M125.11 495.35h2.63M138.25 495.35h2.63M156.65 495.35h10.52M169.8 495.35h2.63M180.31 495.35h2.63M54.13 494.09h2.63M93.56 494.09h7.89M109.33 494.09h2.63M114.59 494.09h2.63M125.11 494.09h5.26M135.62 494.09h2.63M172.43 494.09h2.63M180.31 494.09h2.63M104.08 492.82h5.26M119.85 492.82h7.89M148.77 492.82h2.63M159.28 492.82h2.63M177.68 492.82h2.63M182.94 492.82h2.63M56.76 491.55h5.26M148.77 491.55h2.63M161.91 491.55h2.63M182.94 491.55h2.63M67.27 490.29h2.63M80.42 490.29h2.63M93.56 490.29h7.89M104.08 490.29h2.63M135.62 490.29h2.63M146.14 490.29h2.63M159.28 490.29h5.26M85.67 489.02h2.63M90.93 489.02h2.63M122.48 489.02h5.26M177.68 489.02h2.63M64.64 487.76h2.63M77.79 487.76h2.63M98.82 487.76h2.63M119.85 487.76h5.26M140.88 487.76h2.63M151.4 487.76h2.63M161.91 487.76h5.26M75.16 486.49h2.63M85.67 486.49h7.89M109.33 486.49h5.26M130.37 486.49h2.63M138.25 486.49h2.63M143.51 486.49h2.63M164.54 486.49h2.63M169.8 486.49h2.63M177.68 486.49h2.63M185.57 486.49h2.63M56.76 485.22h2.63M101.45 485.22h2.63M106.71 485.22h2.63M125.11 485.22h2.63M132.99 485.22h5.26M143.51 485.22h2.63M151.4 485.22h2.63M156.65 485.22h2.63M72.53 483.96h2.63M77.79 483.96h2.63M83.05 483.96h2.63M93.56 483.96h2.63M104.08 483.96h2.63M111.96 483.96h2.63M122.48 483.96h5.26M138.25 483.96h2.63M143.51 483.96h2.63M159.28 483.96h2.63M177.68 483.96h2.63M62.02 482.69h2.63M72.53 482.69h2.63M77.79 482.69h2.63M114.59 482.69h2.63M132.99 482.69h2.63M177.68 482.69h2.63M72.53 481.42h2.63M98.82 481.42h2.63M106.71 481.42h2.63M119.85 481.42h2.63M140.88 481.42h2.63M177.68 481.42h2.63M88.3 480.16h2.63M93.56 480.16h2.63M104.08 480.16h2.63M114.59 480.16h5.26M122.48 480.16h2.63M143.51 480.16h2.63M154.03 480.16h2.63M167.17 480.16h2.63M180.31 480.16h2.63M80.42 478.89h2.63M96.19 478.89h2.63M117.22 478.89h2.63M130.37 478.89h5.26M138.25 478.89h2.63M172.43 478.89h2.63M59.39 477.63h5.26M75.16 477.63h5.26M93.56 477.63h13.14M111.96 477.63h2.63M117.22 477.63h5.26M125.11 477.63h2.63M185.57 477.63h2.63M64.64 476.36h2.63M101.45 476.36h7.89M130.37 476.36h2.63M143.51 476.36h2.63M154.03 476.36h2.63M172.43 476.36h2.63M185.57 476.36h2.63M64.64 475.09h2.63M75.16 475.09h2.63M83.05 475.09h5.26M101.45 475.09h2.63M106.71 475.09h2.63M119.85 475.09h2.63M130.37 475.09h2.63M140.88 475.09h2.63M146.14 475.09h2.63M161.91 475.09h2.63M172.43 475.09h2.63M64.64 473.83h2.63M69.9 473.83h2.63M93.56 473.83h2.63M109.33 473.83h2.63M130.37 473.83h2.63M180.31 473.83h2.63M69.9 472.56h2.63M77.79 472.56h2.63M101.45 472.56h2.63M111.96 472.56h2.63M117.22 472.56h5.26M140.88 472.56h2.63M148.77 472.56h2.63M156.65 472.56h2.63M54.13 471.29h5.26M90.93 471.29h10.52M114.59 471.29h2.63M119.85 471.29h2.63M125.11 471.29h2.63M59.39 470.03h2.63M101.45 470.03h2.63M106.71 470.03h2.63M111.96 470.03h2.63M119.85 470.03h2.63M127.74 470.03h2.63M135.62 470.03h2.63M161.91 470.03h2.63M182.94 470.03h2.63M54.13 468.76h5.26M83.05 468.76h2.63M109.33 468.76h5.26M127.74 468.76h2.63M132.99 468.76h2.63M140.88 468.76h2.63M167.17 468.76h5.26M185.57 468.76h2.63M56.76 467.5h2.63M62.02 467.5h2.63M67.27 467.5h2.63M80.42 467.5h2.63M85.67 467.5h7.89M101.45 467.5h2.63M106.71 467.5h2.63M111.96 467.5h2.63M119.85 467.5h2.63M125.11 467.5h5.26M143.51 467.5h2.63M151.4 467.5h2.63M177.68 467.5h2.63M59.39 466.23h2.63M75.16 466.23h2.63M101.45 466.23h2.63M106.71 466.23h2.63M138.25 466.23h7.89M161.91 466.23h2.63M175.06 466.23h2.63M180.31 466.23h2.63M54.13 464.96h2.63M59.39 464.96h2.63M72.53 464.96h2.63M77.79 464.96h2.63M85.67 464.96h2.63M96.19 464.96h5.26M119.85 464.96h2.63M127.74 464.96h2.63M161.91 464.96h2.63M169.8 464.96h5.26M180.31 464.96h2.63M80.42 463.7h5.26M88.3 463.7h2.63M93.56 463.7h2.63M104.08 463.7h2.63M119.85 463.7h2.63M143.51 463.7h2.63M161.91 463.7h2.63M180.31 463.7h5.26M64.64 462.43h2.63M80.42 462.43h2.63M96.19 462.43h5.26M104.08 462.43h2.63M119.85 462.43h2.63M125.11 462.43h2.63M130.37 462.43h2.63M146.14 462.43h2.63M151.4 462.43h2.63M175.06 462.43h2.63M54.13 461.16h2.63M59.39 461.16h2.63M64.64 461.16h2.63M88.3 461.16h2.63M109.33 461.16h2.63M125.11 461.16h2.63M130.37 461.16h2.63M143.51 461.16h5.26M156.65 461.16h2.63M180.31 461.16h2.63M90.93 459.9h2.63M98.82 459.9h2.63M106.71 459.9h2.63M111.96 459.9h2.63M122.48 459.9h2.63M154.03 459.9h10.52M167.17 459.9h2.63M177.68 459.9h2.63M59.39 458.63h2.63M67.27 458.63h2.63M75.16 458.63h2.63M83.05 458.63h2.63M101.45 458.63h2.63M106.71 458.63h2.63M130.37 458.63h5.26M138.25 458.63h2.63M151.4 458.63h2.63M161.91 458.63h5.26M175.06 458.63h2.63M64.64 457.37h2.63M88.3 457.37h2.63M93.56 457.37h2.63M106.71 457.37h2.63M111.96 457.37h2.63M119.85 457.37h2.63M127.74 457.37h2.63M140.88 457.37h2.63M167.17 457.37h5.26M180.31 457.37h2.63M185.57 457.37h2.63M64.64 456.1h2.63M106.71 456.1h2.63M119.85 456.1h5.26M127.74 456.1h2.63M64.64 454.83h2.63M98.82 454.83h5.26M111.96 454.83h2.63M138.25 454.83h2.63M146.14 454.83h2.63M154.03 454.83h2.63M167.17 454.83h2.63M172.43 454.83h10.52M185.57 454.83h2.63"/>
<path stroke="#22ff00" d="M154.03 546h2.63M125.11 542.2h2.63M143.51 540.94h2.63M156.65 538.41h2.63M90.93 537.14h2.63M182.94 537.14h2.63M127.74 535.87h2.63M159.28 535.87h2.63M125.11 534.61h2.63M130.37 534.61h5.26M140.88 534.61h2.63M146.14 533.34h2.63M185.57 533.34h2.63M146.14 532.07h2.63M159.28 532.07h2.63M182.94 532.07h2.63M93.56 530.81h2.63M119.85 530.81h2.63M135.62 530.81h2.63M146.14 530.81h2.63M138.25 529.54h2.63M161.91 529.54h2.63M172.43 529.54h2.63M85.67 528.28h2.63M127.74 528.28h2.63M132.99 528.28h2.63M154.03 528.28h2.63M167.17 528.28h2.63M185.57 528.28h2.63M125.11 527.01h2.63M130.37 527.01h2.63M140.88 527.01h2.63M148.77 527.01h2.63M143.51 525.74h2.63M154.03 525.74h2.63M169.8 525.74h2.63M175.06 525.74h2.63M85.67 524.48h2.63M138.25 524.48h2.63M143.51 524.48h2.63M148.77 524.48h2.63M164.54 524.48h2.63M177.68 524.48h2.63M182.94 524.48h5.26M96.19 523.21h2.63M119.85 523.21h2.63M130.37 523.21h2.63M138.25 523.21h2.63M156.65 523.21h2.63M161.91 523.21h2.63M177.68 523.21h2.63M185.57 523.21h2.63M69.9 521.94h2.63M135.62 521.94h2.63M143.51 521.94h2.63M151.4 521.94h2.63M159.28 521.94h5.26M185.57 521.94h2.63M119.85 520.68h2.63M140.88 520.68h2.63M151.4 520.68h2.63M177.68 520.68h2.63M114.59 519.41h2.63M119.85 519.41h2.63M125.11 519.41h2.63M130.37 519.41h2.63M138.25 519.41h2.63M167.17 519.41h5.26M175.06 519.41h2.63M106.71 518.15h2.63M119.85 518.15h2.63M130.37 518.15h2.63M140.88 518.15h2.63M148.77 518.15h2.63M154.03 518.15h5.26M164.54 518.15h2.63M64.64 516.88h2.63M75.16 516.88h2.63M106.71 516.88h2.63M138.25 516.88h2.63M151.4 516.88h2.63M156.65 516.88h5.26M180.31 516.88h2.63M96.19 515.61h2.63M127.74 515.61h2.63M140.88 515.61h2.63M156.65 515.61h5.26M175.06 515.61h2.63M180.31 515.61h5.26M140.88 514.35h5.26M151.4 514.35h2.63M54.13 513.08h2.63M88.3 513.08h2.63M101.45 513.08h5.26M117.22 513.08h2.63M143.51 513.08h5.26M154.03 513.08h2.63M182.94 513.08h2.63M125.11 511.81h2.63M132.99 511.81h2.63M143.51 511.81h2.63M156.65 511.81h5.26M172.43 511.81h2.63M180.31 511.81h2.63M185.57 511.81h2.63M88.3 510.55h5.26M101.45 510.55h2.63M106.71 510.55h2.63M111.96 510.55h2.63M119.85 510.55h2.63M132.99 510.55h2.63M151.4 510.55h2.63M167.17 510.55h2.63M67.27 509.28h2.63M85.67 509.28h2.63M98.82 509.28h2.63M111.96 509.28h2.63M117.22 509.28h5.26M132.99 509.28h2.63M138.25 509.28h2.63M159.28 509.28h2.63M180.31 509.28h7.89M83.05 508.02h2.63M88.3 508.02h2.63M101.45 508.02h2.63M117.22 508.02h2.63M130.37 508.02h2.63M138.25 508.02h5.26M154.03 508.02h2.63M175.06 508.02h10.52M90.93 506.75h5.26M109.33 506.75h2.63M135.62 506.75h2.63M148.77 506.75h2.63M164.54 506.75h2.63M175.06 506.75h2.63M88.3 505.48h2.63M109.33 505.48h2.63M117.22 505.48h7.89M130.37 505.48h2.63M138.25 505.48h2.63M143.51 505.48h2.63M148.77 505.48h2.63M167.17 505.48h2.63M180.31 505.48h2.63M185.57 505.48h2.63M62.02 504.22h2.63M80.42 504.22h2.63M111.96 504.22h2.63M132.99 504.22h2.63M140.88 504.22h7.89M151.4 504.22h2.63M156.65 504.22h2.63M164.54 504.22h2.63M185.57 504.22h2.63M130.37 502.95h2.63M143.51 502.95h2.63M148.77 502.95h2.63M156.65 502.95h2.63M164.54 502.95h7.89M177.68 502.95h2.63M75.16 501.68h2.63M101.45 501.68h2.63M127.74 501.68h2.63M161.91 501.68h2.63M167.17 501.68h2.63M180.31 501.68h5.26M67.27 500.42h2.63M88.3 500.42h2.63M119.85 500.42h2.63M148.77 500.42h2.63M164.54 500.42h2.63M54.13 499.15h2.63M62.02 499.15h2.63M77.79 499.15h2.63M104.08 499.15h2.63M132.99 499.15h5.26M146.14 499.15h2.63M154.03 499.15h2.63M159.28 499.15h2.63M175.06 499.15h2.63M180.31 499.15h5.26M59.39 497.89h2.63M77.79 497.89h2.63M109.33 497.89h2.63M143.51 497.89h5.26M151.4 497.89h2.63M164.54 497.89h2.63M182.94 497.89h2.63M122.48 496.62h2.63M127.74 496.62h5.26M143.51 496.62h5.26M151.4 496.62h2.63M177.68 496.62h2.63M109.33 495.35h2.63M146.14 495.35h5.26M88.3 494.09h2.63M106.71 494.09h2.63M140.88 494.09h5.26M151.4 494.09h7.89M164.54 494.09h2.63M85.67 492.82h2.63M114.59 492.82h2.63M127.74 492.82h13.14M146.14 492.82h2.63M185.57 492.82h2.63M80.42 491.55h2.63M117.22 491.55h5.26M125.11 491.55h5.26M140.88 491.55h5.26M154.03 491.55h2.63M169.8 491.55h2.63M69.9 490.29h5.26M117.22 490.29h5.26M130.37 490.29h2.63M140.88 490.29h5.26M154.03 490.29h5.26M167.17 490.29h2.63M175.06 490.29h7.89M185.57 490.29h2.63M88.3 489.02h2.63M117.22 489.02h2.63M127.74 489.02h2.63M132.99 489.02h2.63M138.25 489.02h2.63M159.28 489.02h2.63M169.8 489.02h7.89M180.31 489.02h2.63M185.57 489.02h2.63M67.27 487.76h2.63M83.05 487.76h2.63M88.3 487.76h2.63M93.56 487.76h2.63M106.71 487.76h2.63M114.59 487.76h2.63M138.25 487.76h2.63M156.65 487.76h2.63M169.8 487.76h2.63M175.06 487.76h5.26M54.13 486.49h5.26M93.56 486.49h2.63M69.9 485.22h2.63M98.82 485.22h2.63M114.59 485.22h2.63M148.77 485.22h2.63M154.03 485.22h2.63M175.06 485.22h2.63M180.31 485.22h2.63M185.57 485.22h2.63M59.39 483.96h2.63M80.42 483.96h2.63M88.3 483.96h2.63M132.99 483.96h2.63M140.88 483.96h2.63M161.91 483.96h5.26M169.8 483.96h7.89M180.31 483.96h7.89M106.71 482.69h2.63M119.85 482.69h2.63M148.77 482.69h2.63M159.28 482.69h2.63M175.06 482.69h2.63M180.31 482.69h5.26M130.37 481.42h7.89M143.51 481.42h2.63M154.03 481.42h2.63M167.17 481.42h2.63M185.57 481.42h2.63M83.05 480.16h2.63M98.82 480.16h2.63M111.96 480.16h2.63M125.11 480.16h5.26M159.28 480.16h2.63M164.54 480.16h2.63M111.96 478.89h2.63M122.48 478.89h2.63M127.74 478.89h2.63M159.28 478.89h5.26M169.8 478.89h2.63M175.06 478.89h2.63M67.27 477.63h2.63M83.05 477.63h2.63M138.25 477.63h5.26M148.77 477.63h2.63M177.68 477.63h7.89M59.39 476.36h2.63M98.82 476.36h2.63M114.59 476.36h5.26M151.4 476.36h2.63M167.17 476.36h5.26M67.27 475.09h2.63M114.59 475.09h2.63M125.11 475.09h2.63M154.03 475.09h2.63M67.27 473.83h2.63M85.67 473.83h2.63M98.82 473.83h2.63M122.48 473.83h7.89M138.25 473.83h2.63M143.51 473.83h5.26M151.4 473.83h5.26M161.91 473.83h2.63M167.17 473.83h2.63M185.57 473.83h2.63M83.05 472.56h2.63M104.08 472.56h5.26M127.74 472.56h5.26M143.51 472.56h2.63M154.03 472.56h2.63M161.91 472.56h2.63M175.06 472.56h5.26M67.27 471.29h2.63M85.67 471.29h2.63M109.33 471.29h2.63M127.74 471.29h2.63M132.99 471.29h7.89M148.77 471.29h2.63M154.03 471.29h5.26M167.17 471.29h2.63M175.06 471.29h2.63M185.57 471.29h2.63M88.3 470.03h2.63M96.19 470.03h5.26M132.99 470.03h2.63M143.51 470.03h2.63M154.03 470.03h7.89M164.54 470.03h2.63M175.06 470.03h2.63M185.57 470.03h2.63M75.16 468.76h2.63M104.08 468.76h2.63M122.48 468.76h2.63M130.37 468.76h2.63M151.4 468.76h2.63M164.54 468.76h2.63M172.43 468.76h2.63M83.05 467.5h2.63M93.56 467.5h5.26M117.22 467.5h2.63M135.62 467.5h5.26M159.28 467.5h18.4M182.94 467.5h2.63M88.3 466.23h2.63M114.59 466.23h2.63M119.85 466.23h2.63M127.74 466.23h2.63M132.99 466.23h2.63M146.14 466.23h2.63M151.4 466.23h2.63M75.16 464.96h2.63M114.59 464.96h2.63M132.99 464.96h2.63M140.88 464.96h2.63M156.65 464.96h2.63M182.94 464.96h5.26M69.9 463.7h2.63M75.16 463.7h2.63M101.45 463.7h2.63M109.33 463.7h2.63M114.59 463.7h2.63M125.11 463.7h7.89M140.88 463.7h2.63M146.14 463.7h2.63M151.4 463.7h5.26M164.54 463.7h2.63M172.43 463.7h2.63M83.05 462.43h2.63M93.56 462.43h2.63M122.48 462.43h2.63M132.99 462.43h2.63M138.25 462.43h2.63M143.51 462.43h2.63M161.91 462.43h2.63M169.8 462.43h2.63M182.94 462.43h2.63M83.05 461.16h5.26M119.85 461.16h2.63M135.62 461.16h2.63M159.28 461.16h5.26M167.17 461.16h2.63M172.43 461.16h5.26M59.39 459.9h2.63M93.56 459.9h2.63M146.14 459.9h2.63M172.43 459.9h2.63M90.93 458.63h2.63M125.11 458.63h2.63M140.88 458.63h2.63M148.77 458.63h2.63M156.65 458.63h2.63M167.17 458.63h2.63M172.43 458.63h2.63M180.31 458.63h2.63M185.57 458.63h2.63M62.02 457.37h2.63M69.9 457.37h2.63M132.99 457.37h2.63M148.77 457.37h5.26M156.65 457.37h2.63M161.91 457.37h2.63M172.43 457.37h5.26M88.3 456.1h2.63M98.82 456.1h2.63M132.99 456.1h2.63M151.4 456.1h2.63M159.28 456.1h2.63M167.17 456.1h2.63M83.05 454.83h2.63M119.85 454.83h5.26M132.99 454.83h5.26M169.8 454.83h2.63"/>
<path stroke="#99ff00" d="M148.77 538.41h2.63M114.59 535.87h2.63M132.99 532.07h2.63M62.02 530.81h2.63M90.93 530.81h2.63M154.03 529.54h2.63M177.68 529.54h2.63M180.31 528.28h2.63M93.56 527.01h2.63M93.56 525.74h2.63M130.37 525.74h2.63M177.68 525.74h2.63M182.94 525.74h2.63M117.22 524.48h2.63M130.37 524.48h2.63M151.4 524.48h2.63M156.65 524.48h5.26M180.31 524.48h2.63M135.62 523.21h2.63M159.28 523.21h2.63M164.54 523.21h2.63M175.06 523.21h2.63M109.33 521.94h2.63M122.48 521.94h2.63M164.54 521.94h2.63M180.31 521.94h2.63M98.82 520.68h2.63M125.11 520.68h2.63M135.62 520.68h5.26M175.06 520.68h2.63M180.31 520.68h2.63M56.76 519.41h2.63M104.08 519.41h2.63M109.33 519.41h2.63M161.91 519.41h2.63M177.68 519.41h5.26M122.48 518.15h2.63M127.74 518.15h2.63M151.4 518.15h2.63M161.91 518.15h2.63M169.8 518.15h2.63M175.06 518.15h5.26M98.82 516.88h2.63M140.88 516.88h2.63M169.8 516.88h2.63M177.68 516.88h2.63M93.56 515.61h2.63M132.99 515.61h2.63M138.25 515.61h2.63M172.43 515.61h2.63M130.37 514.35h2.63M138.25 514.35h2.63M156.65 514.35h5.26M172.43 514.35h2.63M180.31 514.35h2.63M185.57 514.35h2.63M125.11 513.08h2.63M148.77 513.08h2.63M156.65 513.08h2.63M161.91 513.08h2.63M175.06 513.08h2.63M185.57 513.08h2.63M104.08 511.81h2.63M127.74 511.81h2.63M135.62 511.81h2.63M146.14 511.81h2.63M164.54 511.81h2.63M182.94 511.81h2.63M96.19 510.55h2.63M117.22 510.55h2.63M138.25 510.55h2.63M154.03 510.55h2.63M161.91 510.55h2.63M182.94 510.55h5.26M130.37 509.28h2.63M135.62 509.28h2.63M161.91 509.28h2.63M167.17 509.28h2.63M125.11 508.02h2.63M143.51 508.02h5.26M151.4 508.02h2.63M161.91 508.02h2.63M167.17 508.02h2.63M130.37 506.75h2.63M140.88 506.75h2.63M154.03 506.75h2.63M161.91 506.75h2.63M177.68 506.75h2.63M185.57 506.75h2.63M54.13 505.48h2.63M127.74 505.48h2.63M151.4 505.48h2.63M156.65 505.48h2.63M169.8 505.48h2.63M175.06 505.48h5.26M64.64 504.22h2.63M93.56 504.22h2.63M101.45 504.22h2.63M154.03 504.22h2.63M167.17 504.22h2.63M175.06 504.22h2.63M96.19 502.95h2.63M125.11 502.95h2.63M146.14 502.95h2.63M151.4 502.95h2.63M175.06 502.95h2.63M185.57 502.95h2.63M122.48 501.68h2.63M143.51 501.68h2.63M164.54 501.68h2.63M177.68 501.68h2.63M185.57 501.68h2.63M125.11 500.42h2.63M132.99 500.42h2.63M154.03 500.42h2.63M172.43 500.42h2.63M180.31 500.42h5.26M72.53 499.15h2.63M130.37 499.15h2.63M143.51 499.15h2.63M148.77 499.15h2.63M164.54 499.15h2.63M169.8 499.15h5.26M177.68 499.15h2.63M185.57 499.15h2.63M56.76 497.89h2.63M130.37 497.89h2.63M135.62 497.89h5.26M159.28 497.89h2.63M167.17 497.89h5.26M177.68 497.89h2.63M185.57 497.89h2.63M72.53 496.62h2.63M90.93 496.62h2.63M119.85 496.62h2.63M138.25 496.62h2.63M175.06 496.62h2.63M132.99 495.35h2.63M167.17 495.35h2.63M172.43 495.35h5.26M185.57 495.35h2.63M138.25 494.09h2.63M146.14 494.09h2.63M159.28 494.09h5.26M167.17 494.09h2.63M177.68 494.09h2.63M185.57 494.09h2.63M151.4 492.82h2.63M156.65 492.82h2.63M161.91 492.82h7.89M175.06 492.82h2.63M83.05 491.55h2.63M122.48 491.55h2.63M130.37 491.55h5.26M138.25 491.55h2.63M151.4 491.55h2.63M159.28 491.55h2.63M164.54 491.55h2.63M172.43 491.55h5.26M109.33 490.29h5.26M125.11 490.29h2.63M132.99 490.29h2.63M138.25 490.29h2.63M164.54 490.29h2.63M80.42 489.02h2.63M146.14 489.02h5.26M161.91 489.02h2.63M167.17 489.02h2.63M182.94 489.02h2.63M117.22 487.76h2.63M125.11 487.76h2.63M182.94 487.76h2.63M127.74 486.49h2.63M135.62 486.49h2.63M151.4 486.49h2.63M159.28 486.49h5.26M175.06 486.49h2.63M130.37 485.22h2.63M138.25 485.22h5.26M161.91 485.22h5.26M182.94 485.22h2.63M127.74 483.96h2.63M146.14 483.96h2.63M167.17 483.96h2.63M93.56 482.69h2.63M109.33 482.69h2.63M125.11 482.69h2.63M135.62 482.69h5.26M154.03 482.69h2.63M161.91 482.69h2.63M167.17 482.69h2.63M83.05 481.42h2.63M96.19 481.42h2.63M122.48 481.42h5.26M138.25 481.42h2.63M151.4 481.42h2.63M156.65 481.42h5.26M182.94 481.42h2.63M106.71 480.16h2.63M132.99 480.16h2.63M138.25 480.16h2.63M156.65 480.16h2.63M161.91 480.16h2.63M172.43 480.16h5.26M56.76 478.89h2.63M151.4 478.89h5.26M127.74 477.63h2.63M143.51 477.63h2.63M159.28 477.63h2.63M164.54 477.63h2.63M169.8 477.63h2.63M54.13 476.36h2.63M85.67 476.36h2.63M93.56 476.36h5.26M119.85 476.36h2.63M125.11 476.36h5.26M132.99 476.36h5.26M159.28 476.36h5.26M177.68 476.36h2.63M138.25 475.09h2.63M143.51 475.09h2.63M164.54 475.09h2.63M169.8 475.09h2.63M175.06 475.09h2.63M182.94 475.09h2.63M88.3 473.83h2.63M119.85 473.83h2.63M140.88 473.83h2.63M169.8 473.83h7.89M85.67 472.56h2.63M96.19 472.56h2.63M135.62 472.56h2.63M146.14 472.56h2.63M104.08 471.29h2.63M159.28 471.29h7.89M169.8 471.29h5.26M180.31 471.29h5.26M148.77 470.03h2.63M169.8 470.03h2.63M85.67 468.76h2.63M119.85 468.76h2.63M138.25 468.76h2.63M175.06 468.76h5.26M114.59 467.5h2.63M156.65 467.5h2.63M96.19 466.23h2.63M104.08 466.23h2.63M109.33 466.23h2.63M148.77 466.23h2.63M164.54 466.23h5.26M172.43 466.23h2.63M177.68 466.23h2.63M182.94 466.23h2.63M93.56 464.96h2.63M109.33 464.96h2.63M143.51 464.96h2.63M151.4 464.96h5.26M159.28 464.96h2.63M90.93 463.7h2.63M138.25 463.7h2.63M148.77 463.7h2.63M167.17 463.7h2.63M175.06 463.7h2.63M114.59 462.43h2.63M156.65 462.43h2.63M172.43 462.43h2.63M177.68 462.43h2.63M185.57 462.43h2.63M93.56 461.16h2.63M132.99 461.16h2.63M164.54 461.16h2.63M114.59 459.9h2.63M140.88 459.9h5.26M164.54 459.9h2.63M64.64 458.63h2.63M177.68 458.63h2.63M104.08 457.37h2.63M138.25 457.37h2.63M146.14 457.37h2.63M159.28 457.37h2.63M164.54 457.37h2.63M177.68 457.37h2.63M125.11 456.1h2.63M154.03 456.1h2.63M164.54 456.1h2.63M172.43 456.1h2.63M185.57 456.1h2.63M127.74 454.83h2.63M164.54 454.83h2.63M182.94 454.83h2.63"/>
<path stroke="#e0ff00" d="M148.77 525.74h2.63M185.57 525.74h2.63M143.51 523.21h2.63M132.99 521.94h2.63M156.65 520.68h2.63M172.43 520.68h2.63M140.88 519.41h2.63M182.94 519.41h2.63M146.14 518.15h2.63M172.43 516.88h2.63M182.94 516.88h5.26M154.03 515.61h2.63M104.08 514.35h2.63M132.99 514.35h2.63M146.14 514.35h2.63M161.91 514.35h2.63M167.17 514.35h5.26M177.68 514.35h2.63M151.4 513.08h2.63M167.17 513.08h2.63M177.68 513.08h5.26M140.88 510.55h2.63M148.77 510.55h2.63M177.68 510.55h2.63M109.33 509.28h2.63M148.77 509.28h7.89M159.28 508.02h2.63M185.57 508.02h2.63M119.85 506.75h2.63M138.25 506.75h2.63M143.51 506.75h2.63M151.4 506.75h2.63M159.28 506.75h2.63M180.31 506.75h2.63M132.99 505.48h5.26M154.03 505.48h2.63M161.91 505.48h5.26M172.43 505.48h2.63M182.94 505.48h2.63M135.62 504.22h2.63M161.91 504.22h2.63M169.8 504.22h2.63M180.31 504.22h2.63M132.99 502.95h2.63M159.28 502.95h2.63M156.65 501.68h2.63M109.33 500.42h2.63M159.28 500.42h2.63M167.17 500.42h5.26M175.06 500.42h5.26M127.74 499.15h2.63M138.25 499.15h2.63M151.4 499.15h2.63M111.96 497.89h2.63M148.77 497.89h2.63M175.06 497.89h2.63M156.65 496.62h13.14M182.94 496.62h2.63M106.71 495.35h2.63M114.59 495.35h2.63M130.37 495.35h2.63M177.68 495.35h2.63M182.94 495.35h2.63M175.06 494.09h2.63M96.19 492.82h2.63M169.8 492.82h2.63M180.31 492.82h2.63M177.68 491.55h2.63M127.74 490.29h2.63M151.4 490.29h2.63M164.54 489.02h2.63M143.51 487.76h5.26M180.31 487.76h2.63M185.57 487.76h2.63M117.22 486.49h2.63M148.77 486.49h2.63M156.65 486.49h2.63M180.31 486.49h5.26M117.22 485.22h2.63M167.17 485.22h2.63M130.37 483.96h2.63M151.4 483.96h2.63M130.37 482.69h2.63M146.14 482.69h2.63M164.54 482.69h2.63M169.8 482.69h2.63M185.57 482.69h2.63M101.45 481.42h2.63M114.59 481.42h2.63M146.14 481.42h2.63M161.91 481.42h2.63M175.06 481.42h2.63M140.88 480.16h2.63M148.77 480.16h5.26M185.57 480.16h2.63M164.54 478.89h5.26M182.94 478.89h5.26M106.71 477.63h2.63M130.37 477.63h5.26M167.17 477.63h2.63M175.06 477.63h2.63M138.25 476.36h2.63M156.65 476.36h2.63M180.31 476.36h5.26M104.08 475.09h2.63M132.99 475.09h5.26M148.77 475.09h5.26M167.17 475.09h2.63M159.28 473.83h2.63M80.42 472.56h2.63M132.99 472.56h2.63M159.28 472.56h2.63M164.54 472.56h2.63M169.8 472.56h2.63M180.31 472.56h7.89M151.4 471.29h2.63M146.14 470.03h2.63M151.4 470.03h2.63M177.68 470.03h2.63M180.31 468.76h5.26M154.03 467.5h2.63M125.11 466.23h2.63M169.8 466.23h2.63M146.14 464.96h2.63M109.33 462.43h2.63M159.28 462.43h2.63M167.17 462.43h2.63M138.25 461.16h2.63M151.4 461.16h5.26M101.45 459.9h2.63M148.77 459.9h2.63M169.8 459.9h2.63M135.62 458.63h2.63M182.94 457.37h2.63M143.51 456.1h2.63"/>
<path stroke="#ffee00" d="M172.43 521.94h2.63M172.43 519.41h2.63M185.57 518.15h2.63M175.06 516.88h2.63M125.11 514.35h2.63M177.68 509.28h2.63M146.14 506.75h2.63M159.28 505.48h2.63M140.88 499.15h2.63M90.93 497.89h2.63M135.62 496.62h2.63M140.88 496.62h2.63M180.31 496.62h2.63M135.62 495.35h2.63M148.77 494.09h2.63M182.94 494.09h2.63M140.88 492.82h2.63M156.65 491.55h2.63M167.17 491.55h2.63M172.43 490.29h2.63M182.94 490.29h2.63M143.51 489.02h2.63M132.99 487.76h2.63M148.77 487.76h2.63M154.03 487.76h2.63M146.14 486.49h2.63M154.03 486.49h2.63M167.17 486.49h2.63M154.03 483.96h5.26M156.65 482.69h2.63M182.94 480.16h2.63M148.77 478.89h2.63M156.65 477.63h2.63M161.91 477.63h2.63M164.54 476.36h2.63M180.31 475.09h2.63M185.57 475.09h2.63M114.59 472.56h2.63M172.43 472.56h2.63M177.68 471.29h2.63M85.67 470.03h2.63M140.88 470.03h2.63M172.43 470.03h2.63M156.65 468.76h2.63M185.57 467.5h2.63M135.62 464.96h2.63M167.17 464.96h2.63"/>
<path stroke="#ffa700" d="M167.17 518.15h2.63M180.31 518.15h5.26M111.96 516.88h2.63M175.06 509.28h2.63M146.14 491.55h2.63M156.65 489.02h2.63M167.17 487.76h2.63M172.43 486.49h2.63M172.43 485.22h2.63M148.77 481.42h2.63M172.43 481.42h2.63M146.14 478.89h2.63M154.03 477.63h2.63M175.06 476.36h2.63M182.94 473.83h2.63M130.37 471.29h2.63M146.14 468.76h2.63"/>
<path stroke="#ff3000" d="M177.68 485.22h2.63M172.43 477.63h2.63M177.68 475.09h2.63"/>
</g>
<path d="M57.06 454.2V555.5M59.69 454.2V555.5M62.32 454.2V555.5M64.94 454.2V555.5M70.2 454.2V555.5M72.83 454.2V555.5M75.46 454.2V555.5M78.09 454.2V555.5M83.35 454.2V555.5M85.97 454.2V555.5M88.6 454.2V555.5M91.23 454.2V555.5M96.49 454.2V555.5M99.12 454.2V555.5M101.75 454.2V555.5M104.38 454.2V555.5M109.63 454.2V555.5M112.26 454.2V555.5M114.89 454.2V555.5M117.52 454.2V555.5M122.78 454.2V555.5M125.41 454.2V555.5M128.04 454.2V555.5M130.67 454.2V555.5M135.92 454.2V555.5M138.55 454.2V555.5M141.18 454.2V555.5M143.81 454.2V555.5M149.07 454.2V555.5M151.7 454.2V555.5M154.33 454.2V555.5M156.95 454.2V555.5M162.21 454.2V555.5M164.84 454.2V555.5M167.47 454.2V555.5M170.1 454.2V555.5M175.36 454.2V555.5M177.98 454.2V555.5M180.61 454.2V555.5M183.24 454.2V555.5M51.5 455.2H188.2M51.5 459.75H188.2M51.5 464.3H188.2M51.5 468.85H188.2M51.5 473.4H188.2M51.5 477.95H188.2M51.5 482.5H188.2M51.5 487.05H188.2M51.5 491.6H188.2M51.5 496.15H188.2M51.5 500.7H188.2M51.5 505.25H188.2M51.5 509.8H188.2M51.5 514.35H188.2M51.5 518.9H188.2M51.5 523.45H188.2M51.5 528H188.2M51.5 532.55H188.2M51.5 537.1H188.2M51.5 541.65H188.2M51.5 546.2H188.2M51.5 550.75H188.2M51.5 555.3H188.2" stroke="#fff" stroke-opacity="0.18" stroke-width="1.3" fill="none"/>
<path d="M51.5 454.2H188.2V555.5" stroke="#400" stroke-opacity="0.55" stroke-width="1" fill="none"/>
<path d="M51.5 453.7V555.5H188.7" stroke="#000" stroke-width="1.15" fill="none"/>
<path d="M51.5 555.5v-3.3M56.76 555.5v-1.8M62.02 555.5v-1.8M67.27 555.5v-1.8M72.53 555.5v-1.8M77.79 555.5v-3.3M83.05 555.5v-1.8M88.3 555.5v-1.8M93.56 555.5v-1.8M98.82 555.5v-1.8M104.08 555.5v-3.3M109.33 555.5v-1.8M114.59 555.5v-1.8M119.85 555.5v-1.8M125.11 555.5v-1.8M130.37 555.5v-3.3M135.62 555.5v-1.8M140.88 555.5v-1.8M146.14 555.5v-1.8M151.4 555.5v-1.8M156.65 555.5v-3.3M161.91 555.5v-1.8M167.17 555.5v-1.8M172.43 555.5v-1.8M177.68 555.5v-1.8M182.94 555.5v-3.3M188.2 555.5v-1.8" stroke="#000" stroke-width="1" fill="none"/>
<text transform="translate(51.2 559.9) scale(1.25 1)" class="t" text-anchor="middle">0</text>
<text transform="translate(77.49 559.9) scale(1.25 1)" class="t" text-anchor="middle">10</text>
<text transform="translate(103.78 559.9) scale(1.25 1)" class="t" text-anchor="middle">20</text>
<text transform="translate(130.07 559.9) scale(1.25 1)" class="t" text-anchor="middle">30</text>
<text transform="translate(156.35 559.9) scale(1.25 1)" class="t" text-anchor="middle">40</text>
<text transform="translate(182.64 559.9) scale(1.25 1)" class="t" text-anchor="middle">50</text>
<path d="M51.5 555.5h4.2M51.5 552.97h2.2M51.5 550.43h2.2M51.5 547.9h2.2M51.5 545.37h2.2M51.5 542.84h4.2M51.5 540.3h2.2M51.5 537.77h2.2M51.5 535.24h2.2M51.5 532.71h2.2M51.5 530.17h4.2M51.5 527.64h2.2M51.5 525.11h2.2M51.5 522.58h2.2M51.5 520.04h2.2M51.5 517.51h4.2M51.5 514.98h2.2M51.5 512.45h2.2M51.5 509.91h2.2M51.5 507.38h2.2M51.5 504.85h4.2M51.5 502.32h2.2M51.5 499.78h2.2M51.5 497.25h2.2M51.5 494.72h2.2M51.5 492.19h4.2M51.5 489.65h2.2M51.5 487.12h2.2M51.5 484.59h2.2M51.5 482.06h2.2M51.5 479.52h4.2M51.5 476.99h2.2M51.5 474.46h2.2M51.5 471.93h2.2M51.5 469.39h2.2M51.5 466.86h4.2M51.5 464.33h2.2M51.5 461.8h2.2M51.5 459.26h2.2M51.5 456.73h2.2M51.5 454.2h4.2" stroke="#000" stroke-width="1" fill="none"/>
<text transform="translate(50.5 556.1) scale(1.25 1)" class="t" text-anchor="end">0</text>
<text transform="translate(50.5 543.44) scale(1.25 1)" class="t" text-anchor="end">10</text>
<text transform="translate(50.5 530.77) scale(1.25 1)" class="t" text-anchor="end">20</text>
<text transform="translate(50.5 518.11) scale(1.25 1)" class="t" text-anchor="end">30</text>
<text transform="translate(50.5 505.45) scale(1.25 1)" class="t" text-anchor="end">40</text>
<text transform="translate(50.5 492.79) scale(1.25 1)" class="t" text-anchor="end">50</text>
<text transform="translate(50.5 480.12) scale(1.25 1)" class="t" text-anchor="end">60</text>
<text transform="translate(50.5 467.46) scale(1.25 1)" class="t" text-anchor="end">70</text>
<text transform="translate(50.5 454.8) scale(1.25 1)" class="t" text-anchor="end">80</text>
<rect x="189" y="550.43" width="7.3" height="5.22" fill="#6300ff"/>
<rect x="189" y="545.37" width="7.3" height="5.22" fill="#3300ff"/>
<rect x="189" y="540.3" width="7.3" height="5.22" fill="#0014ff"/>
<rect x="189" y="535.24" width="7.3" height="5.22" fill="#0044ff"/>
<rect x="189" y="530.17" width="7.3" height="5.22" fill="#008bff"/>
<rect x="189" y="525.11" width="7.3" height="5.22" fill="#00bbff"/>
<rect x="189" y="520.04" width="7.3" height="5.22" fill="#00fffc"/>
<rect x="189" y="514.98" width="7.3" height="5.22" fill="#00ffcc"/>
<rect x="189" y="509.92" width="7.3" height="5.22" fill="#00ff85"/>
<rect x="189" y="504.85" width="7.3" height="5.22" fill="#00ff55"/>
<rect x="189" y="499.78" width="7.3" height="5.22" fill="#00ff0e"/>
<rect x="189" y="494.72" width="7.3" height="5.22" fill="#22ff00"/>
<rect x="189" y="489.65" width="7.3" height="5.22" fill="#69ff00"/>
<rect x="189" y="484.59" width="7.3" height="5.22" fill="#99ff00"/>
<rect x="189" y="479.52" width="7.3" height="5.22" fill="#e0ff00"/>
<rect x="189" y="474.46" width="7.3" height="5.22" fill="#ffee00"/>
<rect x="189" y="469.39" width="7.3" height="5.22" fill="#ffa700"/>
<rect x="189" y="464.33" width="7.3" height="5.22" fill="#ff7700"/>
<rect x="189" y="459.26" width="7.3" height="5.22" fill="#ff3000"/>
<rect x="189" y="454.2" width="7.3" height="5.22" fill="#ff0000"/>
<path d="M196.3 454.2L196.3 555.5" stroke="#000" stroke-width="0.6"/>
<text transform="translate(196.7 556.8) scale(1.25 1)" class="t">0</text>
<text transform="translate(196.7 544.14) scale(1.25 1)" class="t">2</text>
<text transform="translate(196.7 531.47) scale(1.25 1)" class="t">4</text>
<text transform="translate(196.7 518.81) scale(1.25 1)" class="t">6</text>
<text transform="translate(196.7 506.15) scale(1.25 1)" class="t">8</text>
<text transform="translate(196.7 493.49) scale(1.25 1)" class="t">10</text>
<text transform="translate(196.7 480.82) scale(1.25 1)" class="t">12</text>
<text transform="translate(196.7 468.16) scale(1.25 1)" class="t">14</text>
<text transform="translate(196.7 455.5) scale(1.25 1)" class="t">16</text>
<path d="M196.3 555.5h-3.6M196.3 542.84h-3.6M196.3 530.17h-3.6M196.3 517.51h-3.6M196.3 504.85h-3.6M196.3 492.19h-3.6M196.3 479.52h-3.6M196.3 466.86h-3.6M196.3 454.2h-3.6" stroke="#000" stroke-width="0.8" fill="none"/>
<text x="236.5" y="451.7" font-size="9.9" textLength="94.7" lengthAdjust="spacingAndGlyphs">Temperature calibration</text>
<rect x="236.5" y="454.2" width="136" height="101.3" fill="none" stroke="#000" stroke-width="1.15"/>
<path d="M236.5 555.5v-3.3M240.01 555.5v-1.8M243.53 555.5v-1.8M247.04 555.5v-1.8M250.55 555.5v-1.8M254.07 555.5v-3.3M257.58 555.5v-1.8M261.1 555.5v-1.8M264.61 555.5v-1.8M268.12 555.5v-1.8M271.64 555.5v-3.3M275.15 555.5v-1.8M278.66 555.5v-1.8M282.18 555.5v-1.8M285.69 555.5v-1.8M289.21 555.5v-3.3M292.72 555.5v-1.8M296.23 555.5v-1.8M299.75 555.5v-1.8M303.26 555.5v-1.8M306.77 555.5v-3.3M310.29 555.5v-1.8M313.8 555.5v-1.8M317.32 555.5v-1.8M320.83 555.5v-1.8M324.34 555.5v-3.3M327.86 555.5v-1.8M331.37 555.5v-1.8M334.88 555.5v-1.8M338.4 555.5v-1.8M341.91 555.5v-3.3M345.43 555.5v-1.8M348.94 555.5v-1.8M352.45 555.5v-1.8M355.97 555.5v-1.8M359.48 555.5v-3.3M362.99 555.5v-1.8M366.51 555.5v-1.8M370.02 555.5v-1.8" stroke="#000" stroke-width="1" fill="none"/>
<text transform="translate(236.2 559.9) scale(1.25 1)" class="t" text-anchor="middle">0</text>
<text transform="translate(253.77 559.9) scale(1.25 1)" class="t" text-anchor="middle">1</text>
<text transform="translate(271.34 559.9) scale(1.25 1)" class="t" text-anchor="middle">2</text>
<text transform="translate(288.91 559.9) scale(1.25 1)" class="t" text-anchor="middle">3</text>
<text transform="translate(306.47 559.9) scale(1.25 1)" class="t" text-anchor="middle">4</text>
<text transform="translate(324.04 559.9) scale(1.25 1)" class="t" text-anchor="middle">5</text>
<text transform="translate(341.61 559.9) scale(1.25 1)" class="t" text-anchor="middle">6</text>
<text transform="translate(359.18 559.9) scale(1.25 1)" class="t" text-anchor="middle">7</text>
<path d="M236.5 553.43h2.2M236.5 549.81h2.2M236.5 546.2h4.2M236.5 542.58h2.2M236.5 538.96h2.2M236.5 535.34h2.2M236.5 531.73h4.2M236.5 528.11h2.2M236.5 524.49h2.2M236.5 520.87h2.2M236.5 517.25h4.2M236.5 513.64h2.2M236.5 510.02h2.2M236.5 506.4h2.2M236.5 502.78h4.2M236.5 499.17h2.2M236.5 495.55h2.2M236.5 491.93h2.2M236.5 488.31h4.2M236.5 484.7h2.2M236.5 481.08h2.2M236.5 477.46h2.2M236.5 473.84h4.2M236.5 470.23h2.2M236.5 466.61h2.2M236.5 462.99h2.2M236.5 459.37h4.2M236.5 455.75h2.2" stroke="#000" stroke-width="1" fill="none"/>
<text transform="translate(235.5 547.5) scale(1.25 1)" class="t" text-anchor="end">0</text>
<text transform="translate(235.5 533.03) scale(1.25 1)" class="t" text-anchor="end">200</text>
<text transform="translate(235.5 518.55) scale(1.25 1)" class="t" text-anchor="end">400</text>
<text transform="translate(235.5 504.08) scale(1.25 1)" class="t" text-anchor="end">600</text>
<text transform="translate(235.5 489.61) scale(1.25 1)" class="t" text-anchor="end">800</text>
<text transform="translate(235.5 475.14) scale(1.25 1)" class="t" text-anchor="end">1000</text>
<text transform="translate(235.5 460.67) scale(1.25 1)" class="t" text-anchor="end">1200</text>
<path d="M233.22 462.27h7.2M236.82 458.67v7.2M234.12 459.57l5.4 5.4M234.12 464.97l5.4 -5.4M250.48 484.63h7.2M254.08 481.03v7.2M251.38 481.93l5.4 5.4M251.38 487.33l5.4 -5.4M267.93 513.65h7.2M271.53 510.05v7.2M268.83 510.95l5.4 5.4M268.83 516.35l5.4 -5.4M285.77 544.04h7.2M289.37 540.44v7.2M286.67 541.34l5.4 5.4M286.67 546.74l5.4 -5.4M303.22 546.59h7.2M306.82 542.99v7.2M304.12 543.89l5.4 5.4M304.12 549.29l5.4 -5.4M320.67 546.59h7.2M324.27 542.99v7.2M321.57 543.89l5.4 5.4M321.57 549.29l5.4 -5.4M338.52 547.18h7.2M342.12 543.58v7.2M339.42 544.48l5.4 5.4M339.42 549.88l5.4 -5.4M355.97 546.2h7.2M359.57 542.6v7.2M356.87 543.5l5.4 5.4M356.87 548.9l5.4 -5.4" stroke="#000" stroke-width="0.95" fill="none"/>
<text x="604" y="465.8" font-size="10" font-weight="bold" textLength="68" lengthAdjust="spacingAndGlyphs">Op. Parameters</text>
<text x="604.3" y="479.9" font-size="7.6" transform="translate(604.3 0) scale(1.1 1) translate(-604.3 0)">VANA:</text>
<text x="689.7" y="479.9" font-size="7.6" transform="translate(689.7 0) scale(1.1 1) translate(-689.7 0)">170 DAC</text>
<text x="604.3" y="488.6" font-size="7.6" transform="translate(604.3 0) scale(1.1 1) translate(-604.3 0)">CALDEL:</text>
<text x="689.7" y="488.6" font-size="7.6" transform="translate(689.7 0) scale(1.1 1) translate(-689.7 0)"> 81 DAC</text>
<text x="604.3" y="499.3" font-size="7.6" transform="translate(604.3 0) scale(1.1 1) translate(-604.3 0)">VTHR:</text>
<text x="689.7" y="499.3" font-size="7.6" transform="translate(689.7 0) scale(1.1 1) translate(-689.7 0)">100 DAC</text>
<text x="604.3" y="509.8" font-size="7.6" transform="translate(604.3 0) scale(1.1 1) translate(-604.3 0)">VTRIM:</text>
<text x="689.7" y="509.8" font-size="7.6" transform="translate(689.7 0) scale(1.1 1) translate(-689.7 0)">155 DAC</text>
<text x="604.3" y="520.1" font-size="7.6" transform="translate(604.3 0) scale(1.1 1) translate(-604.3 0)">IBIAS_DAC:</text>
<text x="689.7" y="520.1" font-size="7.6" transform="translate(689.7 0) scale(1.1 1) translate(-689.7 0)"> 99 DAC</text>
<text x="604.3" y="529.8" font-size="7.6" transform="translate(604.3 0) scale(1.1 1) translate(-604.3 0)">VOFFSETOP:</text>
<text x="689.7" y="529.8" font-size="7.6" transform="translate(689.7 0) scale(1.1 1) translate(-689.7 0)"> 52 DAC</text>
</svg></body></html>
